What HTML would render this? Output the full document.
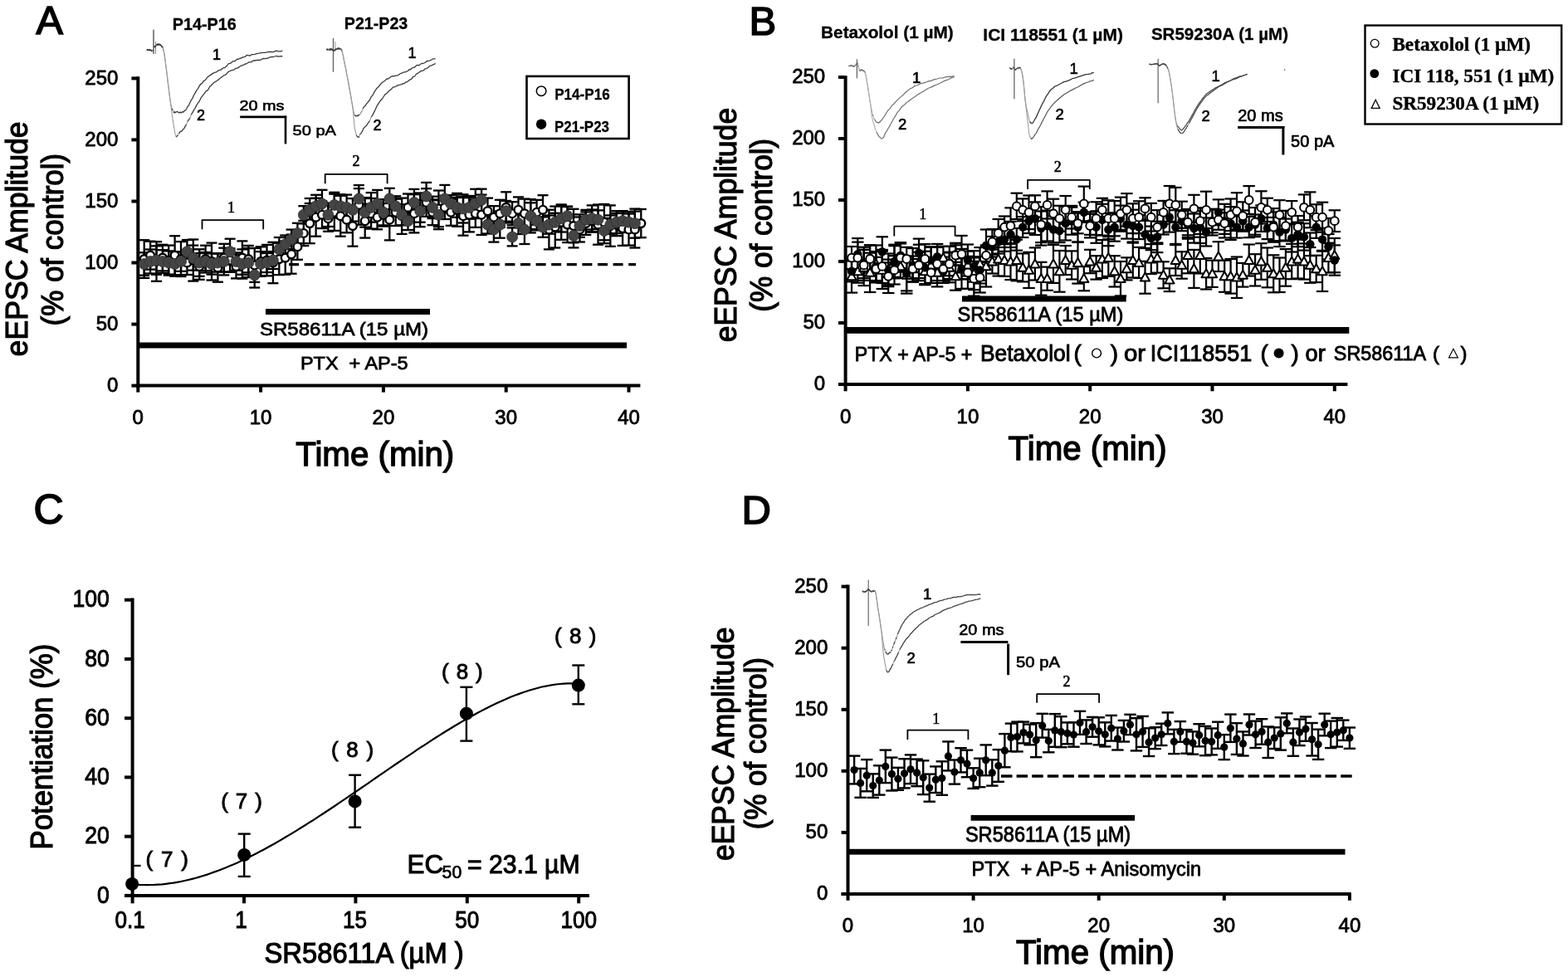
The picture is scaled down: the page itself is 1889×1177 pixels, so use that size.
<!DOCTYPE html>
<html><head><meta charset="utf-8"><title>Figure</title>
<style>html,body{margin:0;padding:0;background:#fff;}svg{display:block;}text{white-space:pre;}</style></head>
<body><svg width="1889" height="1177" viewBox="0 0 1889 1177">
<rect width="1889" height="1177" fill="#fff"/>
<text x="43.6" y="40.6" font-size="48.5" font-family="'Liberation Sans', Arial, sans-serif" stroke="#000" stroke-width="1.65" >A</text>
<text x="207.7" y="35.6" font-size="21" font-family="'Liberation Sans', Arial, sans-serif" font-weight="bold" textLength="77.0" lengthAdjust="spacingAndGlyphs" stroke="#000" stroke-width="0.32" >P14-P16</text>
<text x="414.8" y="35.4" font-size="21" font-family="'Liberation Sans', Arial, sans-serif" font-weight="bold" textLength="76.5" lengthAdjust="spacingAndGlyphs" stroke="#000" stroke-width="0.32" >P21-P23</text>
<line x1="185.0" y1="35.7" x2="185.0" y2="65.0" stroke="#555" stroke-width="1.4" />
<line x1="187.5" y1="50.0" x2="187.5" y2="65.0" stroke="#888" stroke-width="1.0" />
<path d="M177.0,59.6 L177.4,60.1 L178.1,59.9 L178.8,60.4 L179.6,60.5 L180.3,59.7 L181.0,59.7" fill="none" stroke="#3a3a3a" stroke-width="1.3" stroke-linejoin="round" />
<path d="M181.0,59.7 L181.6,61.2" fill="none" stroke="#9a9a9a" stroke-width="1.105" stroke-linejoin="round" />
<path d="M181.6,61.2 L182.1,60.4 L182.6,60.6" fill="none" stroke="#3a3a3a" stroke-width="1.3" stroke-linejoin="round" />
<path d="M182.6,60.6 L183.1,62.0" fill="none" stroke="#9a9a9a" stroke-width="1.105" stroke-linejoin="round" />
<path d="M183.1,62.0 L183.6,61.1 L184.0,61.5" fill="none" stroke="#3a3a3a" stroke-width="1.3" stroke-linejoin="round" />
<path d="M184.0,61.5 L184.4,60.5" fill="none" stroke="#9a9a9a" stroke-width="1.105" stroke-linejoin="round" />
<path d="M184.4,60.5 L184.7,60.2" fill="none" stroke="#3a3a3a" stroke-width="1.3" stroke-linejoin="round" />
<path d="M184.7,60.2 L185.0,58.7" fill="none" stroke="#9a9a9a" stroke-width="1.105" stroke-linejoin="round" />
<path d="M185.0,58.7 L185.3,58.6 L185.6,58.2" fill="none" stroke="#3a3a3a" stroke-width="1.3" stroke-linejoin="round" />
<path d="M185.6,58.2 L186.0,57.0" fill="none" stroke="#9a9a9a" stroke-width="1.105" stroke-linejoin="round" />
<path d="M186.0,57.0 L186.4,56.8 L186.9,56.1" fill="none" stroke="#3a3a3a" stroke-width="1.3" stroke-linejoin="round" />
<path d="M186.9,56.1 L187.4,54.6" fill="none" stroke="#9a9a9a" stroke-width="1.105" stroke-linejoin="round" />
<path d="M187.4,54.6 L188.0,55.2 L188.5,54.5 L189.0,53.7 L189.5,53.0 L190.0,54.1 L190.5,53.4 L191.0,53.7 L191.5,54.0 L192.0,53.8 L192.5,54.4 L193.0,53.8 L193.5,54.8 L194.0,54.7" fill="none" stroke="#3a3a3a" stroke-width="1.3" stroke-linejoin="round" />
<path d="M194.0,54.7 L194.5,56.0" fill="none" stroke="#9a9a9a" stroke-width="1.105" stroke-linejoin="round" />
<path d="M194.5,56.0 L195.0,56.6 L195.4,56.0 L195.8,56.7 L196.2,57.6" fill="none" stroke="#3a3a3a" stroke-width="1.3" stroke-linejoin="round" />
<path d="M196.2,57.6 L196.6,59.7" fill="none" stroke="#9a9a9a" stroke-width="1.105" stroke-linejoin="round" />
<path d="M196.6,59.7 L197.0,60.2" fill="none" stroke="#3a3a3a" stroke-width="1.3" stroke-linejoin="round" />
<path d="M197.0,60.2 L197.4,62.2 L197.8,63.9 L198.2,66.9 L198.7,69.6 L199.1,72.8 L199.5,76.6 L200.0,80.1 L200.5,84.5 L201.0,88.3 L201.5,93.0 L202.0,97.3 L202.5,101.8 L203.0,105.3 L203.5,108.3 L204.0,113.3 L204.5,117.3 L205.0,120.7 L205.5,123.4 L206.0,126.3 L206.5,127.8 L206.9,130.6" fill="none" stroke="#9a9a9a" stroke-width="1.105" stroke-linejoin="round" />
<path d="M206.9,130.6 L207.4,131.6 L207.9,132.4 L208.4,133.0" fill="none" stroke="#3a3a3a" stroke-width="1.3" stroke-linejoin="round" />
<path d="M208.4,133.0 L209.0,135.1" fill="none" stroke="#9a9a9a" stroke-width="1.105" stroke-linejoin="round" />
<path d="M209.0,135.1 L209.7,135.8 L210.4,134.6 L211.2,135.8 L212.1,135.0 L213.0,134.5 L214.0,134.7 L215.0,135.6 L216.2,136.0 L217.3,134.9 L218.5,135.9 L219.8,134.7 L221.0,135.1 L222.2,133.4 L223.5,132.8 L224.7,131.3 L226.0,128.5 L227.4,127.1 L228.8,123.7 L230.3,120.7 L231.9,118.6 L233.6,114.5 L235.3,111.6 L236.9,108.9 L238.6,106.6 L240.2,103.5 L241.9,101.1 L243.6,100.4 L245.2,97.6 L246.8,96.9 L248.4,95.2 L249.9,93.0 L251.3,91.9 L252.6,90.9 L254.0,90.1 L255.4,89.1 L257.0,88.1 L258.7,87.3 L260.5,86.9 L262.4,85.4 L264.3,84.5 L266.2,84.2 L267.9,82.5 L269.5,81.6 L271.0,81.6 L272.5,79.8 L273.9,78.7 L275.4,76.7 L277.0,76.4 L278.7,75.6 L280.4,73.8 L282.2,73.8 L284.0,72.9 L285.8,71.2 L287.5,71.3 L289.1,70.3 L290.7,70.0 L292.3,68.9 L293.8,68.9 L295.4,68.4 L297.0,66.7 L298.6,66.4 L300.1,67.0 L301.6,67.1 L303.3,65.6 L305.1,65.6 L307.1,65.4 L309.4,64.6 L311.9,64.2 L314.6,63.7 L317.4,63.4 L320.2,63.3 L323.0,62.5 L326.0,62.3 L329.3,62.6 L332.7,61.1 L335.8,61.8 L338.5,61.8 L340.4,61.0" fill="none" stroke="#3a3a3a" stroke-width="1.3" stroke-linejoin="round" />
<path d="M177.0,59.6 L177.4,60.5 L178.1,59.7 L178.8,59.7 L179.6,60.2 L180.3,60.7 L181.0,59.9 L181.6,60.4 L182.1,60.6 L182.6,61.6 L183.1,61.1 L183.6,61.7" fill="none" stroke="#3a3a3a" stroke-width="1.3" stroke-linejoin="round" />
<path d="M183.6,61.7 L184.0,60.5" fill="none" stroke="#9a9a9a" stroke-width="1.105" stroke-linejoin="round" />
<path d="M184.0,60.5 L184.4,60.3 L184.7,60.2 L185.0,59.8" fill="none" stroke="#3a3a3a" stroke-width="1.3" stroke-linejoin="round" />
<path d="M185.0,59.8 L185.3,58.3 L185.6,57.2" fill="none" stroke="#9a9a9a" stroke-width="1.105" stroke-linejoin="round" />
<path d="M185.6,57.2 L186.0,56.4 L186.4,56.5 L186.9,55.3 L187.4,55.8 L188.0,55.3" fill="none" stroke="#3a3a3a" stroke-width="1.3" stroke-linejoin="round" />
<path d="M188.0,55.3 L188.5,53.8" fill="none" stroke="#9a9a9a" stroke-width="1.105" stroke-linejoin="round" />
<path d="M188.5,53.8 L189.0,53.6 L189.5,54.2 L190.0,53.8 L190.5,53.9 L191.0,53.1 L191.5,52.8 L192.0,53.2 L192.5,54.2 L193.0,53.6 L193.5,54.1 L194.0,54.7 L194.5,55.2 L195.0,55.9" fill="none" stroke="#3a3a3a" stroke-width="1.3" stroke-linejoin="round" />
<path d="M195.0,55.9 L195.4,57.3" fill="none" stroke="#9a9a9a" stroke-width="1.105" stroke-linejoin="round" />
<path d="M195.4,57.3 L195.8,56.7 L196.2,57.2" fill="none" stroke="#3a3a3a" stroke-width="1.3" stroke-linejoin="round" />
<path d="M196.2,57.2 L196.6,59.7 L197.0,60.9 L197.4,62.8 L197.8,64.1 L198.2,67.6 L198.7,70.5 L199.1,72.6 L199.5,76.8 L200.0,80.5 L200.5,84.0 L201.0,87.9 L201.5,91.8 L202.0,96.3 L202.5,100.4 L203.0,104.3 L203.5,109.1 L204.0,112.5 L204.5,117.2 L205.0,119.8 L205.5,124.9 L206.0,128.3 L206.5,132.5 L207.0,136.3 L207.5,140.2 L208.0,143.4 L208.5,146.0 L209.0,150.4 L209.5,152.5 L210.0,155.7 L210.5,159.0 L211.0,161.2 L211.5,162.9 L212.1,164.9" fill="none" stroke="#9a9a9a" stroke-width="1.105" stroke-linejoin="round" />
<path d="M212.1,164.9 L212.7,164.7 L213.3,163.9 L213.9,162.9 L214.6,162.7" fill="none" stroke="#3a3a3a" stroke-width="1.3" stroke-linejoin="round" />
<path d="M214.6,162.7 L215.3,160.9" fill="none" stroke="#9a9a9a" stroke-width="1.105" stroke-linejoin="round" />
<path d="M215.3,160.9 L216.0,160.5 L216.7,159.1 L217.4,158.3 L218.2,158.3 L219.0,158.1 L219.9,156.2 L220.9,155.9 L222.0,154.4 L223.2,152.1 L224.5,149.9" fill="none" stroke="#3a3a3a" stroke-width="1.3" stroke-linejoin="round" />
<path d="M224.5,149.9 L225.9,146.1" fill="none" stroke="#9a9a9a" stroke-width="1.105" stroke-linejoin="round" />
<path d="M225.9,146.1 L227.3,144.5 L228.8,142.3" fill="none" stroke="#3a3a3a" stroke-width="1.3" stroke-linejoin="round" />
<path d="M228.8,142.3 L230.3,138.2" fill="none" stroke="#9a9a9a" stroke-width="1.105" stroke-linejoin="round" />
<path d="M230.3,138.2 L231.9,135.6 L233.6,132.5 L235.3,129.8 L236.9,126.6 L238.6,124.0 L240.2,121.9 L241.9,118.2 L243.6,115.9 L245.2,113.8 L246.8,111.7 L248.4,109.6 L249.9,109.2 L251.3,107.2 L252.6,104.4 L254.0,103.5 L255.4,101.7 L257.0,100.2 L258.7,98.8 L260.5,97.9 L262.4,96.5 L264.3,94.9 L266.2,93.4 L267.9,92.4 L269.5,90.9 L271.0,90.4 L272.5,89.5 L273.9,87.9 L275.4,86.3 L277.0,85.5 L278.7,84.8 L280.4,84.3 L282.2,83.8 L284.0,82.3 L285.8,82.2 L287.5,81.1 L289.1,80.0 L290.7,79.1 L292.3,78.6 L293.8,78.2 L295.4,77.0 L297.0,76.8 L298.6,75.8 L300.1,74.9 L301.6,74.8 L303.3,74.5 L305.1,73.0 L307.1,73.0 L309.4,72.4 L311.9,72.5 L314.6,71.9 L317.4,70.4 L320.2,70.7 L323.0,70.0 L326.0,68.6 L329.3,68.5 L332.7,67.5 L335.8,68.2 L338.5,67.7 L340.4,67.8" fill="none" stroke="#3a3a3a" stroke-width="1.3" stroke-linejoin="round" />
<text x="256.0" y="72.0" font-size="18" font-family="'Liberation Sans', Arial, sans-serif" stroke="#000" stroke-width="0.61" >1</text>
<text x="237.0" y="144.7" font-size="18" font-family="'Liberation Sans', Arial, sans-serif" stroke="#000" stroke-width="0.61" >2</text>
<text x="288.5" y="133.2" font-size="17" font-family="'Liberation Sans', Arial, sans-serif" textLength="54.0" lengthAdjust="spacingAndGlyphs" stroke="#000" stroke-width="0.58" >20 ms</text>
<line x1="289.2" y1="140.9" x2="345.2" y2="140.9" stroke="#000" stroke-width="2.6" />
<line x1="344.0" y1="139.6" x2="344.0" y2="173.4" stroke="#000" stroke-width="2.6" />
<text x="352.5" y="163.0" font-size="17" font-family="'Liberation Sans', Arial, sans-serif" textLength="52.5" lengthAdjust="spacingAndGlyphs" stroke="#000" stroke-width="0.58" >50 pA</text>
<line x1="401.5" y1="45.9" x2="401.5" y2="86.7" stroke="#666" stroke-width="1.4" />
<line x1="404.0" y1="50.0" x2="404.0" y2="62.0" stroke="#999" stroke-width="1.0" />
<path d="M393.3,59.9 L393.6,59.7 L394.0,60.0 L394.5,59.8 L395.0,59.2 L395.5,60.1 L396.0,59.2 L396.5,59.4 L397.0,60.3 L397.6,58.9 L398.1,58.9 L398.7,58.8 L399.2,60.0 L399.7,59.0 L400.2,59.0" fill="none" stroke="#3a3a3a" stroke-width="1.3" stroke-linejoin="round" />
<path d="M400.2,59.0 L400.6,60.5" fill="none" stroke="#9a9a9a" stroke-width="1.105" stroke-linejoin="round" />
<path d="M400.6,60.5 L401.1,59.6" fill="none" stroke="#3a3a3a" stroke-width="1.3" stroke-linejoin="round" />
<path d="M401.1,59.6 L401.5,61.0" fill="none" stroke="#9a9a9a" stroke-width="1.105" stroke-linejoin="round" />
<path d="M401.5,61.0 L402.0,60.8 L402.5,61.0 L403.0,61.0 L403.5,60.2 L404.0,60.3" fill="none" stroke="#3a3a3a" stroke-width="1.3" stroke-linejoin="round" />
<path d="M404.0,60.3 L404.5,58.9" fill="none" stroke="#9a9a9a" stroke-width="1.105" stroke-linejoin="round" />
<path d="M404.5,58.9 L405.0,59.8 L405.5,59.2 L406.0,59.3" fill="none" stroke="#3a3a3a" stroke-width="1.3" stroke-linejoin="round" />
<path d="M406.0,59.3 L406.4,58.1" fill="none" stroke="#9a9a9a" stroke-width="1.105" stroke-linejoin="round" />
<path d="M406.4,58.1 L406.9,58.9 L407.4,59.1 L408.0,57.8 L408.6,58.3 L409.2,58.7 L409.9,59.3 L410.6,58.8 L411.3,59.5 L411.9,60.9" fill="none" stroke="#3a3a3a" stroke-width="1.3" stroke-linejoin="round" />
<path d="M411.9,60.9 L412.5,63.5 L413.1,66.2 L413.7,68.6 L414.3,71.7 L414.9,74.9 L415.5,77.8 L416.0,80.4 L416.5,82.3 L417.0,85.3 L417.5,88.6 L418.1,90.7 L418.8,95.0 L419.7,98.9 L420.7,105.6 L421.8,112.1 L422.9,118.2 L423.9,123.5 L424.7,127.9 L425.3,131.3 L425.7,133.9" fill="none" stroke="#9a9a9a" stroke-width="1.105" stroke-linejoin="round" />
<path d="M425.7,133.9 L426.0,134.4" fill="none" stroke="#3a3a3a" stroke-width="1.3" stroke-linejoin="round" />
<path d="M426.0,134.4 L426.3,135.5 L426.6,137.5 L427.0,138.7" fill="none" stroke="#9a9a9a" stroke-width="1.105" stroke-linejoin="round" />
<path d="M427.0,138.7 L427.5,138.8 L428.1,139.3 L428.7,140.0 L429.3,139.3 L429.9,139.4 L430.5,139.2 L431.1,139.7 L431.6,139.0 L432.2,138.5 L432.8,138.7 L433.4,138.5" fill="none" stroke="#3a3a3a" stroke-width="1.3" stroke-linejoin="round" />
<path d="M433.4,138.5 L434.0,136.7" fill="none" stroke="#9a9a9a" stroke-width="1.105" stroke-linejoin="round" />
<path d="M434.0,136.7 L434.6,136.4" fill="none" stroke="#3a3a3a" stroke-width="1.3" stroke-linejoin="round" />
<path d="M434.6,136.4 L435.2,134.9" fill="none" stroke="#9a9a9a" stroke-width="1.105" stroke-linejoin="round" />
<path d="M435.2,134.9 L435.8,134.4" fill="none" stroke="#3a3a3a" stroke-width="1.3" stroke-linejoin="round" />
<path d="M435.8,134.4 L436.5,132.7 L437.2,130.9" fill="none" stroke="#9a9a9a" stroke-width="1.105" stroke-linejoin="round" />
<path d="M437.2,130.9 L438.0,129.5 L438.9,128.0 L439.8,127.7 L440.7,126.3 L441.8,124.7 L442.9,123.6 L444.2,121.7 L445.6,120.2 L447.2,116.6 L448.9,115.1 L450.6,111.4 L452.3,108.9 L454.0,106.3 L455.6,104.9 L457.3,103.0 L458.9,100.9 L460.6,99.2 L462.2,98.2 L463.8,97.2 L465.4,95.4 L466.9,95.0 L468.4,94.6 L469.9,93.2 L471.4,92.2 L473.0,91.6 L474.7,91.8 L476.4,91.2 L478.2,91.1 L479.9,90.5 L481.7,89.0 L483.4,88.3 L485.0,87.7 L486.6,86.8 L488.2,86.8 L489.8,86.2 L491.4,85.5 L493.0,83.6 L494.6,83.8 L496.3,82.0 L497.9,81.4 L499.6,81.0 L501.3,79.1 L503.0,78.3 L504.8,78.8 L506.6,77.1 L508.5,76.5 L510.3,76.1 L512.2,75.5 L514.0,73.7 L515.9,73.5 L518.0,72.8 L520.0,72.0 L521.9,70.8 L523.5,70.8 L524.6,70.9" fill="none" stroke="#3a3a3a" stroke-width="1.3" stroke-linejoin="round" />
<path d="M393.3,59.2 L393.6,59.6 L394.0,59.0 L394.5,59.4 L395.0,60.1 L395.5,59.3" fill="none" stroke="#3a3a3a" stroke-width="1.3" stroke-linejoin="round" />
<path d="M395.5,59.3 L396.0,60.6" fill="none" stroke="#9a9a9a" stroke-width="1.105" stroke-linejoin="round" />
<path d="M396.0,60.6 L396.5,60.6" fill="none" stroke="#3a3a3a" stroke-width="1.3" stroke-linejoin="round" />
<path d="M396.5,60.6 L397.0,59.2" fill="none" stroke="#9a9a9a" stroke-width="1.105" stroke-linejoin="round" />
<path d="M397.0,59.2 L397.6,60.4 L398.1,59.3 L398.7,59.9 L399.2,59.8 L399.7,59.2 L400.2,60.0 L400.6,60.2 L401.1,60.7 L401.5,60.0 L402.0,60.9 L402.5,61.2 L403.0,60.6 L403.5,60.1 L404.0,59.2 L404.5,59.6 L405.0,59.2 L405.5,59.5 L406.0,59.2 L406.4,58.8 L406.9,58.0 L407.4,58.7 L408.0,58.7 L408.6,58.1 L409.2,59.3 L409.9,59.0 L410.6,58.6" fill="none" stroke="#3a3a3a" stroke-width="1.3" stroke-linejoin="round" />
<path d="M410.6,58.6 L411.3,60.7" fill="none" stroke="#9a9a9a" stroke-width="1.105" stroke-linejoin="round" />
<path d="M411.3,60.7 L411.9,60.7" fill="none" stroke="#3a3a3a" stroke-width="1.3" stroke-linejoin="round" />
<path d="M411.9,60.7 L412.5,63.0 L413.1,66.2 L413.7,68.9 L414.3,72.0 L414.9,75.3 L415.5,77.9 L416.0,80.3 L416.5,82.4 L417.0,84.6 L417.5,88.2 L418.1,91.3 L418.8,94.7 L419.7,99.7 L420.7,104.6 L421.8,110.4 L422.9,116.7 L423.9,123.3 L424.7,127.2 L425.3,132.6 L425.7,136.6 L426.0,141.6 L426.3,144.9 L426.6,148.5 L427.0,151.8 L427.5,155.1 L428.1,158.2 L428.7,160.1 L429.3,163.0" fill="none" stroke="#9a9a9a" stroke-width="1.105" stroke-linejoin="round" />
<path d="M429.3,163.0 L429.9,163.5 L430.5,164.8 L431.1,165.0 L431.6,164.9 L432.2,165.3 L432.8,164.3" fill="none" stroke="#3a3a3a" stroke-width="1.3" stroke-linejoin="round" />
<path d="M432.8,164.3 L433.4,162.4" fill="none" stroke="#9a9a9a" stroke-width="1.105" stroke-linejoin="round" />
<path d="M433.4,162.4 L434.0,161.5 L434.6,160.9 L435.2,160.4 L435.8,159.3 L436.5,157.9 L437.2,156.4 L438.0,154.4 L438.9,153.8 L439.8,152.5 L440.7,152.1 L441.8,151.0 L442.9,149.0 L444.2,147.1 L445.6,145.3" fill="none" stroke="#3a3a3a" stroke-width="1.3" stroke-linejoin="round" />
<path d="M445.6,145.3 L447.2,140.9" fill="none" stroke="#9a9a9a" stroke-width="1.105" stroke-linejoin="round" />
<path d="M447.2,140.9 L448.9,138.6 L450.6,135.1 L452.3,131.7 L454.0,127.7 L455.6,125.3 L457.2,122.9 L458.8,120.7 L460.4,119.0 L462.1,116.5 L463.8,113.9 L465.7,112.8 L467.6,110.4 L469.6,108.8 L471.6,107.4 L473.6,104.9 L475.6,104.8 L477.6,103.7 L479.7,102.7 L481.7,102.2 L483.7,101.6 L485.6,100.7 L487.3,100.5 L488.8,98.9 L490.2,98.8 L491.4,98.1 L492.6,96.9 L493.7,96.1 L495.0,95.7 L496.3,94.6 L497.5,92.4 L498.8,92.4 L500.1,91.1 L501.5,89.2 L503.0,88.6 L504.7,87.3 L506.5,85.9 L508.3,85.4 L510.3,84.9 L512.2,82.8 L514.0,82.6 L515.9,81.2 L518.0,79.1 L520.0,79.1 L521.9,77.7 L523.5,77.3 L524.6,76.3" fill="none" stroke="#3a3a3a" stroke-width="1.3" stroke-linejoin="round" />
<text x="491.5" y="70.1" font-size="18" font-family="'Liberation Sans', Arial, sans-serif" stroke="#000" stroke-width="0.61" >1</text>
<text x="449.5" y="156.9" font-size="18" font-family="'Liberation Sans', Arial, sans-serif" stroke="#000" stroke-width="0.61" >2</text>
<rect x="634.5" y="91.9" width="123.1" height="75.1" fill="#fff" stroke="#000" stroke-width="2.6"/>
<circle cx="652.1" cy="109.7" r="5.8" fill="#fff" stroke="#000" stroke-width="1.5"/>
<text x="668.2" y="120.3" font-size="17.5" font-family="'Liberation Sans', Arial, sans-serif" font-weight="bold" textLength="66.5" lengthAdjust="spacingAndGlyphs" stroke="#000" stroke-width="0.26" >P14-P16</text>
<circle cx="652.1" cy="149.7" r="6.2" fill="#000" stroke="none" stroke-width="0"/>
<text x="668.0" y="158.6" font-size="17.5" font-family="'Liberation Sans', Arial, sans-serif" font-weight="bold" textLength="66.0" lengthAdjust="spacingAndGlyphs" stroke="#000" stroke-width="0.26" >P21-P23</text>
<line x1="166.3" y1="92.3" x2="166.3" y2="466.6" stroke="#000" stroke-width="4" />
<line x1="158.4" y1="94.4" x2="166.3" y2="94.4" stroke="#000" stroke-width="4" />
<text x="142.4" y="101.6" font-size="24" font-family="'Liberation Sans', Arial, sans-serif" text-anchor="end" stroke="#000" stroke-width="0.82" >250</text>
<line x1="158.4" y1="168.4" x2="166.3" y2="168.4" stroke="#000" stroke-width="4" />
<text x="142.4" y="175.6" font-size="24" font-family="'Liberation Sans', Arial, sans-serif" text-anchor="end" stroke="#000" stroke-width="0.82" >200</text>
<line x1="158.4" y1="242.5" x2="166.3" y2="242.5" stroke="#000" stroke-width="4" />
<text x="142.4" y="249.7" font-size="24" font-family="'Liberation Sans', Arial, sans-serif" text-anchor="end" stroke="#000" stroke-width="0.82" >150</text>
<line x1="158.4" y1="316.5" x2="166.3" y2="316.5" stroke="#000" stroke-width="4" />
<text x="142.4" y="323.7" font-size="24" font-family="'Liberation Sans', Arial, sans-serif" text-anchor="end" stroke="#000" stroke-width="0.82" >100</text>
<line x1="158.4" y1="390.6" x2="166.3" y2="390.6" stroke="#000" stroke-width="4" />
<text x="142.4" y="397.8" font-size="24" font-family="'Liberation Sans', Arial, sans-serif" text-anchor="end" stroke="#000" stroke-width="0.82" >50</text>
<line x1="158.4" y1="464.6" x2="166.3" y2="464.6" stroke="#000" stroke-width="4" />
<text x="142.4" y="471.8" font-size="24" font-family="'Liberation Sans', Arial, sans-serif" text-anchor="end" stroke="#000" stroke-width="0.82" >0</text>
<line x1="164.3" y1="464.6" x2="771.4" y2="464.6" stroke="#000" stroke-width="4" />
<line x1="166.3" y1="464.6" x2="166.3" y2="472.6" stroke="#000" stroke-width="4" />
<text x="166.3" y="511.3" font-size="24" font-family="'Liberation Sans', Arial, sans-serif" text-anchor="middle" stroke="#000" stroke-width="0.82" >0</text>
<line x1="314.1" y1="464.6" x2="314.1" y2="472.6" stroke="#000" stroke-width="4" />
<text x="314.1" y="511.3" font-size="24" font-family="'Liberation Sans', Arial, sans-serif" text-anchor="middle" stroke="#000" stroke-width="0.82" >10</text>
<line x1="461.9" y1="464.6" x2="461.9" y2="472.6" stroke="#000" stroke-width="4" />
<text x="461.9" y="511.3" font-size="24" font-family="'Liberation Sans', Arial, sans-serif" text-anchor="middle" stroke="#000" stroke-width="0.82" >20</text>
<line x1="609.7" y1="464.6" x2="609.7" y2="472.6" stroke="#000" stroke-width="4" />
<text x="609.7" y="511.3" font-size="24" font-family="'Liberation Sans', Arial, sans-serif" text-anchor="middle" stroke="#000" stroke-width="0.82" >30</text>
<line x1="757.5" y1="464.6" x2="757.5" y2="472.6" stroke="#000" stroke-width="4" />
<text x="757.5" y="511.3" font-size="24" font-family="'Liberation Sans', Arial, sans-serif" text-anchor="middle" stroke="#000" stroke-width="0.82" >40</text>
<text x="451.8" y="560.7" font-size="41.5" font-family="'Liberation Sans', Arial, sans-serif" text-anchor="middle" textLength="191.0" lengthAdjust="spacingAndGlyphs" stroke="#000" stroke-width="1.41" >Time (min)</text>
<text x="33.5" y="287.9" font-size="36" font-family="'Liberation Sans', Arial, sans-serif" text-anchor="middle" textLength="283.0" lengthAdjust="spacingAndGlyphs" transform="rotate(-90 33.5 287.9)" stroke="#000" stroke-width="1.22" >eEPSC Amplitude</text>
<text x="76.0" y="288.7" font-size="36" font-family="'Liberation Sans', Arial, sans-serif" text-anchor="middle" textLength="207.5" lengthAdjust="spacingAndGlyphs" transform="rotate(-90 76.0 288.7)" stroke="#000" stroke-width="1.22" >(% of control)</text>
<rect x="320.0" y="372.0" width="198.0" height="7.0" fill="#000"/>
<text x="313.0" y="403.6" font-size="22.5" font-family="'Liberation Sans', Arial, sans-serif" textLength="203.0" lengthAdjust="spacingAndGlyphs" stroke="#000" stroke-width="0.77" >SR58611A (15 µM)</text>
<rect x="168.0" y="412.5" width="587.0" height="7.0" fill="#000"/>
<text x="362.0" y="444.5" font-size="22.5" font-family="'Liberation Sans', Arial, sans-serif" textLength="129.5" lengthAdjust="spacingAndGlyphs" stroke="#000" stroke-width="0.77" >PTX  + AP-5</text>
<path d="M243.5,276.2 L243.5,265.2 L317.2,265.2 L317.2,276.2" fill="none" stroke="#000" stroke-width="1.8" stroke-linejoin="round" />
<text x="278.6" y="255.9" font-size="18" font-family="'Liberation Serif', 'Times New Roman', serif" text-anchor="middle" stroke="#000" stroke-width="0.61" >1</text>
<path d="M391.7,221.2 L391.7,209.8 L466.6,209.8 L466.6,221.2" fill="none" stroke="#000" stroke-width="1.8" stroke-linejoin="round" />
<text x="429.0" y="200.0" font-size="18" font-family="'Liberation Serif', 'Times New Roman', serif" text-anchor="middle" stroke="#000" stroke-width="0.61" >2</text>
<line x1="348.0" y1="318.6" x2="766.0" y2="318.6" stroke="#000" stroke-width="3.4" stroke-dasharray="12 6.6"/>
<line x1="173.7" y1="334.9" x2="173.7" y2="289.2" stroke="#000" stroke-width="2.3" />
<line x1="167.2" y1="334.9" x2="180.2" y2="334.9" stroke="#000" stroke-width="2.3" />
<line x1="167.2" y1="289.2" x2="180.2" y2="289.2" stroke="#000" stroke-width="2.3" />
<line x1="181.1" y1="324.6" x2="181.1" y2="290.7" stroke="#000" stroke-width="2.3" />
<line x1="174.6" y1="324.6" x2="187.6" y2="324.6" stroke="#000" stroke-width="2.3" />
<line x1="174.6" y1="290.7" x2="187.6" y2="290.7" stroke="#000" stroke-width="2.3" />
<line x1="188.5" y1="338.8" x2="188.5" y2="291.2" stroke="#000" stroke-width="2.3" />
<line x1="182.0" y1="338.8" x2="195.0" y2="338.8" stroke="#000" stroke-width="2.3" />
<line x1="182.0" y1="291.2" x2="195.0" y2="291.2" stroke="#000" stroke-width="2.3" />
<line x1="195.9" y1="326.4" x2="195.9" y2="294.8" stroke="#000" stroke-width="2.3" />
<line x1="189.4" y1="326.4" x2="202.4" y2="326.4" stroke="#000" stroke-width="2.3" />
<line x1="189.4" y1="294.8" x2="202.4" y2="294.8" stroke="#000" stroke-width="2.3" />
<line x1="203.2" y1="331.6" x2="203.2" y2="295.6" stroke="#000" stroke-width="2.3" />
<line x1="196.8" y1="331.6" x2="209.8" y2="331.6" stroke="#000" stroke-width="2.3" />
<line x1="196.8" y1="295.6" x2="209.8" y2="295.6" stroke="#000" stroke-width="2.3" />
<line x1="210.6" y1="331.1" x2="210.6" y2="284.2" stroke="#000" stroke-width="2.3" />
<line x1="204.1" y1="331.1" x2="217.1" y2="331.1" stroke="#000" stroke-width="2.3" />
<line x1="204.1" y1="284.2" x2="217.1" y2="284.2" stroke="#000" stroke-width="2.3" />
<line x1="218.0" y1="333.0" x2="218.0" y2="291.1" stroke="#000" stroke-width="2.3" />
<line x1="211.5" y1="333.0" x2="224.5" y2="333.0" stroke="#000" stroke-width="2.3" />
<line x1="211.5" y1="291.1" x2="224.5" y2="291.1" stroke="#000" stroke-width="2.3" />
<line x1="225.4" y1="331.0" x2="225.4" y2="302.0" stroke="#000" stroke-width="2.3" />
<line x1="218.9" y1="331.0" x2="231.9" y2="331.0" stroke="#000" stroke-width="2.3" />
<line x1="218.9" y1="302.0" x2="231.9" y2="302.0" stroke="#000" stroke-width="2.3" />
<line x1="232.8" y1="338.6" x2="232.8" y2="288.5" stroke="#000" stroke-width="2.3" />
<line x1="226.3" y1="338.6" x2="239.3" y2="338.6" stroke="#000" stroke-width="2.3" />
<line x1="226.3" y1="288.5" x2="239.3" y2="288.5" stroke="#000" stroke-width="2.3" />
<line x1="240.2" y1="336.8" x2="240.2" y2="305.1" stroke="#000" stroke-width="2.3" />
<line x1="233.7" y1="336.8" x2="246.7" y2="336.8" stroke="#000" stroke-width="2.3" />
<line x1="233.7" y1="305.1" x2="246.7" y2="305.1" stroke="#000" stroke-width="2.3" />
<line x1="247.6" y1="328.5" x2="247.6" y2="295.7" stroke="#000" stroke-width="2.3" />
<line x1="241.1" y1="328.5" x2="254.1" y2="328.5" stroke="#000" stroke-width="2.3" />
<line x1="241.1" y1="295.7" x2="254.1" y2="295.7" stroke="#000" stroke-width="2.3" />
<line x1="255.0" y1="337.5" x2="255.0" y2="292.6" stroke="#000" stroke-width="2.3" />
<line x1="248.5" y1="337.5" x2="261.5" y2="337.5" stroke="#000" stroke-width="2.3" />
<line x1="248.5" y1="292.6" x2="261.5" y2="292.6" stroke="#000" stroke-width="2.3" />
<line x1="262.4" y1="339.7" x2="262.4" y2="305.2" stroke="#000" stroke-width="2.3" />
<line x1="255.9" y1="339.7" x2="268.9" y2="339.7" stroke="#000" stroke-width="2.3" />
<line x1="255.9" y1="305.2" x2="268.9" y2="305.2" stroke="#000" stroke-width="2.3" />
<line x1="269.8" y1="327.4" x2="269.8" y2="293.8" stroke="#000" stroke-width="2.3" />
<line x1="263.3" y1="327.4" x2="276.3" y2="327.4" stroke="#000" stroke-width="2.3" />
<line x1="263.3" y1="293.8" x2="276.3" y2="293.8" stroke="#000" stroke-width="2.3" />
<line x1="277.1" y1="327.8" x2="277.1" y2="299.4" stroke="#000" stroke-width="2.3" />
<line x1="270.6" y1="327.8" x2="283.6" y2="327.8" stroke="#000" stroke-width="2.3" />
<line x1="270.6" y1="299.4" x2="283.6" y2="299.4" stroke="#000" stroke-width="2.3" />
<line x1="284.5" y1="335.4" x2="284.5" y2="306.6" stroke="#000" stroke-width="2.3" />
<line x1="278.0" y1="335.4" x2="291.0" y2="335.4" stroke="#000" stroke-width="2.3" />
<line x1="278.0" y1="306.6" x2="291.0" y2="306.6" stroke="#000" stroke-width="2.3" />
<line x1="291.9" y1="330.8" x2="291.9" y2="290.4" stroke="#000" stroke-width="2.3" />
<line x1="285.4" y1="330.8" x2="298.4" y2="330.8" stroke="#000" stroke-width="2.3" />
<line x1="285.4" y1="290.4" x2="298.4" y2="290.4" stroke="#000" stroke-width="2.3" />
<line x1="299.3" y1="328.3" x2="299.3" y2="295.9" stroke="#000" stroke-width="2.3" />
<line x1="292.8" y1="328.3" x2="305.8" y2="328.3" stroke="#000" stroke-width="2.3" />
<line x1="292.8" y1="295.9" x2="305.8" y2="295.9" stroke="#000" stroke-width="2.3" />
<line x1="306.7" y1="339.9" x2="306.7" y2="299.0" stroke="#000" stroke-width="2.3" />
<line x1="300.2" y1="339.9" x2="313.2" y2="339.9" stroke="#000" stroke-width="2.3" />
<line x1="300.2" y1="299.0" x2="313.2" y2="299.0" stroke="#000" stroke-width="2.3" />
<line x1="314.1" y1="332.8" x2="314.1" y2="297.3" stroke="#000" stroke-width="2.3" />
<line x1="307.6" y1="332.8" x2="320.6" y2="332.8" stroke="#000" stroke-width="2.3" />
<line x1="307.6" y1="297.3" x2="320.6" y2="297.3" stroke="#000" stroke-width="2.3" />
<line x1="321.5" y1="332.3" x2="321.5" y2="294.9" stroke="#000" stroke-width="2.3" />
<line x1="315.0" y1="332.3" x2="328.0" y2="332.3" stroke="#000" stroke-width="2.3" />
<line x1="315.0" y1="294.9" x2="328.0" y2="294.9" stroke="#000" stroke-width="2.3" />
<line x1="328.9" y1="341.2" x2="328.9" y2="291.8" stroke="#000" stroke-width="2.3" />
<line x1="322.4" y1="341.2" x2="335.4" y2="341.2" stroke="#000" stroke-width="2.3" />
<line x1="322.4" y1="291.8" x2="335.4" y2="291.8" stroke="#000" stroke-width="2.3" />
<line x1="336.3" y1="331.1" x2="336.3" y2="293.0" stroke="#000" stroke-width="2.3" />
<line x1="329.8" y1="331.1" x2="342.8" y2="331.1" stroke="#000" stroke-width="2.3" />
<line x1="329.8" y1="293.0" x2="342.8" y2="293.0" stroke="#000" stroke-width="2.3" />
<line x1="343.7" y1="330.7" x2="343.7" y2="290.5" stroke="#000" stroke-width="2.3" />
<line x1="337.2" y1="330.7" x2="350.2" y2="330.7" stroke="#000" stroke-width="2.3" />
<line x1="337.2" y1="290.5" x2="350.2" y2="290.5" stroke="#000" stroke-width="2.3" />
<line x1="351.1" y1="329.7" x2="351.1" y2="282.6" stroke="#000" stroke-width="2.3" />
<line x1="344.6" y1="329.7" x2="357.6" y2="329.7" stroke="#000" stroke-width="2.3" />
<line x1="344.6" y1="282.6" x2="357.6" y2="282.6" stroke="#000" stroke-width="2.3" />
<line x1="358.4" y1="312.8" x2="358.4" y2="281.8" stroke="#000" stroke-width="2.3" />
<line x1="351.9" y1="312.8" x2="364.9" y2="312.8" stroke="#000" stroke-width="2.3" />
<line x1="351.9" y1="281.8" x2="364.9" y2="281.8" stroke="#000" stroke-width="2.3" />
<line x1="365.8" y1="296.1" x2="365.8" y2="265.8" stroke="#000" stroke-width="2.3" />
<line x1="359.3" y1="296.1" x2="372.3" y2="296.1" stroke="#000" stroke-width="2.3" />
<line x1="359.3" y1="265.8" x2="372.3" y2="265.8" stroke="#000" stroke-width="2.3" />
<line x1="373.2" y1="293.2" x2="373.2" y2="245.0" stroke="#000" stroke-width="2.3" />
<line x1="366.7" y1="293.2" x2="379.7" y2="293.2" stroke="#000" stroke-width="2.3" />
<line x1="366.7" y1="245.0" x2="379.7" y2="245.0" stroke="#000" stroke-width="2.3" />
<line x1="380.6" y1="284.7" x2="380.6" y2="238.7" stroke="#000" stroke-width="2.3" />
<line x1="374.1" y1="284.7" x2="387.1" y2="284.7" stroke="#000" stroke-width="2.3" />
<line x1="374.1" y1="238.7" x2="387.1" y2="238.7" stroke="#000" stroke-width="2.3" />
<line x1="388.0" y1="275.1" x2="388.0" y2="242.5" stroke="#000" stroke-width="2.3" />
<line x1="381.5" y1="275.1" x2="394.5" y2="275.1" stroke="#000" stroke-width="2.3" />
<line x1="381.5" y1="242.5" x2="394.5" y2="242.5" stroke="#000" stroke-width="2.3" />
<line x1="395.4" y1="278.8" x2="395.4" y2="247.6" stroke="#000" stroke-width="2.3" />
<line x1="388.9" y1="278.8" x2="401.9" y2="278.8" stroke="#000" stroke-width="2.3" />
<line x1="388.9" y1="247.6" x2="401.9" y2="247.6" stroke="#000" stroke-width="2.3" />
<line x1="402.8" y1="277.9" x2="402.8" y2="233.7" stroke="#000" stroke-width="2.3" />
<line x1="396.3" y1="277.9" x2="409.3" y2="277.9" stroke="#000" stroke-width="2.3" />
<line x1="396.3" y1="233.7" x2="409.3" y2="233.7" stroke="#000" stroke-width="2.3" />
<line x1="410.2" y1="284.7" x2="410.2" y2="235.8" stroke="#000" stroke-width="2.3" />
<line x1="403.7" y1="284.7" x2="416.7" y2="284.7" stroke="#000" stroke-width="2.3" />
<line x1="403.7" y1="235.8" x2="416.7" y2="235.8" stroke="#000" stroke-width="2.3" />
<line x1="417.6" y1="280.3" x2="417.6" y2="249.0" stroke="#000" stroke-width="2.3" />
<line x1="411.1" y1="280.3" x2="424.1" y2="280.3" stroke="#000" stroke-width="2.3" />
<line x1="411.1" y1="249.0" x2="424.1" y2="249.0" stroke="#000" stroke-width="2.3" />
<line x1="424.9" y1="296.7" x2="424.9" y2="247.5" stroke="#000" stroke-width="2.3" />
<line x1="418.4" y1="296.7" x2="431.4" y2="296.7" stroke="#000" stroke-width="2.3" />
<line x1="418.4" y1="247.5" x2="431.4" y2="247.5" stroke="#000" stroke-width="2.3" />
<line x1="432.3" y1="270.7" x2="432.3" y2="223.1" stroke="#000" stroke-width="2.3" />
<line x1="425.8" y1="270.7" x2="438.8" y2="270.7" stroke="#000" stroke-width="2.3" />
<line x1="425.8" y1="223.1" x2="438.8" y2="223.1" stroke="#000" stroke-width="2.3" />
<line x1="439.7" y1="286.6" x2="439.7" y2="245.7" stroke="#000" stroke-width="2.3" />
<line x1="433.2" y1="286.6" x2="446.2" y2="286.6" stroke="#000" stroke-width="2.3" />
<line x1="433.2" y1="245.7" x2="446.2" y2="245.7" stroke="#000" stroke-width="2.3" />
<line x1="447.1" y1="275.6" x2="447.1" y2="239.0" stroke="#000" stroke-width="2.3" />
<line x1="440.6" y1="275.6" x2="453.6" y2="275.6" stroke="#000" stroke-width="2.3" />
<line x1="440.6" y1="239.0" x2="453.6" y2="239.0" stroke="#000" stroke-width="2.3" />
<line x1="454.5" y1="276.3" x2="454.5" y2="247.2" stroke="#000" stroke-width="2.3" />
<line x1="448.0" y1="276.3" x2="461.0" y2="276.3" stroke="#000" stroke-width="2.3" />
<line x1="448.0" y1="247.2" x2="461.0" y2="247.2" stroke="#000" stroke-width="2.3" />
<line x1="461.9" y1="272.6" x2="461.9" y2="245.0" stroke="#000" stroke-width="2.3" />
<line x1="455.4" y1="272.6" x2="468.4" y2="272.6" stroke="#000" stroke-width="2.3" />
<line x1="455.4" y1="245.0" x2="468.4" y2="245.0" stroke="#000" stroke-width="2.3" />
<line x1="469.3" y1="289.4" x2="469.3" y2="240.0" stroke="#000" stroke-width="2.3" />
<line x1="462.8" y1="289.4" x2="475.8" y2="289.4" stroke="#000" stroke-width="2.3" />
<line x1="462.8" y1="240.0" x2="475.8" y2="240.0" stroke="#000" stroke-width="2.3" />
<line x1="476.7" y1="272.0" x2="476.7" y2="239.7" stroke="#000" stroke-width="2.3" />
<line x1="470.2" y1="272.0" x2="483.2" y2="272.0" stroke="#000" stroke-width="2.3" />
<line x1="470.2" y1="239.7" x2="483.2" y2="239.7" stroke="#000" stroke-width="2.3" />
<line x1="484.1" y1="281.9" x2="484.1" y2="238.6" stroke="#000" stroke-width="2.3" />
<line x1="477.6" y1="281.9" x2="490.6" y2="281.9" stroke="#000" stroke-width="2.3" />
<line x1="477.6" y1="238.6" x2="490.6" y2="238.6" stroke="#000" stroke-width="2.3" />
<line x1="491.5" y1="266.3" x2="491.5" y2="233.5" stroke="#000" stroke-width="2.3" />
<line x1="485.0" y1="266.3" x2="498.0" y2="266.3" stroke="#000" stroke-width="2.3" />
<line x1="485.0" y1="233.5" x2="498.0" y2="233.5" stroke="#000" stroke-width="2.3" />
<line x1="498.9" y1="280.4" x2="498.9" y2="234.2" stroke="#000" stroke-width="2.3" />
<line x1="492.4" y1="280.4" x2="505.4" y2="280.4" stroke="#000" stroke-width="2.3" />
<line x1="492.4" y1="234.2" x2="505.4" y2="234.2" stroke="#000" stroke-width="2.3" />
<line x1="506.2" y1="273.2" x2="506.2" y2="232.5" stroke="#000" stroke-width="2.3" />
<line x1="499.7" y1="273.2" x2="512.7" y2="273.2" stroke="#000" stroke-width="2.3" />
<line x1="499.7" y1="232.5" x2="512.7" y2="232.5" stroke="#000" stroke-width="2.3" />
<line x1="513.6" y1="260.8" x2="513.6" y2="227.2" stroke="#000" stroke-width="2.3" />
<line x1="507.1" y1="260.8" x2="520.1" y2="260.8" stroke="#000" stroke-width="2.3" />
<line x1="507.1" y1="227.2" x2="520.1" y2="227.2" stroke="#000" stroke-width="2.3" />
<line x1="521.0" y1="271.2" x2="521.0" y2="240.4" stroke="#000" stroke-width="2.3" />
<line x1="514.5" y1="271.2" x2="527.5" y2="271.2" stroke="#000" stroke-width="2.3" />
<line x1="514.5" y1="240.4" x2="527.5" y2="240.4" stroke="#000" stroke-width="2.3" />
<line x1="528.4" y1="273.2" x2="528.4" y2="229.5" stroke="#000" stroke-width="2.3" />
<line x1="521.9" y1="273.2" x2="534.9" y2="273.2" stroke="#000" stroke-width="2.3" />
<line x1="521.9" y1="229.5" x2="534.9" y2="229.5" stroke="#000" stroke-width="2.3" />
<line x1="535.8" y1="264.0" x2="535.8" y2="235.7" stroke="#000" stroke-width="2.3" />
<line x1="529.3" y1="264.0" x2="542.3" y2="264.0" stroke="#000" stroke-width="2.3" />
<line x1="529.3" y1="235.7" x2="542.3" y2="235.7" stroke="#000" stroke-width="2.3" />
<line x1="543.2" y1="271.8" x2="543.2" y2="239.8" stroke="#000" stroke-width="2.3" />
<line x1="536.7" y1="271.8" x2="549.7" y2="271.8" stroke="#000" stroke-width="2.3" />
<line x1="536.7" y1="239.8" x2="549.7" y2="239.8" stroke="#000" stroke-width="2.3" />
<line x1="550.6" y1="272.8" x2="550.6" y2="232.9" stroke="#000" stroke-width="2.3" />
<line x1="544.1" y1="272.8" x2="557.1" y2="272.8" stroke="#000" stroke-width="2.3" />
<line x1="544.1" y1="232.9" x2="557.1" y2="232.9" stroke="#000" stroke-width="2.3" />
<line x1="558.0" y1="283.7" x2="558.0" y2="236.8" stroke="#000" stroke-width="2.3" />
<line x1="551.5" y1="283.7" x2="564.5" y2="283.7" stroke="#000" stroke-width="2.3" />
<line x1="551.5" y1="236.8" x2="564.5" y2="236.8" stroke="#000" stroke-width="2.3" />
<line x1="565.4" y1="279.4" x2="565.4" y2="238.2" stroke="#000" stroke-width="2.3" />
<line x1="558.9" y1="279.4" x2="571.9" y2="279.4" stroke="#000" stroke-width="2.3" />
<line x1="558.9" y1="238.2" x2="571.9" y2="238.2" stroke="#000" stroke-width="2.3" />
<line x1="572.8" y1="273.9" x2="572.8" y2="240.6" stroke="#000" stroke-width="2.3" />
<line x1="566.2" y1="273.9" x2="579.2" y2="273.9" stroke="#000" stroke-width="2.3" />
<line x1="566.2" y1="240.6" x2="579.2" y2="240.6" stroke="#000" stroke-width="2.3" />
<line x1="580.1" y1="283.0" x2="580.1" y2="234.6" stroke="#000" stroke-width="2.3" />
<line x1="573.6" y1="283.0" x2="586.6" y2="283.0" stroke="#000" stroke-width="2.3" />
<line x1="573.6" y1="234.6" x2="586.6" y2="234.6" stroke="#000" stroke-width="2.3" />
<line x1="587.5" y1="270.1" x2="587.5" y2="238.6" stroke="#000" stroke-width="2.3" />
<line x1="581.0" y1="270.1" x2="594.0" y2="270.1" stroke="#000" stroke-width="2.3" />
<line x1="581.0" y1="238.6" x2="594.0" y2="238.6" stroke="#000" stroke-width="2.3" />
<line x1="594.9" y1="275.3" x2="594.9" y2="248.2" stroke="#000" stroke-width="2.3" />
<line x1="588.4" y1="275.3" x2="601.4" y2="275.3" stroke="#000" stroke-width="2.3" />
<line x1="588.4" y1="248.2" x2="601.4" y2="248.2" stroke="#000" stroke-width="2.3" />
<line x1="602.3" y1="273.8" x2="602.3" y2="240.8" stroke="#000" stroke-width="2.3" />
<line x1="595.8" y1="273.8" x2="608.8" y2="273.8" stroke="#000" stroke-width="2.3" />
<line x1="595.8" y1="240.8" x2="608.8" y2="240.8" stroke="#000" stroke-width="2.3" />
<line x1="609.7" y1="268.5" x2="609.7" y2="231.3" stroke="#000" stroke-width="2.3" />
<line x1="603.2" y1="268.5" x2="616.2" y2="268.5" stroke="#000" stroke-width="2.3" />
<line x1="603.2" y1="231.3" x2="616.2" y2="231.3" stroke="#000" stroke-width="2.3" />
<line x1="617.1" y1="271.3" x2="617.1" y2="243.2" stroke="#000" stroke-width="2.3" />
<line x1="610.6" y1="271.3" x2="623.6" y2="271.3" stroke="#000" stroke-width="2.3" />
<line x1="610.6" y1="243.2" x2="623.6" y2="243.2" stroke="#000" stroke-width="2.3" />
<line x1="624.5" y1="268.3" x2="624.5" y2="237.4" stroke="#000" stroke-width="2.3" />
<line x1="618.0" y1="268.3" x2="631.0" y2="268.3" stroke="#000" stroke-width="2.3" />
<line x1="618.0" y1="237.4" x2="631.0" y2="237.4" stroke="#000" stroke-width="2.3" />
<line x1="631.9" y1="275.0" x2="631.9" y2="239.6" stroke="#000" stroke-width="2.3" />
<line x1="625.4" y1="275.0" x2="638.4" y2="275.0" stroke="#000" stroke-width="2.3" />
<line x1="625.4" y1="239.6" x2="638.4" y2="239.6" stroke="#000" stroke-width="2.3" />
<line x1="639.3" y1="280.4" x2="639.3" y2="240.1" stroke="#000" stroke-width="2.3" />
<line x1="632.8" y1="280.4" x2="645.8" y2="280.4" stroke="#000" stroke-width="2.3" />
<line x1="632.8" y1="240.1" x2="645.8" y2="240.1" stroke="#000" stroke-width="2.3" />
<line x1="646.6" y1="270.7" x2="646.6" y2="240.9" stroke="#000" stroke-width="2.3" />
<line x1="640.1" y1="270.7" x2="653.1" y2="270.7" stroke="#000" stroke-width="2.3" />
<line x1="640.1" y1="240.9" x2="653.1" y2="240.9" stroke="#000" stroke-width="2.3" />
<line x1="654.0" y1="270.5" x2="654.0" y2="235.2" stroke="#000" stroke-width="2.3" />
<line x1="647.5" y1="270.5" x2="660.5" y2="270.5" stroke="#000" stroke-width="2.3" />
<line x1="647.5" y1="235.2" x2="660.5" y2="235.2" stroke="#000" stroke-width="2.3" />
<line x1="661.4" y1="300.4" x2="661.4" y2="252.7" stroke="#000" stroke-width="2.3" />
<line x1="654.9" y1="300.4" x2="667.9" y2="300.4" stroke="#000" stroke-width="2.3" />
<line x1="654.9" y1="252.7" x2="667.9" y2="252.7" stroke="#000" stroke-width="2.3" />
<line x1="668.8" y1="298.5" x2="668.8" y2="248.6" stroke="#000" stroke-width="2.3" />
<line x1="662.3" y1="298.5" x2="675.3" y2="298.5" stroke="#000" stroke-width="2.3" />
<line x1="662.3" y1="248.6" x2="675.3" y2="248.6" stroke="#000" stroke-width="2.3" />
<line x1="676.2" y1="288.8" x2="676.2" y2="246.5" stroke="#000" stroke-width="2.3" />
<line x1="669.7" y1="288.8" x2="682.7" y2="288.8" stroke="#000" stroke-width="2.3" />
<line x1="669.7" y1="246.5" x2="682.7" y2="246.5" stroke="#000" stroke-width="2.3" />
<line x1="683.6" y1="292.1" x2="683.6" y2="249.1" stroke="#000" stroke-width="2.3" />
<line x1="677.1" y1="292.1" x2="690.1" y2="292.1" stroke="#000" stroke-width="2.3" />
<line x1="677.1" y1="249.1" x2="690.1" y2="249.1" stroke="#000" stroke-width="2.3" />
<line x1="691.0" y1="292.3" x2="691.0" y2="251.8" stroke="#000" stroke-width="2.3" />
<line x1="684.5" y1="292.3" x2="697.5" y2="292.3" stroke="#000" stroke-width="2.3" />
<line x1="684.5" y1="251.8" x2="697.5" y2="251.8" stroke="#000" stroke-width="2.3" />
<line x1="698.4" y1="291.5" x2="698.4" y2="261.5" stroke="#000" stroke-width="2.3" />
<line x1="691.9" y1="291.5" x2="704.9" y2="291.5" stroke="#000" stroke-width="2.3" />
<line x1="691.9" y1="261.5" x2="704.9" y2="261.5" stroke="#000" stroke-width="2.3" />
<line x1="705.8" y1="282.9" x2="705.8" y2="255.4" stroke="#000" stroke-width="2.3" />
<line x1="699.3" y1="282.9" x2="712.3" y2="282.9" stroke="#000" stroke-width="2.3" />
<line x1="699.3" y1="255.4" x2="712.3" y2="255.4" stroke="#000" stroke-width="2.3" />
<line x1="713.2" y1="279.7" x2="713.2" y2="252.6" stroke="#000" stroke-width="2.3" />
<line x1="706.7" y1="279.7" x2="719.7" y2="279.7" stroke="#000" stroke-width="2.3" />
<line x1="706.7" y1="252.6" x2="719.7" y2="252.6" stroke="#000" stroke-width="2.3" />
<line x1="720.5" y1="294.7" x2="720.5" y2="246.5" stroke="#000" stroke-width="2.3" />
<line x1="714.0" y1="294.7" x2="727.0" y2="294.7" stroke="#000" stroke-width="2.3" />
<line x1="714.0" y1="246.5" x2="727.0" y2="246.5" stroke="#000" stroke-width="2.3" />
<line x1="727.9" y1="289.3" x2="727.9" y2="246.0" stroke="#000" stroke-width="2.3" />
<line x1="721.4" y1="289.3" x2="734.4" y2="289.3" stroke="#000" stroke-width="2.3" />
<line x1="721.4" y1="246.0" x2="734.4" y2="246.0" stroke="#000" stroke-width="2.3" />
<line x1="735.3" y1="296.8" x2="735.3" y2="247.4" stroke="#000" stroke-width="2.3" />
<line x1="728.8" y1="296.8" x2="741.8" y2="296.8" stroke="#000" stroke-width="2.3" />
<line x1="728.8" y1="247.4" x2="741.8" y2="247.4" stroke="#000" stroke-width="2.3" />
<line x1="742.7" y1="284.2" x2="742.7" y2="257.0" stroke="#000" stroke-width="2.3" />
<line x1="736.2" y1="284.2" x2="749.2" y2="284.2" stroke="#000" stroke-width="2.3" />
<line x1="736.2" y1="257.0" x2="749.2" y2="257.0" stroke="#000" stroke-width="2.3" />
<line x1="750.1" y1="295.9" x2="750.1" y2="254.2" stroke="#000" stroke-width="2.3" />
<line x1="743.6" y1="295.9" x2="756.6" y2="295.9" stroke="#000" stroke-width="2.3" />
<line x1="743.6" y1="254.2" x2="756.6" y2="254.2" stroke="#000" stroke-width="2.3" />
<line x1="757.5" y1="295.6" x2="757.5" y2="257.5" stroke="#000" stroke-width="2.3" />
<line x1="751.0" y1="295.6" x2="764.0" y2="295.6" stroke="#000" stroke-width="2.3" />
<line x1="751.0" y1="257.5" x2="764.0" y2="257.5" stroke="#000" stroke-width="2.3" />
<line x1="764.9" y1="298.5" x2="764.9" y2="254.6" stroke="#000" stroke-width="2.3" />
<line x1="758.4" y1="298.5" x2="771.4" y2="298.5" stroke="#000" stroke-width="2.3" />
<line x1="758.4" y1="254.6" x2="771.4" y2="254.6" stroke="#000" stroke-width="2.3" />
<line x1="772.3" y1="286.2" x2="772.3" y2="252.0" stroke="#000" stroke-width="2.3" />
<line x1="765.8" y1="286.2" x2="778.8" y2="286.2" stroke="#000" stroke-width="2.3" />
<line x1="765.8" y1="252.0" x2="778.8" y2="252.0" stroke="#000" stroke-width="2.3" />
<line x1="173.7" y1="331.7" x2="173.7" y2="304.3" stroke="#000" stroke-width="2.3" />
<line x1="167.2" y1="331.7" x2="180.2" y2="331.7" stroke="#000" stroke-width="2.3" />
<line x1="167.2" y1="304.3" x2="180.2" y2="304.3" stroke="#000" stroke-width="2.3" />
<line x1="181.1" y1="329.5" x2="181.1" y2="300.5" stroke="#000" stroke-width="2.3" />
<line x1="174.6" y1="329.5" x2="187.6" y2="329.5" stroke="#000" stroke-width="2.3" />
<line x1="174.6" y1="300.5" x2="187.6" y2="300.5" stroke="#000" stroke-width="2.3" />
<line x1="188.5" y1="330.8" x2="188.5" y2="296.3" stroke="#000" stroke-width="2.3" />
<line x1="182.0" y1="330.8" x2="195.0" y2="330.8" stroke="#000" stroke-width="2.3" />
<line x1="182.0" y1="296.3" x2="195.0" y2="296.3" stroke="#000" stroke-width="2.3" />
<line x1="195.9" y1="328.9" x2="195.9" y2="301.2" stroke="#000" stroke-width="2.3" />
<line x1="189.4" y1="328.9" x2="202.4" y2="328.9" stroke="#000" stroke-width="2.3" />
<line x1="189.4" y1="301.2" x2="202.4" y2="301.2" stroke="#000" stroke-width="2.3" />
<line x1="203.2" y1="330.6" x2="203.2" y2="302.4" stroke="#000" stroke-width="2.3" />
<line x1="196.8" y1="330.6" x2="209.8" y2="330.6" stroke="#000" stroke-width="2.3" />
<line x1="196.8" y1="302.4" x2="209.8" y2="302.4" stroke="#000" stroke-width="2.3" />
<line x1="210.6" y1="332.7" x2="210.6" y2="303.3" stroke="#000" stroke-width="2.3" />
<line x1="204.1" y1="332.7" x2="217.1" y2="332.7" stroke="#000" stroke-width="2.3" />
<line x1="204.1" y1="303.3" x2="217.1" y2="303.3" stroke="#000" stroke-width="2.3" />
<line x1="218.0" y1="326.8" x2="218.0" y2="303.3" stroke="#000" stroke-width="2.3" />
<line x1="211.5" y1="326.8" x2="224.5" y2="326.8" stroke="#000" stroke-width="2.3" />
<line x1="211.5" y1="303.3" x2="224.5" y2="303.3" stroke="#000" stroke-width="2.3" />
<line x1="225.4" y1="317.3" x2="225.4" y2="289.0" stroke="#000" stroke-width="2.3" />
<line x1="218.9" y1="317.3" x2="231.9" y2="317.3" stroke="#000" stroke-width="2.3" />
<line x1="218.9" y1="289.0" x2="231.9" y2="289.0" stroke="#000" stroke-width="2.3" />
<line x1="232.8" y1="325.6" x2="232.8" y2="295.6" stroke="#000" stroke-width="2.3" />
<line x1="226.3" y1="325.6" x2="239.3" y2="325.6" stroke="#000" stroke-width="2.3" />
<line x1="226.3" y1="295.6" x2="239.3" y2="295.6" stroke="#000" stroke-width="2.3" />
<line x1="240.2" y1="332.8" x2="240.2" y2="300.3" stroke="#000" stroke-width="2.3" />
<line x1="233.7" y1="332.8" x2="246.7" y2="332.8" stroke="#000" stroke-width="2.3" />
<line x1="233.7" y1="300.3" x2="246.7" y2="300.3" stroke="#000" stroke-width="2.3" />
<line x1="247.6" y1="326.1" x2="247.6" y2="304.0" stroke="#000" stroke-width="2.3" />
<line x1="241.1" y1="326.1" x2="254.1" y2="326.1" stroke="#000" stroke-width="2.3" />
<line x1="241.1" y1="304.0" x2="254.1" y2="304.0" stroke="#000" stroke-width="2.3" />
<line x1="255.0" y1="330.6" x2="255.0" y2="305.4" stroke="#000" stroke-width="2.3" />
<line x1="248.5" y1="330.6" x2="261.5" y2="330.6" stroke="#000" stroke-width="2.3" />
<line x1="248.5" y1="305.4" x2="261.5" y2="305.4" stroke="#000" stroke-width="2.3" />
<line x1="262.4" y1="327.6" x2="262.4" y2="305.5" stroke="#000" stroke-width="2.3" />
<line x1="255.9" y1="327.6" x2="268.9" y2="327.6" stroke="#000" stroke-width="2.3" />
<line x1="255.9" y1="305.5" x2="268.9" y2="305.5" stroke="#000" stroke-width="2.3" />
<line x1="269.8" y1="331.4" x2="269.8" y2="298.7" stroke="#000" stroke-width="2.3" />
<line x1="263.3" y1="331.4" x2="276.3" y2="331.4" stroke="#000" stroke-width="2.3" />
<line x1="263.3" y1="298.7" x2="276.3" y2="298.7" stroke="#000" stroke-width="2.3" />
<line x1="277.1" y1="318.7" x2="277.1" y2="287.7" stroke="#000" stroke-width="2.3" />
<line x1="270.6" y1="318.7" x2="283.6" y2="318.7" stroke="#000" stroke-width="2.3" />
<line x1="270.6" y1="287.7" x2="283.6" y2="287.7" stroke="#000" stroke-width="2.3" />
<line x1="284.5" y1="325.7" x2="284.5" y2="304.4" stroke="#000" stroke-width="2.3" />
<line x1="278.0" y1="325.7" x2="291.0" y2="325.7" stroke="#000" stroke-width="2.3" />
<line x1="278.0" y1="304.4" x2="291.0" y2="304.4" stroke="#000" stroke-width="2.3" />
<line x1="291.9" y1="335.6" x2="291.9" y2="300.4" stroke="#000" stroke-width="2.3" />
<line x1="285.4" y1="335.6" x2="298.4" y2="335.6" stroke="#000" stroke-width="2.3" />
<line x1="285.4" y1="300.4" x2="298.4" y2="300.4" stroke="#000" stroke-width="2.3" />
<line x1="299.3" y1="334.0" x2="299.3" y2="299.0" stroke="#000" stroke-width="2.3" />
<line x1="292.8" y1="334.0" x2="305.8" y2="334.0" stroke="#000" stroke-width="2.3" />
<line x1="292.8" y1="299.0" x2="305.8" y2="299.0" stroke="#000" stroke-width="2.3" />
<line x1="306.7" y1="346.5" x2="306.7" y2="316.1" stroke="#000" stroke-width="2.3" />
<line x1="300.2" y1="346.5" x2="313.2" y2="346.5" stroke="#000" stroke-width="2.3" />
<line x1="300.2" y1="316.1" x2="313.2" y2="316.1" stroke="#000" stroke-width="2.3" />
<line x1="314.1" y1="332.9" x2="314.1" y2="303.1" stroke="#000" stroke-width="2.3" />
<line x1="307.6" y1="332.9" x2="320.6" y2="332.9" stroke="#000" stroke-width="2.3" />
<line x1="307.6" y1="303.1" x2="320.6" y2="303.1" stroke="#000" stroke-width="2.3" />
<line x1="321.5" y1="328.1" x2="321.5" y2="305.0" stroke="#000" stroke-width="2.3" />
<line x1="315.0" y1="328.1" x2="328.0" y2="328.1" stroke="#000" stroke-width="2.3" />
<line x1="315.0" y1="305.0" x2="328.0" y2="305.0" stroke="#000" stroke-width="2.3" />
<line x1="328.9" y1="324.0" x2="328.9" y2="303.1" stroke="#000" stroke-width="2.3" />
<line x1="322.4" y1="324.0" x2="335.4" y2="324.0" stroke="#000" stroke-width="2.3" />
<line x1="322.4" y1="303.1" x2="335.4" y2="303.1" stroke="#000" stroke-width="2.3" />
<line x1="336.3" y1="314.5" x2="336.3" y2="286.0" stroke="#000" stroke-width="2.3" />
<line x1="329.8" y1="314.5" x2="342.8" y2="314.5" stroke="#000" stroke-width="2.3" />
<line x1="329.8" y1="286.0" x2="342.8" y2="286.0" stroke="#000" stroke-width="2.3" />
<line x1="343.7" y1="305.1" x2="343.7" y2="283.5" stroke="#000" stroke-width="2.3" />
<line x1="337.2" y1="305.1" x2="350.2" y2="305.1" stroke="#000" stroke-width="2.3" />
<line x1="337.2" y1="283.5" x2="350.2" y2="283.5" stroke="#000" stroke-width="2.3" />
<line x1="351.1" y1="300.2" x2="351.1" y2="276.6" stroke="#000" stroke-width="2.3" />
<line x1="344.6" y1="300.2" x2="357.6" y2="300.2" stroke="#000" stroke-width="2.3" />
<line x1="344.6" y1="276.6" x2="357.6" y2="276.6" stroke="#000" stroke-width="2.3" />
<line x1="358.4" y1="293.1" x2="358.4" y2="268.8" stroke="#000" stroke-width="2.3" />
<line x1="351.9" y1="293.1" x2="364.9" y2="293.1" stroke="#000" stroke-width="2.3" />
<line x1="351.9" y1="268.8" x2="364.9" y2="268.8" stroke="#000" stroke-width="2.3" />
<line x1="365.8" y1="269.4" x2="365.8" y2="248.2" stroke="#000" stroke-width="2.3" />
<line x1="359.3" y1="269.4" x2="372.3" y2="269.4" stroke="#000" stroke-width="2.3" />
<line x1="359.3" y1="248.2" x2="372.3" y2="248.2" stroke="#000" stroke-width="2.3" />
<line x1="373.2" y1="266.6" x2="373.2" y2="239.0" stroke="#000" stroke-width="2.3" />
<line x1="366.7" y1="266.6" x2="379.7" y2="266.6" stroke="#000" stroke-width="2.3" />
<line x1="366.7" y1="239.0" x2="379.7" y2="239.0" stroke="#000" stroke-width="2.3" />
<line x1="380.6" y1="262.0" x2="380.6" y2="234.8" stroke="#000" stroke-width="2.3" />
<line x1="374.1" y1="262.0" x2="387.1" y2="262.0" stroke="#000" stroke-width="2.3" />
<line x1="374.1" y1="234.8" x2="387.1" y2="234.8" stroke="#000" stroke-width="2.3" />
<line x1="388.0" y1="262.0" x2="388.0" y2="228.8" stroke="#000" stroke-width="2.3" />
<line x1="381.5" y1="262.0" x2="394.5" y2="262.0" stroke="#000" stroke-width="2.3" />
<line x1="381.5" y1="228.8" x2="394.5" y2="228.8" stroke="#000" stroke-width="2.3" />
<line x1="395.4" y1="273.0" x2="395.4" y2="244.6" stroke="#000" stroke-width="2.3" />
<line x1="388.9" y1="273.0" x2="401.9" y2="273.0" stroke="#000" stroke-width="2.3" />
<line x1="388.9" y1="244.6" x2="401.9" y2="244.6" stroke="#000" stroke-width="2.3" />
<line x1="402.8" y1="262.0" x2="402.8" y2="231.8" stroke="#000" stroke-width="2.3" />
<line x1="396.3" y1="262.0" x2="409.3" y2="262.0" stroke="#000" stroke-width="2.3" />
<line x1="396.3" y1="231.8" x2="409.3" y2="231.8" stroke="#000" stroke-width="2.3" />
<line x1="410.2" y1="262.5" x2="410.2" y2="234.3" stroke="#000" stroke-width="2.3" />
<line x1="403.7" y1="262.5" x2="416.7" y2="262.5" stroke="#000" stroke-width="2.3" />
<line x1="403.7" y1="234.3" x2="416.7" y2="234.3" stroke="#000" stroke-width="2.3" />
<line x1="417.6" y1="265.2" x2="417.6" y2="234.6" stroke="#000" stroke-width="2.3" />
<line x1="411.1" y1="265.2" x2="424.1" y2="265.2" stroke="#000" stroke-width="2.3" />
<line x1="411.1" y1="234.6" x2="424.1" y2="234.6" stroke="#000" stroke-width="2.3" />
<line x1="424.9" y1="266.6" x2="424.9" y2="239.1" stroke="#000" stroke-width="2.3" />
<line x1="418.4" y1="266.6" x2="431.4" y2="266.6" stroke="#000" stroke-width="2.3" />
<line x1="418.4" y1="239.1" x2="431.4" y2="239.1" stroke="#000" stroke-width="2.3" />
<line x1="432.3" y1="251.9" x2="432.3" y2="227.1" stroke="#000" stroke-width="2.3" />
<line x1="425.8" y1="251.9" x2="438.8" y2="251.9" stroke="#000" stroke-width="2.3" />
<line x1="425.8" y1="227.1" x2="438.8" y2="227.1" stroke="#000" stroke-width="2.3" />
<line x1="439.7" y1="273.6" x2="439.7" y2="238.1" stroke="#000" stroke-width="2.3" />
<line x1="433.2" y1="273.6" x2="446.2" y2="273.6" stroke="#000" stroke-width="2.3" />
<line x1="433.2" y1="238.1" x2="446.2" y2="238.1" stroke="#000" stroke-width="2.3" />
<line x1="447.1" y1="267.6" x2="447.1" y2="232.1" stroke="#000" stroke-width="2.3" />
<line x1="440.6" y1="267.6" x2="453.6" y2="267.6" stroke="#000" stroke-width="2.3" />
<line x1="440.6" y1="232.1" x2="453.6" y2="232.1" stroke="#000" stroke-width="2.3" />
<line x1="454.5" y1="262.0" x2="454.5" y2="228.9" stroke="#000" stroke-width="2.3" />
<line x1="448.0" y1="262.0" x2="461.0" y2="262.0" stroke="#000" stroke-width="2.3" />
<line x1="448.0" y1="228.9" x2="461.0" y2="228.9" stroke="#000" stroke-width="2.3" />
<line x1="461.9" y1="271.4" x2="461.9" y2="240.2" stroke="#000" stroke-width="2.3" />
<line x1="455.4" y1="271.4" x2="468.4" y2="271.4" stroke="#000" stroke-width="2.3" />
<line x1="455.4" y1="240.2" x2="468.4" y2="240.2" stroke="#000" stroke-width="2.3" />
<line x1="469.3" y1="252.2" x2="469.3" y2="226.8" stroke="#000" stroke-width="2.3" />
<line x1="462.8" y1="252.2" x2="475.8" y2="252.2" stroke="#000" stroke-width="2.3" />
<line x1="462.8" y1="226.8" x2="475.8" y2="226.8" stroke="#000" stroke-width="2.3" />
<line x1="476.7" y1="260.5" x2="476.7" y2="236.3" stroke="#000" stroke-width="2.3" />
<line x1="470.2" y1="260.5" x2="483.2" y2="260.5" stroke="#000" stroke-width="2.3" />
<line x1="470.2" y1="236.3" x2="483.2" y2="236.3" stroke="#000" stroke-width="2.3" />
<line x1="484.1" y1="271.3" x2="484.1" y2="246.3" stroke="#000" stroke-width="2.3" />
<line x1="477.6" y1="271.3" x2="490.6" y2="271.3" stroke="#000" stroke-width="2.3" />
<line x1="477.6" y1="246.3" x2="490.6" y2="246.3" stroke="#000" stroke-width="2.3" />
<line x1="491.5" y1="277.1" x2="491.5" y2="255.3" stroke="#000" stroke-width="2.3" />
<line x1="485.0" y1="277.1" x2="498.0" y2="277.1" stroke="#000" stroke-width="2.3" />
<line x1="485.0" y1="255.3" x2="498.0" y2="255.3" stroke="#000" stroke-width="2.3" />
<line x1="498.9" y1="260.0" x2="498.9" y2="227.9" stroke="#000" stroke-width="2.3" />
<line x1="492.4" y1="260.0" x2="505.4" y2="260.0" stroke="#000" stroke-width="2.3" />
<line x1="492.4" y1="227.9" x2="505.4" y2="227.9" stroke="#000" stroke-width="2.3" />
<line x1="506.2" y1="267.7" x2="506.2" y2="241.0" stroke="#000" stroke-width="2.3" />
<line x1="499.7" y1="267.7" x2="512.7" y2="267.7" stroke="#000" stroke-width="2.3" />
<line x1="499.7" y1="241.0" x2="512.7" y2="241.0" stroke="#000" stroke-width="2.3" />
<line x1="513.6" y1="253.2" x2="513.6" y2="219.9" stroke="#000" stroke-width="2.3" />
<line x1="507.1" y1="253.2" x2="520.1" y2="253.2" stroke="#000" stroke-width="2.3" />
<line x1="507.1" y1="219.9" x2="520.1" y2="219.9" stroke="#000" stroke-width="2.3" />
<line x1="521.0" y1="263.1" x2="521.0" y2="236.7" stroke="#000" stroke-width="2.3" />
<line x1="514.5" y1="263.1" x2="527.5" y2="263.1" stroke="#000" stroke-width="2.3" />
<line x1="514.5" y1="236.7" x2="527.5" y2="236.7" stroke="#000" stroke-width="2.3" />
<line x1="528.4" y1="276.2" x2="528.4" y2="241.3" stroke="#000" stroke-width="2.3" />
<line x1="521.9" y1="276.2" x2="534.9" y2="276.2" stroke="#000" stroke-width="2.3" />
<line x1="521.9" y1="241.3" x2="534.9" y2="241.3" stroke="#000" stroke-width="2.3" />
<line x1="535.8" y1="256.2" x2="535.8" y2="222.9" stroke="#000" stroke-width="2.3" />
<line x1="529.3" y1="256.2" x2="542.3" y2="256.2" stroke="#000" stroke-width="2.3" />
<line x1="529.3" y1="222.9" x2="542.3" y2="222.9" stroke="#000" stroke-width="2.3" />
<line x1="543.2" y1="255.8" x2="543.2" y2="235.1" stroke="#000" stroke-width="2.3" />
<line x1="536.7" y1="255.8" x2="549.7" y2="255.8" stroke="#000" stroke-width="2.3" />
<line x1="536.7" y1="235.1" x2="549.7" y2="235.1" stroke="#000" stroke-width="2.3" />
<line x1="550.6" y1="261.8" x2="550.6" y2="238.0" stroke="#000" stroke-width="2.3" />
<line x1="544.1" y1="261.8" x2="557.1" y2="261.8" stroke="#000" stroke-width="2.3" />
<line x1="544.1" y1="238.0" x2="557.1" y2="238.0" stroke="#000" stroke-width="2.3" />
<line x1="558.0" y1="268.5" x2="558.0" y2="234.3" stroke="#000" stroke-width="2.3" />
<line x1="551.5" y1="268.5" x2="564.5" y2="268.5" stroke="#000" stroke-width="2.3" />
<line x1="551.5" y1="234.3" x2="564.5" y2="234.3" stroke="#000" stroke-width="2.3" />
<line x1="565.4" y1="263.7" x2="565.4" y2="236.0" stroke="#000" stroke-width="2.3" />
<line x1="558.9" y1="263.7" x2="571.9" y2="263.7" stroke="#000" stroke-width="2.3" />
<line x1="558.9" y1="236.0" x2="571.9" y2="236.0" stroke="#000" stroke-width="2.3" />
<line x1="572.8" y1="263.1" x2="572.8" y2="227.8" stroke="#000" stroke-width="2.3" />
<line x1="566.2" y1="263.1" x2="579.2" y2="263.1" stroke="#000" stroke-width="2.3" />
<line x1="566.2" y1="227.8" x2="579.2" y2="227.8" stroke="#000" stroke-width="2.3" />
<line x1="580.1" y1="254.3" x2="580.1" y2="227.7" stroke="#000" stroke-width="2.3" />
<line x1="573.6" y1="254.3" x2="586.6" y2="254.3" stroke="#000" stroke-width="2.3" />
<line x1="573.6" y1="227.7" x2="586.6" y2="227.7" stroke="#000" stroke-width="2.3" />
<line x1="587.5" y1="281.5" x2="587.5" y2="259.7" stroke="#000" stroke-width="2.3" />
<line x1="581.0" y1="281.5" x2="594.0" y2="281.5" stroke="#000" stroke-width="2.3" />
<line x1="581.0" y1="259.7" x2="594.0" y2="259.7" stroke="#000" stroke-width="2.3" />
<line x1="594.9" y1="291.6" x2="594.9" y2="261.5" stroke="#000" stroke-width="2.3" />
<line x1="588.4" y1="291.6" x2="601.4" y2="291.6" stroke="#000" stroke-width="2.3" />
<line x1="588.4" y1="261.5" x2="601.4" y2="261.5" stroke="#000" stroke-width="2.3" />
<line x1="602.3" y1="286.7" x2="602.3" y2="254.5" stroke="#000" stroke-width="2.3" />
<line x1="595.8" y1="286.7" x2="608.8" y2="286.7" stroke="#000" stroke-width="2.3" />
<line x1="595.8" y1="254.5" x2="608.8" y2="254.5" stroke="#000" stroke-width="2.3" />
<line x1="609.7" y1="266.7" x2="609.7" y2="242.0" stroke="#000" stroke-width="2.3" />
<line x1="603.2" y1="266.7" x2="616.2" y2="266.7" stroke="#000" stroke-width="2.3" />
<line x1="603.2" y1="242.0" x2="616.2" y2="242.0" stroke="#000" stroke-width="2.3" />
<line x1="617.1" y1="296.4" x2="617.1" y2="274.4" stroke="#000" stroke-width="2.3" />
<line x1="610.6" y1="296.4" x2="623.6" y2="296.4" stroke="#000" stroke-width="2.3" />
<line x1="610.6" y1="274.4" x2="623.6" y2="274.4" stroke="#000" stroke-width="2.3" />
<line x1="624.5" y1="282.0" x2="624.5" y2="256.3" stroke="#000" stroke-width="2.3" />
<line x1="618.0" y1="282.0" x2="631.0" y2="282.0" stroke="#000" stroke-width="2.3" />
<line x1="618.0" y1="256.3" x2="631.0" y2="256.3" stroke="#000" stroke-width="2.3" />
<line x1="631.9" y1="294.0" x2="631.9" y2="259.0" stroke="#000" stroke-width="2.3" />
<line x1="625.4" y1="294.0" x2="638.4" y2="294.0" stroke="#000" stroke-width="2.3" />
<line x1="625.4" y1="259.0" x2="638.4" y2="259.0" stroke="#000" stroke-width="2.3" />
<line x1="639.3" y1="276.2" x2="639.3" y2="244.3" stroke="#000" stroke-width="2.3" />
<line x1="632.8" y1="276.2" x2="645.8" y2="276.2" stroke="#000" stroke-width="2.3" />
<line x1="632.8" y1="244.3" x2="645.8" y2="244.3" stroke="#000" stroke-width="2.3" />
<line x1="646.6" y1="277.4" x2="646.6" y2="254.9" stroke="#000" stroke-width="2.3" />
<line x1="640.1" y1="277.4" x2="653.1" y2="277.4" stroke="#000" stroke-width="2.3" />
<line x1="640.1" y1="254.9" x2="653.1" y2="254.9" stroke="#000" stroke-width="2.3" />
<line x1="654.0" y1="285.8" x2="654.0" y2="261.4" stroke="#000" stroke-width="2.3" />
<line x1="647.5" y1="285.8" x2="660.5" y2="285.8" stroke="#000" stroke-width="2.3" />
<line x1="647.5" y1="261.4" x2="660.5" y2="261.4" stroke="#000" stroke-width="2.3" />
<line x1="661.4" y1="281.7" x2="661.4" y2="259.5" stroke="#000" stroke-width="2.3" />
<line x1="654.9" y1="281.7" x2="667.9" y2="281.7" stroke="#000" stroke-width="2.3" />
<line x1="654.9" y1="259.5" x2="667.9" y2="259.5" stroke="#000" stroke-width="2.3" />
<line x1="668.8" y1="278.5" x2="668.8" y2="256.8" stroke="#000" stroke-width="2.3" />
<line x1="662.3" y1="278.5" x2="675.3" y2="278.5" stroke="#000" stroke-width="2.3" />
<line x1="662.3" y1="256.8" x2="675.3" y2="256.8" stroke="#000" stroke-width="2.3" />
<line x1="676.2" y1="279.5" x2="676.2" y2="246.9" stroke="#000" stroke-width="2.3" />
<line x1="669.7" y1="279.5" x2="682.7" y2="279.5" stroke="#000" stroke-width="2.3" />
<line x1="669.7" y1="246.9" x2="682.7" y2="246.9" stroke="#000" stroke-width="2.3" />
<line x1="683.6" y1="271.9" x2="683.6" y2="248.6" stroke="#000" stroke-width="2.3" />
<line x1="677.1" y1="271.9" x2="690.1" y2="271.9" stroke="#000" stroke-width="2.3" />
<line x1="677.1" y1="248.6" x2="690.1" y2="248.6" stroke="#000" stroke-width="2.3" />
<line x1="691.0" y1="298.4" x2="691.0" y2="269.4" stroke="#000" stroke-width="2.3" />
<line x1="684.5" y1="298.4" x2="697.5" y2="298.4" stroke="#000" stroke-width="2.3" />
<line x1="684.5" y1="269.4" x2="697.5" y2="269.4" stroke="#000" stroke-width="2.3" />
<line x1="698.4" y1="285.8" x2="698.4" y2="258.4" stroke="#000" stroke-width="2.3" />
<line x1="691.9" y1="285.8" x2="704.9" y2="285.8" stroke="#000" stroke-width="2.3" />
<line x1="691.9" y1="258.4" x2="704.9" y2="258.4" stroke="#000" stroke-width="2.3" />
<line x1="705.8" y1="276.5" x2="705.8" y2="252.9" stroke="#000" stroke-width="2.3" />
<line x1="699.3" y1="276.5" x2="712.3" y2="276.5" stroke="#000" stroke-width="2.3" />
<line x1="699.3" y1="252.9" x2="712.3" y2="252.9" stroke="#000" stroke-width="2.3" />
<line x1="713.2" y1="279.0" x2="713.2" y2="247.4" stroke="#000" stroke-width="2.3" />
<line x1="706.7" y1="279.0" x2="719.7" y2="279.0" stroke="#000" stroke-width="2.3" />
<line x1="706.7" y1="247.4" x2="719.7" y2="247.4" stroke="#000" stroke-width="2.3" />
<line x1="720.5" y1="276.0" x2="720.5" y2="253.4" stroke="#000" stroke-width="2.3" />
<line x1="714.0" y1="276.0" x2="727.0" y2="276.0" stroke="#000" stroke-width="2.3" />
<line x1="714.0" y1="253.4" x2="727.0" y2="253.4" stroke="#000" stroke-width="2.3" />
<line x1="727.9" y1="293.2" x2="727.9" y2="262.9" stroke="#000" stroke-width="2.3" />
<line x1="721.4" y1="293.2" x2="734.4" y2="293.2" stroke="#000" stroke-width="2.3" />
<line x1="721.4" y1="262.9" x2="734.4" y2="262.9" stroke="#000" stroke-width="2.3" />
<line x1="735.3" y1="281.8" x2="735.3" y2="259.4" stroke="#000" stroke-width="2.3" />
<line x1="728.8" y1="281.8" x2="741.8" y2="281.8" stroke="#000" stroke-width="2.3" />
<line x1="728.8" y1="259.4" x2="741.8" y2="259.4" stroke="#000" stroke-width="2.3" />
<line x1="742.7" y1="281.1" x2="742.7" y2="254.2" stroke="#000" stroke-width="2.3" />
<line x1="736.2" y1="281.1" x2="749.2" y2="281.1" stroke="#000" stroke-width="2.3" />
<line x1="736.2" y1="254.2" x2="749.2" y2="254.2" stroke="#000" stroke-width="2.3" />
<line x1="750.1" y1="278.1" x2="750.1" y2="254.2" stroke="#000" stroke-width="2.3" />
<line x1="743.6" y1="278.1" x2="756.6" y2="278.1" stroke="#000" stroke-width="2.3" />
<line x1="743.6" y1="254.2" x2="756.6" y2="254.2" stroke="#000" stroke-width="2.3" />
<line x1="757.5" y1="280.0" x2="757.5" y2="255.3" stroke="#000" stroke-width="2.3" />
<line x1="751.0" y1="280.0" x2="764.0" y2="280.0" stroke="#000" stroke-width="2.3" />
<line x1="751.0" y1="255.3" x2="764.0" y2="255.3" stroke="#000" stroke-width="2.3" />
<line x1="764.9" y1="286.7" x2="764.9" y2="251.6" stroke="#000" stroke-width="2.3" />
<line x1="758.4" y1="286.7" x2="771.4" y2="286.7" stroke="#000" stroke-width="2.3" />
<line x1="758.4" y1="251.6" x2="771.4" y2="251.6" stroke="#000" stroke-width="2.3" />
<circle cx="173.7" cy="312.1" r="4.9" fill="#fff" stroke="#000" stroke-width="2.4"/>
<circle cx="181.1" cy="307.6" r="4.9" fill="#fff" stroke="#000" stroke-width="2.4"/>
<circle cx="188.5" cy="315.0" r="4.9" fill="#fff" stroke="#000" stroke-width="2.4"/>
<circle cx="195.9" cy="310.6" r="4.9" fill="#fff" stroke="#000" stroke-width="2.4"/>
<circle cx="203.2" cy="313.6" r="4.9" fill="#fff" stroke="#000" stroke-width="2.4"/>
<circle cx="210.6" cy="307.6" r="4.9" fill="#fff" stroke="#000" stroke-width="2.4"/>
<circle cx="218.0" cy="312.1" r="4.9" fill="#fff" stroke="#000" stroke-width="2.4"/>
<circle cx="225.4" cy="316.5" r="4.9" fill="#fff" stroke="#000" stroke-width="2.4"/>
<circle cx="232.8" cy="313.6" r="4.9" fill="#fff" stroke="#000" stroke-width="2.4"/>
<circle cx="240.2" cy="321.0" r="4.9" fill="#fff" stroke="#000" stroke-width="2.4"/>
<circle cx="247.6" cy="312.1" r="4.9" fill="#fff" stroke="#000" stroke-width="2.4"/>
<circle cx="255.0" cy="315.0" r="4.9" fill="#fff" stroke="#000" stroke-width="2.4"/>
<circle cx="262.4" cy="322.4" r="4.9" fill="#fff" stroke="#000" stroke-width="2.4"/>
<circle cx="269.8" cy="310.6" r="4.9" fill="#fff" stroke="#000" stroke-width="2.4"/>
<circle cx="277.1" cy="313.6" r="4.9" fill="#fff" stroke="#000" stroke-width="2.4"/>
<circle cx="284.5" cy="321.0" r="4.9" fill="#fff" stroke="#000" stroke-width="2.4"/>
<circle cx="291.9" cy="310.6" r="4.9" fill="#fff" stroke="#000" stroke-width="2.4"/>
<circle cx="299.3" cy="312.1" r="4.9" fill="#fff" stroke="#000" stroke-width="2.4"/>
<circle cx="306.7" cy="319.5" r="4.9" fill="#fff" stroke="#000" stroke-width="2.4"/>
<circle cx="314.1" cy="315.0" r="4.9" fill="#fff" stroke="#000" stroke-width="2.4"/>
<circle cx="321.5" cy="313.6" r="4.9" fill="#fff" stroke="#000" stroke-width="2.4"/>
<circle cx="328.9" cy="316.5" r="4.9" fill="#fff" stroke="#000" stroke-width="2.4"/>
<circle cx="336.3" cy="312.1" r="4.9" fill="#fff" stroke="#000" stroke-width="2.4"/>
<circle cx="343.7" cy="310.6" r="4.9" fill="#fff" stroke="#000" stroke-width="2.4"/>
<circle cx="351.1" cy="306.2" r="4.9" fill="#fff" stroke="#000" stroke-width="2.4"/>
<circle cx="358.4" cy="297.3" r="4.9" fill="#fff" stroke="#000" stroke-width="2.4"/>
<circle cx="365.8" cy="281.0" r="4.9" fill="#fff" stroke="#000" stroke-width="2.4"/>
<circle cx="373.2" cy="269.1" r="4.9" fill="#fff" stroke="#000" stroke-width="2.4"/>
<circle cx="380.6" cy="261.7" r="4.9" fill="#fff" stroke="#000" stroke-width="2.4"/>
<circle cx="388.0" cy="258.8" r="4.9" fill="#fff" stroke="#000" stroke-width="2.4"/>
<circle cx="395.4" cy="263.2" r="4.9" fill="#fff" stroke="#000" stroke-width="2.4"/>
<circle cx="402.8" cy="255.8" r="4.9" fill="#fff" stroke="#000" stroke-width="2.4"/>
<circle cx="410.2" cy="260.2" r="4.9" fill="#fff" stroke="#000" stroke-width="2.4"/>
<circle cx="417.6" cy="264.7" r="4.9" fill="#fff" stroke="#000" stroke-width="2.4"/>
<circle cx="424.9" cy="272.1" r="4.9" fill="#fff" stroke="#000" stroke-width="2.4"/>
<circle cx="432.3" cy="246.9" r="4.9" fill="#fff" stroke="#000" stroke-width="2.4"/>
<circle cx="439.7" cy="266.2" r="4.9" fill="#fff" stroke="#000" stroke-width="2.4"/>
<circle cx="447.1" cy="257.3" r="4.9" fill="#fff" stroke="#000" stroke-width="2.4"/>
<circle cx="454.5" cy="261.7" r="4.9" fill="#fff" stroke="#000" stroke-width="2.4"/>
<circle cx="461.9" cy="258.8" r="4.9" fill="#fff" stroke="#000" stroke-width="2.4"/>
<circle cx="469.3" cy="264.7" r="4.9" fill="#fff" stroke="#000" stroke-width="2.4"/>
<circle cx="476.7" cy="255.8" r="4.9" fill="#fff" stroke="#000" stroke-width="2.4"/>
<circle cx="484.1" cy="260.2" r="4.9" fill="#fff" stroke="#000" stroke-width="2.4"/>
<circle cx="491.5" cy="249.9" r="4.9" fill="#fff" stroke="#000" stroke-width="2.4"/>
<circle cx="498.9" cy="257.3" r="4.9" fill="#fff" stroke="#000" stroke-width="2.4"/>
<circle cx="506.2" cy="252.8" r="4.9" fill="#fff" stroke="#000" stroke-width="2.4"/>
<circle cx="513.6" cy="244.0" r="4.9" fill="#fff" stroke="#000" stroke-width="2.4"/>
<circle cx="521.0" cy="255.8" r="4.9" fill="#fff" stroke="#000" stroke-width="2.4"/>
<circle cx="528.4" cy="251.4" r="4.9" fill="#fff" stroke="#000" stroke-width="2.4"/>
<circle cx="535.8" cy="249.9" r="4.9" fill="#fff" stroke="#000" stroke-width="2.4"/>
<circle cx="543.2" cy="255.8" r="4.9" fill="#fff" stroke="#000" stroke-width="2.4"/>
<circle cx="550.6" cy="252.8" r="4.9" fill="#fff" stroke="#000" stroke-width="2.4"/>
<circle cx="558.0" cy="260.2" r="4.9" fill="#fff" stroke="#000" stroke-width="2.4"/>
<circle cx="565.4" cy="258.8" r="4.9" fill="#fff" stroke="#000" stroke-width="2.4"/>
<circle cx="572.8" cy="257.3" r="4.9" fill="#fff" stroke="#000" stroke-width="2.4"/>
<circle cx="580.1" cy="258.8" r="4.9" fill="#fff" stroke="#000" stroke-width="2.4"/>
<circle cx="587.5" cy="254.3" r="4.9" fill="#fff" stroke="#000" stroke-width="2.4"/>
<circle cx="594.9" cy="261.7" r="4.9" fill="#fff" stroke="#000" stroke-width="2.4"/>
<circle cx="602.3" cy="257.3" r="4.9" fill="#fff" stroke="#000" stroke-width="2.4"/>
<circle cx="609.7" cy="249.9" r="4.9" fill="#fff" stroke="#000" stroke-width="2.4"/>
<circle cx="617.1" cy="257.3" r="4.9" fill="#fff" stroke="#000" stroke-width="2.4"/>
<circle cx="624.5" cy="252.8" r="4.9" fill="#fff" stroke="#000" stroke-width="2.4"/>
<circle cx="631.9" cy="257.3" r="4.9" fill="#fff" stroke="#000" stroke-width="2.4"/>
<circle cx="639.3" cy="260.2" r="4.9" fill="#fff" stroke="#000" stroke-width="2.4"/>
<circle cx="646.6" cy="255.8" r="4.9" fill="#fff" stroke="#000" stroke-width="2.4"/>
<circle cx="654.0" cy="252.8" r="4.9" fill="#fff" stroke="#000" stroke-width="2.4"/>
<circle cx="661.4" cy="276.5" r="4.9" fill="#fff" stroke="#000" stroke-width="2.4"/>
<circle cx="668.8" cy="273.6" r="4.9" fill="#fff" stroke="#000" stroke-width="2.4"/>
<circle cx="676.2" cy="267.7" r="4.9" fill="#fff" stroke="#000" stroke-width="2.4"/>
<circle cx="683.6" cy="270.6" r="4.9" fill="#fff" stroke="#000" stroke-width="2.4"/>
<circle cx="691.0" cy="272.1" r="4.9" fill="#fff" stroke="#000" stroke-width="2.4"/>
<circle cx="698.4" cy="276.5" r="4.9" fill="#fff" stroke="#000" stroke-width="2.4"/>
<circle cx="705.8" cy="269.1" r="4.9" fill="#fff" stroke="#000" stroke-width="2.4"/>
<circle cx="713.2" cy="266.2" r="4.9" fill="#fff" stroke="#000" stroke-width="2.4"/>
<circle cx="720.5" cy="270.6" r="4.9" fill="#fff" stroke="#000" stroke-width="2.4"/>
<circle cx="727.9" cy="267.7" r="4.9" fill="#fff" stroke="#000" stroke-width="2.4"/>
<circle cx="735.3" cy="272.1" r="4.9" fill="#fff" stroke="#000" stroke-width="2.4"/>
<circle cx="742.7" cy="270.6" r="4.9" fill="#fff" stroke="#000" stroke-width="2.4"/>
<circle cx="750.1" cy="275.1" r="4.9" fill="#fff" stroke="#000" stroke-width="2.4"/>
<circle cx="757.5" cy="276.5" r="4.9" fill="#fff" stroke="#000" stroke-width="2.4"/>
<circle cx="764.9" cy="276.5" r="4.9" fill="#fff" stroke="#000" stroke-width="2.4"/>
<circle cx="772.3" cy="269.1" r="4.9" fill="#fff" stroke="#000" stroke-width="2.4"/>
<circle cx="173.7" cy="318.0" r="6.5" fill="#444" stroke="#333" stroke-width="0.8"/>
<circle cx="181.1" cy="315.0" r="6.5" fill="#444" stroke="#333" stroke-width="0.8"/>
<circle cx="188.5" cy="313.6" r="6.5" fill="#444" stroke="#333" stroke-width="0.8"/>
<circle cx="195.9" cy="315.0" r="6.5" fill="#444" stroke="#333" stroke-width="0.8"/>
<circle cx="203.2" cy="316.5" r="6.5" fill="#444" stroke="#333" stroke-width="0.8"/>
<circle cx="210.6" cy="318.0" r="6.5" fill="#444" stroke="#333" stroke-width="0.8"/>
<circle cx="218.0" cy="315.0" r="6.5" fill="#444" stroke="#333" stroke-width="0.8"/>
<circle cx="225.4" cy="303.2" r="6.5" fill="#444" stroke="#333" stroke-width="0.8"/>
<circle cx="232.8" cy="310.6" r="6.5" fill="#444" stroke="#333" stroke-width="0.8"/>
<circle cx="240.2" cy="316.5" r="6.5" fill="#444" stroke="#333" stroke-width="0.8"/>
<circle cx="247.6" cy="315.0" r="6.5" fill="#444" stroke="#333" stroke-width="0.8"/>
<circle cx="255.0" cy="318.0" r="6.5" fill="#444" stroke="#333" stroke-width="0.8"/>
<circle cx="262.4" cy="316.5" r="6.5" fill="#444" stroke="#333" stroke-width="0.8"/>
<circle cx="269.8" cy="315.0" r="6.5" fill="#444" stroke="#333" stroke-width="0.8"/>
<circle cx="277.1" cy="303.2" r="6.5" fill="#444" stroke="#333" stroke-width="0.8"/>
<circle cx="284.5" cy="315.0" r="6.5" fill="#444" stroke="#333" stroke-width="0.8"/>
<circle cx="291.9" cy="318.0" r="6.5" fill="#444" stroke="#333" stroke-width="0.8"/>
<circle cx="299.3" cy="316.5" r="6.5" fill="#444" stroke="#333" stroke-width="0.8"/>
<circle cx="306.7" cy="331.3" r="6.5" fill="#444" stroke="#333" stroke-width="0.8"/>
<circle cx="314.1" cy="318.0" r="6.5" fill="#444" stroke="#333" stroke-width="0.8"/>
<circle cx="321.5" cy="316.5" r="6.5" fill="#444" stroke="#333" stroke-width="0.8"/>
<circle cx="328.9" cy="313.6" r="6.5" fill="#444" stroke="#333" stroke-width="0.8"/>
<circle cx="336.3" cy="300.2" r="6.5" fill="#444" stroke="#333" stroke-width="0.8"/>
<circle cx="343.7" cy="294.3" r="6.5" fill="#444" stroke="#333" stroke-width="0.8"/>
<circle cx="351.1" cy="288.4" r="6.5" fill="#444" stroke="#333" stroke-width="0.8"/>
<circle cx="358.4" cy="281.0" r="6.5" fill="#444" stroke="#333" stroke-width="0.8"/>
<circle cx="365.8" cy="258.8" r="6.5" fill="#444" stroke="#333" stroke-width="0.8"/>
<circle cx="373.2" cy="252.8" r="6.5" fill="#444" stroke="#333" stroke-width="0.8"/>
<circle cx="380.6" cy="248.4" r="6.5" fill="#444" stroke="#333" stroke-width="0.8"/>
<circle cx="388.0" cy="245.4" r="6.5" fill="#444" stroke="#333" stroke-width="0.8"/>
<circle cx="395.4" cy="258.8" r="6.5" fill="#444" stroke="#333" stroke-width="0.8"/>
<circle cx="402.8" cy="246.9" r="6.5" fill="#444" stroke="#333" stroke-width="0.8"/>
<circle cx="410.2" cy="248.4" r="6.5" fill="#444" stroke="#333" stroke-width="0.8"/>
<circle cx="417.6" cy="249.9" r="6.5" fill="#444" stroke="#333" stroke-width="0.8"/>
<circle cx="424.9" cy="252.8" r="6.5" fill="#444" stroke="#333" stroke-width="0.8"/>
<circle cx="432.3" cy="239.5" r="6.5" fill="#444" stroke="#333" stroke-width="0.8"/>
<circle cx="439.7" cy="255.8" r="6.5" fill="#444" stroke="#333" stroke-width="0.8"/>
<circle cx="447.1" cy="249.9" r="6.5" fill="#444" stroke="#333" stroke-width="0.8"/>
<circle cx="454.5" cy="245.4" r="6.5" fill="#444" stroke="#333" stroke-width="0.8"/>
<circle cx="461.9" cy="255.8" r="6.5" fill="#444" stroke="#333" stroke-width="0.8"/>
<circle cx="469.3" cy="239.5" r="6.5" fill="#444" stroke="#333" stroke-width="0.8"/>
<circle cx="476.7" cy="248.4" r="6.5" fill="#444" stroke="#333" stroke-width="0.8"/>
<circle cx="484.1" cy="258.8" r="6.5" fill="#444" stroke="#333" stroke-width="0.8"/>
<circle cx="491.5" cy="266.2" r="6.5" fill="#444" stroke="#333" stroke-width="0.8"/>
<circle cx="498.9" cy="244.0" r="6.5" fill="#444" stroke="#333" stroke-width="0.8"/>
<circle cx="506.2" cy="254.3" r="6.5" fill="#444" stroke="#333" stroke-width="0.8"/>
<circle cx="513.6" cy="236.6" r="6.5" fill="#444" stroke="#333" stroke-width="0.8"/>
<circle cx="521.0" cy="249.9" r="6.5" fill="#444" stroke="#333" stroke-width="0.8"/>
<circle cx="528.4" cy="258.8" r="6.5" fill="#444" stroke="#333" stroke-width="0.8"/>
<circle cx="535.8" cy="239.5" r="6.5" fill="#444" stroke="#333" stroke-width="0.8"/>
<circle cx="543.2" cy="245.4" r="6.5" fill="#444" stroke="#333" stroke-width="0.8"/>
<circle cx="550.6" cy="249.9" r="6.5" fill="#444" stroke="#333" stroke-width="0.8"/>
<circle cx="558.0" cy="251.4" r="6.5" fill="#444" stroke="#333" stroke-width="0.8"/>
<circle cx="565.4" cy="249.9" r="6.5" fill="#444" stroke="#333" stroke-width="0.8"/>
<circle cx="572.8" cy="245.4" r="6.5" fill="#444" stroke="#333" stroke-width="0.8"/>
<circle cx="580.1" cy="241.0" r="6.5" fill="#444" stroke="#333" stroke-width="0.8"/>
<circle cx="587.5" cy="270.6" r="6.5" fill="#444" stroke="#333" stroke-width="0.8"/>
<circle cx="594.9" cy="276.5" r="6.5" fill="#444" stroke="#333" stroke-width="0.8"/>
<circle cx="602.3" cy="270.6" r="6.5" fill="#444" stroke="#333" stroke-width="0.8"/>
<circle cx="609.7" cy="254.3" r="6.5" fill="#444" stroke="#333" stroke-width="0.8"/>
<circle cx="617.1" cy="285.4" r="6.5" fill="#444" stroke="#333" stroke-width="0.8"/>
<circle cx="624.5" cy="269.1" r="6.5" fill="#444" stroke="#333" stroke-width="0.8"/>
<circle cx="631.9" cy="276.5" r="6.5" fill="#444" stroke="#333" stroke-width="0.8"/>
<circle cx="639.3" cy="260.2" r="6.5" fill="#444" stroke="#333" stroke-width="0.8"/>
<circle cx="646.6" cy="266.2" r="6.5" fill="#444" stroke="#333" stroke-width="0.8"/>
<circle cx="654.0" cy="273.6" r="6.5" fill="#444" stroke="#333" stroke-width="0.8"/>
<circle cx="661.4" cy="270.6" r="6.5" fill="#444" stroke="#333" stroke-width="0.8"/>
<circle cx="668.8" cy="267.7" r="6.5" fill="#444" stroke="#333" stroke-width="0.8"/>
<circle cx="676.2" cy="263.2" r="6.5" fill="#444" stroke="#333" stroke-width="0.8"/>
<circle cx="683.6" cy="260.2" r="6.5" fill="#444" stroke="#333" stroke-width="0.8"/>
<circle cx="691.0" cy="283.9" r="6.5" fill="#444" stroke="#333" stroke-width="0.8"/>
<circle cx="698.4" cy="272.1" r="6.5" fill="#444" stroke="#333" stroke-width="0.8"/>
<circle cx="705.8" cy="264.7" r="6.5" fill="#444" stroke="#333" stroke-width="0.8"/>
<circle cx="713.2" cy="263.2" r="6.5" fill="#444" stroke="#333" stroke-width="0.8"/>
<circle cx="720.5" cy="264.7" r="6.5" fill="#444" stroke="#333" stroke-width="0.8"/>
<circle cx="727.9" cy="278.0" r="6.5" fill="#444" stroke="#333" stroke-width="0.8"/>
<circle cx="735.3" cy="270.6" r="6.5" fill="#444" stroke="#333" stroke-width="0.8"/>
<circle cx="742.7" cy="267.7" r="6.5" fill="#444" stroke="#333" stroke-width="0.8"/>
<circle cx="750.1" cy="266.2" r="6.5" fill="#444" stroke="#333" stroke-width="0.8"/>
<circle cx="757.5" cy="267.7" r="6.5" fill="#444" stroke="#333" stroke-width="0.8"/>
<circle cx="764.9" cy="269.1" r="6.5" fill="#444" stroke="#333" stroke-width="0.8"/>
<text x="902.6" y="42.4" font-size="49" font-family="'Liberation Sans', Arial, sans-serif" stroke="#000" stroke-width="1.67" >B</text>
<text x="989.1" y="45.7" font-size="20" font-family="'Liberation Sans', Arial, sans-serif" font-weight="bold" textLength="159.6" lengthAdjust="spacingAndGlyphs" stroke="#000" stroke-width="0.30" >Betaxolol (1 µM)</text>
<text x="1184.3" y="48.8" font-size="20" font-family="'Liberation Sans', Arial, sans-serif" font-weight="bold" textLength="168.6" lengthAdjust="spacingAndGlyphs" stroke="#000" stroke-width="0.30" >ICI 118551 (1 µM)</text>
<text x="1386.9" y="47.5" font-size="20.5" font-family="'Liberation Sans', Arial, sans-serif" font-weight="bold" textLength="165.1" lengthAdjust="spacingAndGlyphs" stroke="#000" stroke-width="0.31" >SR59230A (1 µM)</text>
<line x1="1032.4" y1="71.3" x2="1032.4" y2="94.3" stroke="#666" stroke-width="1.3" />
<path d="M1022.2,79.6 L1022.6,79.6 L1023.2,79.6 L1023.9,79.5 L1024.7,79.3 L1025.4,79.3 L1026.0,78.6 L1026.6,79.1 L1027.1,79.7 L1027.6,79.7 L1028.1,80.2 L1028.6,79.7 L1029.0,80.0 L1029.4,79.6 L1029.7,79.6 L1030.1,79.2" fill="none" stroke="#707070" stroke-width="1.2" stroke-linejoin="round" />
<path d="M1030.1,79.2 L1030.4,78.4" fill="none" stroke="#a8a8a8" stroke-width="1.02" stroke-linejoin="round" />
<path d="M1030.4,78.4 L1030.7,78.1 L1031.0,77.8 L1031.3,77.9 L1031.6,77.2" fill="none" stroke="#707070" stroke-width="1.2" stroke-linejoin="round" />
<path d="M1031.6,77.2 L1032.0,76.1" fill="none" stroke="#a8a8a8" stroke-width="1.02" stroke-linejoin="round" />
<path d="M1032.0,76.1 L1032.3,76.1 L1032.6,75.4 L1033.0,76.1 L1033.4,76.6" fill="none" stroke="#707070" stroke-width="1.2" stroke-linejoin="round" />
<path d="M1033.4,76.6 L1033.8,78.0 L1034.2,80.5 L1034.6,81.8 L1035.1,83.3 L1035.5,85.0" fill="none" stroke="#a8a8a8" stroke-width="1.02" stroke-linejoin="round" />
<path d="M1035.5,85.0 L1035.9,85.3 L1036.3,84.8 L1036.7,85.1 L1037.2,84.4 L1037.6,84.2 L1038.0,83.8 L1038.4,84.5 L1038.9,84.5 L1039.3,84.9 L1039.8,85.2 L1040.2,85.1 L1040.6,85.5 L1041.0,85.6 L1041.3,85.7 L1041.6,85.8 L1041.9,86.4" fill="none" stroke="#707070" stroke-width="1.2" stroke-linejoin="round" />
<path d="M1041.9,86.4 L1042.2,87.4" fill="none" stroke="#a8a8a8" stroke-width="1.02" stroke-linejoin="round" />
<path d="M1042.2,87.4 L1042.6,88.3" fill="none" stroke="#707070" stroke-width="1.2" stroke-linejoin="round" />
<path d="M1042.6,88.3 L1043.1,90.9 L1043.6,93.2 L1044.1,96.1 L1044.6,99.7 L1045.2,102.8 L1045.7,105.9 L1046.2,109.3 L1046.7,113.0 L1047.2,116.1 L1047.8,120.4 L1048.3,123.0 L1048.8,126.6 L1049.3,129.4 L1049.9,131.3 L1050.4,134.3 L1050.9,136.2 L1051.5,138.3" fill="none" stroke="#a8a8a8" stroke-width="1.02" stroke-linejoin="round" />
<path d="M1051.5,138.3 L1052.0,139.6" fill="none" stroke="#707070" stroke-width="1.2" stroke-linejoin="round" />
<path d="M1052.0,139.6 L1052.5,141.1 L1053.0,142.5 L1053.5,144.1" fill="none" stroke="#a8a8a8" stroke-width="1.02" stroke-linejoin="round" />
<path d="M1053.5,144.1 L1054.0,144.3 L1054.5,145.5 L1055.0,146.3 L1055.5,146.9 L1056.0,146.9 L1056.4,147.3 L1056.9,147.6 L1057.4,148.0 L1057.9,147.5 L1058.4,148.0 L1058.8,147.9 L1059.3,147.7 L1059.8,146.7 L1060.4,147.0 L1061.0,145.7 L1061.7,145.0 L1062.5,144.2 L1063.4,143.2 L1064.2,141.4 L1065.1,140.6 L1066.0,139.0 L1066.8,137.7 L1067.5,136.5 L1068.3,135.3 L1069.1,134.0 L1070.0,132.7 L1071.2,131.7 L1072.6,130.3 L1074.0,127.8 L1075.7,125.9 L1077.4,124.7 L1079.3,122.4 L1081.4,120.2 L1083.7,117.9 L1086.1,115.9 L1088.7,113.7 L1091.4,111.0 L1094.1,108.8 L1096.7,106.6 L1099.2,105.8 L1101.6,103.7 L1104.0,103.0 L1106.5,102.2 L1109.2,100.6 L1112.0,100.1 L1115.1,99.2 L1118.5,97.9 L1122.1,97.1 L1125.6,95.6 L1129.1,95.0 L1132.4,94.0 L1135.7,93.9 L1139.0,92.8 L1142.3,92.4 L1145.3,92.3 L1147.9,91.8 L1149.7,91.6" fill="none" stroke="#707070" stroke-width="1.2" stroke-linejoin="round" />
<path d="M1022.2,79.5 L1022.6,79.4 L1023.2,79.5 L1023.9,79.2 L1024.7,78.9 L1025.4,78.9 L1026.0,78.7 L1026.6,79.0 L1027.1,79.7 L1027.6,80.0 L1028.1,79.9 L1028.6,80.0 L1029.0,79.9 L1029.4,79.5 L1029.7,79.4 L1030.1,79.4 L1030.4,79.1" fill="none" stroke="#707070" stroke-width="1.2" stroke-linejoin="round" />
<path d="M1030.4,79.1 L1030.7,78.3" fill="none" stroke="#a8a8a8" stroke-width="1.02" stroke-linejoin="round" />
<path d="M1030.7,78.3 L1031.0,78.2 L1031.3,77.8 L1031.6,77.1 L1032.0,76.5 L1032.3,76.1 L1032.6,75.6 L1033.0,76.2 L1033.4,76.8" fill="none" stroke="#707070" stroke-width="1.2" stroke-linejoin="round" />
<path d="M1033.4,76.8 L1033.8,78.4 L1034.2,80.4 L1034.6,82.2 L1035.1,83.4 L1035.5,85.0" fill="none" stroke="#a8a8a8" stroke-width="1.02" stroke-linejoin="round" />
<path d="M1035.5,85.0 L1035.9,85.1 L1036.3,85.1 L1036.7,84.3 L1037.2,84.4 L1037.6,83.9 L1038.0,84.1 L1038.4,84.1 L1038.9,84.6 L1039.3,84.7 L1039.8,85.1 L1040.2,85.1 L1040.6,85.7 L1041.0,86.1 L1041.3,86.3 L1041.6,86.0" fill="none" stroke="#707070" stroke-width="1.2" stroke-linejoin="round" />
<path d="M1041.6,86.0 L1041.9,86.8" fill="none" stroke="#a8a8a8" stroke-width="1.02" stroke-linejoin="round" />
<path d="M1041.9,86.8 L1042.2,87.6" fill="none" stroke="#707070" stroke-width="1.2" stroke-linejoin="round" />
<path d="M1042.2,87.6 L1042.6,88.9 L1043.1,91.1 L1043.6,93.7 L1044.1,96.3 L1044.6,99.5 L1045.2,102.5 L1045.7,106.3 L1046.2,109.6 L1046.8,112.7 L1047.3,116.5 L1047.8,120.0 L1048.3,123.4 L1048.8,126.1 L1049.2,129.4 L1049.4,131.9 L1049.7,134.4 L1049.9,136.6 L1050.3,139.2 L1050.8,141.9 L1051.5,144.7 L1052.2,147.8 L1053.1,150.4 L1054.0,153.6 L1054.9,156.6 L1055.9,159.1" fill="none" stroke="#a8a8a8" stroke-width="1.02" stroke-linejoin="round" />
<path d="M1055.9,159.1 L1056.9,160.8 L1058.1,163.1 L1059.2,164.7 L1060.4,165.6 L1061.5,166.8 L1062.5,167.0 L1063.4,166.5 L1064.2,165.6 L1064.9,164.4 L1065.6,162.7 L1066.3,161.1 L1067.0,159.6 L1067.6,158.9 L1068.1,158.0 L1068.6,157.4 L1069.2,156.3 L1070.0,154.6 L1071.2,153.2 L1072.8,149.8 L1074.6,146.7 L1076.7,142.8 L1079.0,139.1 L1081.2,135.3 L1083.4,132.8 L1085.5,129.9 L1087.7,127.4 L1089.9,125.9 L1092.1,123.6 L1094.4,122.2 L1096.7,120.2 L1099.1,118.5 L1101.5,117.1 L1103.9,115.3 L1106.4,113.4 L1109.1,112.0 L1112.0,110.2 L1115.1,108.3 L1118.5,106.3 L1122.1,104.9 L1125.6,103.1 L1129.1,101.8 L1132.4,100.3 L1135.7,98.5 L1139.0,96.9 L1142.3,96.0 L1145.3,94.1 L1147.9,93.1 L1149.7,92.8" fill="none" stroke="#707070" stroke-width="1.2" stroke-linejoin="round" />
<text x="1099.0" y="99.9" font-size="18.5" font-family="'Liberation Sans', Arial, sans-serif" stroke="#000" stroke-width="0.63" >1</text>
<text x="1082.0" y="156.0" font-size="18.5" font-family="'Liberation Sans', Arial, sans-serif" stroke="#000" stroke-width="0.63" >2</text>
<line x1="1221.9" y1="70.8" x2="1221.9" y2="119.2" stroke="#666" stroke-width="1.3" />
<path d="M1216.3,82.1 L1216.6,81.9 L1217.0,82.5 L1217.5,82.9 L1218.1,82.8 L1218.6,82.9 L1219.0,82.8 L1219.4,82.6 L1219.7,82.7" fill="none" stroke="#333" stroke-width="1.3" stroke-linejoin="round" />
<path d="M1219.7,82.7 L1220.0,81.8" fill="none" stroke="#9a9a9a" stroke-width="1.105" stroke-linejoin="round" />
<path d="M1220.0,81.8 L1220.4,81.8 L1220.7,81.4 L1221.0,81.1 L1221.3,81.1" fill="none" stroke="#333" stroke-width="1.3" stroke-linejoin="round" />
<path d="M1221.3,81.1 L1221.6,82.2" fill="none" stroke="#9a9a9a" stroke-width="1.105" stroke-linejoin="round" />
<path d="M1221.6,82.2 L1222.0,82.5 L1222.3,83.1 L1222.6,83.6 L1223.0,84.4 L1223.4,84.0 L1223.7,83.6 L1224.1,83.4 L1224.5,82.8 L1225.0,82.8 L1225.5,82.5 L1226.1,82.1 L1226.8,82.1 L1227.5,81.8 L1228.3,81.1 L1229.0,81.7 L1229.6,82.3" fill="none" stroke="#333" stroke-width="1.3" stroke-linejoin="round" />
<path d="M1229.6,82.3 L1230.2,84.2 L1230.7,85.7 L1231.2,87.4 L1231.7,89.8 L1232.1,92.4 L1232.6,96.2 L1233.0,99.3 L1233.5,103.8 L1233.9,108.3 L1234.3,113.1 L1234.7,117.5 L1235.2,121.5 L1235.7,124.4 L1236.2,128.0 L1236.8,130.4 L1237.4,133.3 L1237.9,135.6 L1238.5,137.8 L1239.0,140.3 L1239.5,142.4 L1240.0,144.4 L1240.6,146.4" fill="none" stroke="#9a9a9a" stroke-width="1.105" stroke-linejoin="round" />
<path d="M1240.6,146.4 L1241.1,147.6 L1241.8,147.9 L1242.5,148.4 L1243.2,148.4 L1244.0,148.2 L1244.8,147.2 L1245.8,145.5 L1246.9,143.3 L1248.2,141.5 L1249.6,138.2 L1251.2,134.8 L1252.8,131.3 L1254.5,127.6 L1256.1,124.3 L1257.7,121.6 L1259.2,118.3 L1260.8,115.4 L1262.5,113.1 L1264.3,110.0 L1266.3,107.8 L1268.5,106.3 L1270.8,104.0 L1273.3,103.2 L1275.9,101.7 L1278.7,100.2 L1281.6,98.7 L1284.8,97.8 L1288.2,96.6 L1291.8,94.7 L1295.4,93.8 L1298.8,92.7 L1302.0,91.7 L1305.1,90.7 L1308.2,89.7 L1311.2,89.3 L1313.9,88.8 L1316.1,87.7 L1317.8,87.4" fill="none" stroke="#333" stroke-width="1.3" stroke-linejoin="round" />
<path d="M1216.3,82.3 L1216.6,82.4 L1217.0,82.5 L1217.5,82.2 L1218.1,83.0 L1218.6,83.4 L1219.0,83.4 L1219.4,82.9" fill="none" stroke="#555" stroke-width="1.2" stroke-linejoin="round" />
<path d="M1219.4,82.9 L1219.7,82.0" fill="none" stroke="#9a9a9a" stroke-width="1.02" stroke-linejoin="round" />
<path d="M1219.7,82.0 L1220.0,82.1" fill="none" stroke="#555" stroke-width="1.2" stroke-linejoin="round" />
<path d="M1220.0,82.1 L1220.4,81.2" fill="none" stroke="#9a9a9a" stroke-width="1.02" stroke-linejoin="round" />
<path d="M1220.4,81.2 L1220.7,81.2 L1221.0,81.4 L1221.3,81.4 L1221.6,81.5 L1222.0,82.3" fill="none" stroke="#555" stroke-width="1.2" stroke-linejoin="round" />
<path d="M1222.0,82.3 L1222.3,83.5" fill="none" stroke="#9a9a9a" stroke-width="1.02" stroke-linejoin="round" />
<path d="M1222.3,83.5 L1222.6,83.4 L1223.0,84.1 L1223.4,83.9 L1223.7,83.5 L1224.1,83.5 L1224.5,82.7 L1225.0,82.4 L1225.5,82.4 L1226.1,81.9 L1226.8,81.5 L1227.5,81.6 L1228.3,81.7 L1229.0,82.0 L1229.6,82.2" fill="none" stroke="#555" stroke-width="1.2" stroke-linejoin="round" />
<path d="M1229.6,82.2 L1230.2,83.8 L1230.7,85.3 L1231.2,87.6 L1231.7,90.0 L1232.1,93.1 L1232.6,95.7 L1233.0,99.0 L1233.5,103.4 L1233.9,107.3 L1234.3,112.2 L1234.7,116.7 L1235.2,121.6 L1235.7,126.1 L1236.3,131.3 L1236.9,136.3 L1237.5,141.6 L1238.0,145.9 L1238.5,150.2 L1238.8,153.1 L1239.1,155.2 L1239.3,157.3 L1239.5,159.0 L1239.7,160.8 L1240.0,161.7 L1240.3,163.5 L1240.7,164.6" fill="none" stroke="#9a9a9a" stroke-width="1.02" stroke-linejoin="round" />
<path d="M1240.7,164.6 L1241.1,165.2" fill="none" stroke="#555" stroke-width="1.2" stroke-linejoin="round" />
<path d="M1241.1,165.2 L1241.5,166.4" fill="none" stroke="#9a9a9a" stroke-width="1.02" stroke-linejoin="round" />
<path d="M1241.5,166.4 L1241.9,166.5 L1242.3,166.9 L1242.7,167.4 L1243.1,166.9 L1243.5,167.1 L1244.0,166.3 L1244.5,165.5 L1245.0,165.2 L1245.5,164.0 L1246.1,163.8 L1246.7,162.5 L1247.3,161.6 L1248.1,160.9 L1249.0,159.1 L1250.1,156.8 L1251.4,154.3 L1252.7,152.3 L1254.2,149.3 L1255.6,146.6 L1257.1,143.4 L1258.5,141.2 L1259.9,138.4 L1261.2,135.8 L1262.7,133.3 L1264.4,131.0 L1266.3,128.3 L1268.4,125.8 L1270.8,123.2 L1273.2,121.3 L1275.9,118.7 L1278.7,116.5 L1281.6,114.0 L1284.8,112.3 L1288.2,110.0 L1291.8,108.1 L1295.4,106.2 L1298.8,104.7 L1302.0,102.8 L1305.1,101.1 L1308.2,99.7 L1311.2,98.7 L1313.9,97.5 L1316.1,97.3 L1317.8,96.3" fill="none" stroke="#555" stroke-width="1.2" stroke-linejoin="round" />
<text x="1288.5" y="89.2" font-size="18.5" font-family="'Liberation Sans', Arial, sans-serif" stroke="#000" stroke-width="0.63" >1</text>
<text x="1271.5" y="144.2" font-size="18.5" font-family="'Liberation Sans', Arial, sans-serif" stroke="#000" stroke-width="0.63" >2</text>
<line x1="1395.2" y1="70.9" x2="1395.2" y2="124.2" stroke="#888" stroke-width="1.6" />
<path d="M1384.4,77.8 L1385.0,77.2 L1385.9,77.6 L1387.0,77.9 L1388.0,77.7 L1389.1,77.5 L1390.0,77.5 L1390.8,77.1 L1391.5,77.0 L1392.2,76.8 L1392.8,76.9 L1393.4,76.9 L1394.0,77.3 L1394.6,77.0 L1395.1,77.4 L1395.6,77.9 L1396.1,78.2 L1396.6,78.7 L1397.0,78.8 L1397.4,78.9 L1397.7,78.3 L1398.0,78.7" fill="none" stroke="#444" stroke-width="1.2" stroke-linejoin="round" />
<path d="M1398.0,78.7 L1398.3,77.9" fill="none" stroke="#9a9a9a" stroke-width="1.02" stroke-linejoin="round" />
<path d="M1398.3,77.9 L1398.6,78.1 L1399.0,77.7 L1399.5,77.5 L1400.0,77.2 L1400.5,77.4 L1401.1,76.7 L1401.6,77.2 L1402.2,77.0 L1402.7,77.6 L1403.3,77.9 L1403.9,77.8 L1404.4,78.3 L1405.0,78.8 L1405.5,79.8 L1406.0,80.5 L1406.5,81.6" fill="none" stroke="#444" stroke-width="1.2" stroke-linejoin="round" />
<path d="M1406.5,81.6 L1407.0,83.0" fill="none" stroke="#9a9a9a" stroke-width="1.02" stroke-linejoin="round" />
<path d="M1407.0,83.0 L1407.5,83.8" fill="none" stroke="#444" stroke-width="1.2" stroke-linejoin="round" />
<path d="M1407.5,83.8 L1408.0,85.5 L1408.6,88.0 L1409.2,90.8 L1409.8,94.8 L1410.5,98.8 L1411.1,102.7 L1411.8,107.3 L1412.4,112.3 L1413.0,117.7 L1413.7,123.2 L1414.3,128.9 L1415.0,135.1 L1415.6,139.4 L1416.2,143.5 L1416.8,147.0 L1417.3,148.7" fill="none" stroke="#9a9a9a" stroke-width="1.02" stroke-linejoin="round" />
<path d="M1417.3,148.7 L1417.8,149.8" fill="none" stroke="#444" stroke-width="1.2" stroke-linejoin="round" />
<path d="M1417.8,149.8 L1418.3,151.2" fill="none" stroke="#9a9a9a" stroke-width="1.02" stroke-linejoin="round" />
<path d="M1418.3,151.2 L1418.9,152.5 L1419.5,153.0 L1420.2,153.9 L1420.9,154.6 L1421.6,155.3 L1422.3,156.5 L1423.1,156.5 L1423.8,156.9 L1424.5,156.0 L1425.2,155.6 L1425.8,154.7 L1426.5,154.0 L1427.2,152.7 L1428.0,151.8 L1428.8,150.9 L1429.5,149.8 L1430.3,148.4 L1431.2,147.1 L1432.2,146.2 L1433.4,143.6 L1434.8,141.4 L1436.4,138.4 L1438.2,135.3 L1440.0,131.7 L1441.8,128.7 L1443.5,125.8 L1445.1,123.7 L1446.7,121.7 L1448.3,119.3 L1449.9,117.5 L1451.7,115.1 L1453.7,113.0 L1455.9,111.6 L1458.3,109.8 L1460.7,108.2 L1463.4,106.4 L1466.1,105.0 L1468.9,103.5 L1471.9,102.0 L1475.1,99.9 L1478.5,98.5 L1481.8,97.3 L1485.0,95.4 L1488.0,94.1 L1490.9,93.1 L1493.7,91.9 L1496.5,91.5 L1499.0,90.7 L1501.1,89.7 L1502.6,89.0" fill="none" stroke="#444" stroke-width="1.2" stroke-linejoin="round" />
<path d="M1384.4,77.3 L1385.0,77.4 L1385.9,77.3 L1387.0,77.5 L1388.0,77.6 L1389.1,77.3 L1390.0,77.1 L1390.8,77.6 L1391.5,76.9 L1392.2,76.9 L1392.8,76.8 L1393.4,76.8 L1394.0,76.7 L1394.6,77.2 L1395.1,77.5 L1395.6,78.3 L1396.1,78.5 L1396.6,79.2 L1397.0,79.1 L1397.4,79.1 L1397.7,78.8 L1398.0,78.3 L1398.3,78.3 L1398.6,77.8 L1399.0,77.9 L1399.5,77.5 L1400.0,77.4 L1400.5,76.9 L1401.1,77.3 L1401.6,77.0 L1402.2,76.9 L1402.7,77.1 L1403.3,77.4 L1403.9,77.9 L1404.4,78.7 L1405.0,79.0 L1405.5,79.7" fill="none" stroke="#444" stroke-width="1.2" stroke-linejoin="round" />
<path d="M1405.5,79.7 L1406.0,81.1" fill="none" stroke="#9a9a9a" stroke-width="1.02" stroke-linejoin="round" />
<path d="M1406.0,81.1 L1406.5,81.7 L1407.0,82.3" fill="none" stroke="#444" stroke-width="1.2" stroke-linejoin="round" />
<path d="M1407.0,82.3 L1407.5,83.6 L1408.0,85.4 L1408.6,87.9 L1409.2,91.3 L1409.8,94.9 L1410.5,98.7 L1411.1,102.8 L1411.8,107.5 L1412.4,112.1 L1413.0,117.1 L1413.7,122.5 L1414.3,128.8 L1415.0,134.7 L1415.6,139.8 L1416.2,143.6 L1416.8,147.2 L1417.3,149.6 L1417.8,152.1 L1418.3,153.6 L1418.9,155.5" fill="none" stroke="#9a9a9a" stroke-width="1.02" stroke-linejoin="round" />
<path d="M1418.9,155.5 L1419.5,156.7 L1420.2,157.5 L1420.9,158.6 L1421.6,159.9 L1422.3,160.1 L1423.1,160.4 L1423.8,160.5 L1424.5,160.5 L1425.2,160.1 L1425.8,159.1 L1426.5,158.5 L1427.2,157.2 L1428.0,155.7 L1428.8,155.1 L1429.5,153.6 L1430.3,152.0 L1431.2,151.2" fill="none" stroke="#444" stroke-width="1.2" stroke-linejoin="round" />
<path d="M1431.2,151.2 L1432.2,148.6" fill="none" stroke="#9a9a9a" stroke-width="1.02" stroke-linejoin="round" />
<path d="M1432.2,148.6 L1433.4,147.0 L1434.8,144.3 L1436.4,141.6 L1438.2,137.9 L1440.0,134.4 L1441.8,131.3 L1443.5,128.4 L1445.1,126.1 L1446.7,123.6 L1448.3,121.8 L1449.9,119.2 L1451.7,117.3 L1453.7,115.2 L1455.9,113.8 L1458.3,111.7 L1460.7,109.9 L1463.4,107.9 L1466.1,105.9 L1468.9,104.0 L1471.9,102.9 L1475.1,100.9 L1478.5,98.9 L1481.8,97.5 L1485.0,96.0 L1488.0,95.2 L1490.9,94.1 L1493.7,92.4 L1496.5,91.8 L1499.0,90.5 L1501.1,90.0 L1502.6,89.6" fill="none" stroke="#444" stroke-width="1.2" stroke-linejoin="round" />
<text x="1459.5" y="98.2" font-size="18.5" font-family="'Liberation Sans', Arial, sans-serif" stroke="#000" stroke-width="0.63" >1</text>
<text x="1447.5" y="145.8" font-size="18.5" font-family="'Liberation Sans', Arial, sans-serif" stroke="#000" stroke-width="0.63" >2</text>
<text x="1491.2" y="145.8" font-size="20" font-family="'Liberation Sans', Arial, sans-serif" textLength="54.6" lengthAdjust="spacingAndGlyphs" stroke="#000" stroke-width="0.68" >20 ms</text>
<line x1="1491.2" y1="153.5" x2="1547.4" y2="153.5" stroke="#000" stroke-width="3.0" />
<line x1="1545.9" y1="152.0" x2="1545.9" y2="186.5" stroke="#000" stroke-width="3.0" />
<text x="1555.1" y="177.0" font-size="20" font-family="'Liberation Sans', Arial, sans-serif" textLength="52.3" lengthAdjust="spacingAndGlyphs" stroke="#000" stroke-width="0.68" >50 pA</text>
<circle cx="1547.7" cy="84.0" r="0.9" fill="#888" stroke="none" stroke-width="0"/>
<rect x="1644.5" y="30.6" width="236.7" height="118.9" fill="#fff" stroke="#000" stroke-width="2.4"/>
<circle cx="1656.2" cy="52.3" r="4.9" fill="#fff" stroke="#000" stroke-width="1.3"/>
<text x="1677.4" y="61.0" font-size="22.4" font-family="'Liberation Serif', 'Times New Roman', serif" font-weight="bold" textLength="166.7" lengthAdjust="spacingAndGlyphs" stroke="#000" stroke-width="0.34" >Betaxolol (1 µM)</text>
<circle cx="1655.8" cy="88.6" r="5.4" fill="#000" stroke="none" stroke-width="0"/>
<text x="1677.4" y="99.3" font-size="22.4" font-family="'Liberation Serif', 'Times New Roman', serif" font-weight="bold" textLength="194.9" lengthAdjust="spacingAndGlyphs" stroke="#000" stroke-width="0.34" >ICI 118, 551 (1 µM)</text>
<path d="M1657.2,120.2 L1662.2,130.4 L1652.2,130.4 Z" fill="#fff" stroke="#000" stroke-width="1.3"/>
<text x="1677.4" y="132.3" font-size="22.4" font-family="'Liberation Serif', 'Times New Roman', serif" font-weight="bold" textLength="176.8" lengthAdjust="spacingAndGlyphs" stroke="#000" stroke-width="0.34" >SR59230A (1 µM)</text>
<line x1="1018.6" y1="91.3" x2="1018.6" y2="465.0" stroke="#000" stroke-width="4" />
<line x1="1010.0" y1="93.0" x2="1018.6" y2="93.0" stroke="#000" stroke-width="4" />
<text x="994.2" y="100.2" font-size="24" font-family="'Liberation Sans', Arial, sans-serif" text-anchor="end" stroke="#000" stroke-width="0.82" >250</text>
<line x1="1010.0" y1="167.0" x2="1018.6" y2="167.0" stroke="#000" stroke-width="4" />
<text x="994.2" y="174.2" font-size="24" font-family="'Liberation Sans', Arial, sans-serif" text-anchor="end" stroke="#000" stroke-width="0.82" >200</text>
<line x1="1010.0" y1="241.0" x2="1018.6" y2="241.0" stroke="#000" stroke-width="4" />
<text x="994.2" y="248.2" font-size="24" font-family="'Liberation Sans', Arial, sans-serif" text-anchor="end" stroke="#000" stroke-width="0.82" >150</text>
<line x1="1010.0" y1="315.0" x2="1018.6" y2="315.0" stroke="#000" stroke-width="4" />
<text x="994.2" y="322.2" font-size="24" font-family="'Liberation Sans', Arial, sans-serif" text-anchor="end" stroke="#000" stroke-width="0.82" >100</text>
<line x1="1010.0" y1="389.0" x2="1018.6" y2="389.0" stroke="#000" stroke-width="4" />
<text x="994.2" y="396.2" font-size="24" font-family="'Liberation Sans', Arial, sans-serif" text-anchor="end" stroke="#000" stroke-width="0.82" >50</text>
<line x1="1010.0" y1="463.0" x2="1018.6" y2="463.0" stroke="#000" stroke-width="4" />
<text x="994.2" y="470.2" font-size="24" font-family="'Liberation Sans', Arial, sans-serif" text-anchor="end" stroke="#000" stroke-width="0.82" >0</text>
<line x1="1010.0" y1="463.0" x2="1623.4" y2="463.0" stroke="#000" stroke-width="4" />
<line x1="1018.6" y1="463.0" x2="1018.6" y2="471.3" stroke="#000" stroke-width="4" />
<text x="1018.6" y="510.1" font-size="24" font-family="'Liberation Sans', Arial, sans-serif" text-anchor="middle" stroke="#000" stroke-width="0.82" >0</text>
<line x1="1165.9" y1="463.0" x2="1165.9" y2="471.3" stroke="#000" stroke-width="4" />
<text x="1165.9" y="510.1" font-size="24" font-family="'Liberation Sans', Arial, sans-serif" text-anchor="middle" stroke="#000" stroke-width="0.82" >10</text>
<line x1="1313.2" y1="463.0" x2="1313.2" y2="471.3" stroke="#000" stroke-width="4" />
<text x="1313.2" y="510.1" font-size="24" font-family="'Liberation Sans', Arial, sans-serif" text-anchor="middle" stroke="#000" stroke-width="0.82" >20</text>
<line x1="1460.5" y1="463.0" x2="1460.5" y2="471.3" stroke="#000" stroke-width="4" />
<text x="1460.5" y="510.1" font-size="24" font-family="'Liberation Sans', Arial, sans-serif" text-anchor="middle" stroke="#000" stroke-width="0.82" >30</text>
<line x1="1607.8" y1="463.0" x2="1607.8" y2="471.3" stroke="#000" stroke-width="4" />
<text x="1607.8" y="510.1" font-size="24" font-family="'Liberation Sans', Arial, sans-serif" text-anchor="middle" stroke="#000" stroke-width="0.82" >40</text>
<text x="1310.1" y="554.3" font-size="41.5" font-family="'Liberation Sans', Arial, sans-serif" text-anchor="middle" textLength="191.0" lengthAdjust="spacingAndGlyphs" stroke="#000" stroke-width="1.41" >Time (min)</text>
<text x="887.5" y="271.1" font-size="36" font-family="'Liberation Sans', Arial, sans-serif" text-anchor="middle" textLength="282.5" lengthAdjust="spacingAndGlyphs" transform="rotate(-90 887.5 271.1)" stroke="#000" stroke-width="1.22" >eEPSC Amplitude</text>
<text x="930.0" y="271.2" font-size="36" font-family="'Liberation Sans', Arial, sans-serif" text-anchor="middle" textLength="209.0" lengthAdjust="spacingAndGlyphs" transform="rotate(-90 930.0 271.2)" stroke="#000" stroke-width="1.22" >(% of control)</text>
<rect x="1159.0" y="356.5" width="197.7" height="7.0" fill="#000"/>
<text x="1153.4" y="387.2" font-size="24" font-family="'Liberation Sans', Arial, sans-serif" textLength="200.0" lengthAdjust="spacingAndGlyphs" stroke="#000" stroke-width="0.82" >SR58611A (15 µM)</text>
<rect x="1018.6" y="394.0" width="606.7" height="7.8" fill="#000"/>
<text x="1029.7" y="435.2" font-size="24" font-family="'Liberation Sans', Arial, sans-serif" textLength="141.6" lengthAdjust="spacingAndGlyphs" stroke="#000" stroke-width="0.82" >PTX + AP-5 +</text>
<text x="1180.9" y="435.2" font-size="28" font-family="'Liberation Sans', Arial, sans-serif" textLength="108.7" lengthAdjust="spacingAndGlyphs" stroke="#000" stroke-width="0.95" >Betaxolol</text>
<text x="1293.6" y="435.2" font-size="28" font-family="'Liberation Sans', Arial, sans-serif" stroke="#000" stroke-width="0.95" >(</text>
<circle cx="1321.1" cy="425.5" r="5.4" fill="#fff" stroke="#000" stroke-width="1.4"/>
<text x="1337.8" y="435.2" font-size="28" font-family="'Liberation Sans', Arial, sans-serif" stroke="#000" stroke-width="0.95" >)</text>
<text x="1353.9" y="435.2" font-size="28" font-family="'Liberation Sans', Arial, sans-serif" textLength="26.2" lengthAdjust="spacingAndGlyphs" stroke="#000" stroke-width="0.95" >or</text>
<text x="1385.7" y="435.2" font-size="28" font-family="'Liberation Sans', Arial, sans-serif" textLength="122.7" lengthAdjust="spacingAndGlyphs" stroke="#000" stroke-width="0.95" >ICI118551</text>
<text x="1518.4" y="435.2" font-size="28" font-family="'Liberation Sans', Arial, sans-serif" stroke="#000" stroke-width="0.95" >(</text>
<circle cx="1540.6" cy="425.5" r="6.0" fill="#000" stroke="none" stroke-width="0"/>
<text x="1555.4" y="435.2" font-size="28" font-family="'Liberation Sans', Arial, sans-serif" stroke="#000" stroke-width="0.95" >)</text>
<text x="1572.6" y="435.2" font-size="28" font-family="'Liberation Sans', Arial, sans-serif" textLength="24.2" lengthAdjust="spacingAndGlyphs" stroke="#000" stroke-width="0.95" >or</text>
<text x="1606.8" y="434.0" font-size="24" font-family="'Liberation Sans', Arial, sans-serif" textLength="111.3" lengthAdjust="spacingAndGlyphs" stroke="#000" stroke-width="0.82" >SR58611A</text>
<text x="1726.1" y="434.0" font-size="24" font-family="'Liberation Sans', Arial, sans-serif" stroke="#000" stroke-width="0.82" >(</text>
<path d="M1750.9,420.2 L1756.3,430.8 L1745.5,430.8 Z" fill="#fff" stroke="#000" stroke-width="1.2"/>
<text x="1759.5" y="434.0" font-size="24" font-family="'Liberation Sans', Arial, sans-serif" stroke="#000" stroke-width="0.82" >)</text>
<path d="M1077.3,284.5 L1077.3,272.7 L1150.6,272.7 L1150.6,284.5" fill="none" stroke="#000" stroke-width="1.8" stroke-linejoin="round" />
<text x="1111.7" y="264.0" font-size="18" font-family="'Liberation Serif', 'Times New Roman', serif" text-anchor="middle" stroke="#000" stroke-width="0.61" >1</text>
<path d="M1238.1,227.9 L1238.1,216.9 L1312.8,216.9 L1312.8,227.9" fill="none" stroke="#000" stroke-width="1.8" stroke-linejoin="round" />
<text x="1274.2" y="207.4" font-size="18" font-family="'Liberation Serif', 'Times New Roman', serif" text-anchor="middle" stroke="#000" stroke-width="0.61" >2</text>
<line x1="1026.0" y1="352.6" x2="1026.0" y2="312.9" stroke="#000" stroke-width="2.2" />
<line x1="1018.8" y1="352.6" x2="1033.2" y2="352.6" stroke="#000" stroke-width="2.2" />
<line x1="1018.8" y1="312.9" x2="1033.2" y2="312.9" stroke="#000" stroke-width="2.2" />
<line x1="1033.3" y1="340.7" x2="1033.3" y2="313.0" stroke="#000" stroke-width="2.2" />
<line x1="1026.1" y1="340.7" x2="1040.5" y2="340.7" stroke="#000" stroke-width="2.2" />
<line x1="1026.1" y1="313.0" x2="1040.5" y2="313.0" stroke="#000" stroke-width="2.2" />
<line x1="1040.7" y1="344.1" x2="1040.7" y2="300.7" stroke="#000" stroke-width="2.2" />
<line x1="1033.5" y1="344.1" x2="1047.9" y2="344.1" stroke="#000" stroke-width="2.2" />
<line x1="1033.5" y1="300.7" x2="1047.9" y2="300.7" stroke="#000" stroke-width="2.2" />
<line x1="1048.1" y1="352.0" x2="1048.1" y2="304.7" stroke="#000" stroke-width="2.2" />
<line x1="1040.9" y1="352.0" x2="1055.3" y2="352.0" stroke="#000" stroke-width="2.2" />
<line x1="1040.9" y1="304.7" x2="1055.3" y2="304.7" stroke="#000" stroke-width="2.2" />
<line x1="1055.4" y1="340.4" x2="1055.4" y2="295.5" stroke="#000" stroke-width="2.2" />
<line x1="1048.2" y1="340.4" x2="1062.6" y2="340.4" stroke="#000" stroke-width="2.2" />
<line x1="1048.2" y1="295.5" x2="1062.6" y2="295.5" stroke="#000" stroke-width="2.2" />
<line x1="1062.8" y1="348.0" x2="1062.8" y2="302.7" stroke="#000" stroke-width="2.2" />
<line x1="1055.6" y1="348.0" x2="1070.0" y2="348.0" stroke="#000" stroke-width="2.2" />
<line x1="1055.6" y1="302.7" x2="1070.0" y2="302.7" stroke="#000" stroke-width="2.2" />
<line x1="1070.2" y1="343.2" x2="1070.2" y2="316.4" stroke="#000" stroke-width="2.2" />
<line x1="1063.0" y1="343.2" x2="1077.4" y2="343.2" stroke="#000" stroke-width="2.2" />
<line x1="1063.0" y1="316.4" x2="1077.4" y2="316.4" stroke="#000" stroke-width="2.2" />
<line x1="1077.5" y1="333.8" x2="1077.5" y2="296.2" stroke="#000" stroke-width="2.2" />
<line x1="1070.3" y1="333.8" x2="1084.7" y2="333.8" stroke="#000" stroke-width="2.2" />
<line x1="1070.3" y1="296.2" x2="1084.7" y2="296.2" stroke="#000" stroke-width="2.2" />
<line x1="1084.9" y1="335.0" x2="1084.9" y2="306.8" stroke="#000" stroke-width="2.2" />
<line x1="1077.7" y1="335.0" x2="1092.1" y2="335.0" stroke="#000" stroke-width="2.2" />
<line x1="1077.7" y1="306.8" x2="1092.1" y2="306.8" stroke="#000" stroke-width="2.2" />
<line x1="1092.2" y1="353.6" x2="1092.2" y2="308.9" stroke="#000" stroke-width="2.2" />
<line x1="1085.0" y1="353.6" x2="1099.5" y2="353.6" stroke="#000" stroke-width="2.2" />
<line x1="1085.0" y1="308.9" x2="1099.5" y2="308.9" stroke="#000" stroke-width="2.2" />
<line x1="1099.6" y1="339.3" x2="1099.6" y2="308.5" stroke="#000" stroke-width="2.2" />
<line x1="1092.4" y1="339.3" x2="1106.8" y2="339.3" stroke="#000" stroke-width="2.2" />
<line x1="1092.4" y1="308.5" x2="1106.8" y2="308.5" stroke="#000" stroke-width="2.2" />
<line x1="1107.0" y1="338.2" x2="1107.0" y2="294.7" stroke="#000" stroke-width="2.2" />
<line x1="1099.8" y1="338.2" x2="1114.2" y2="338.2" stroke="#000" stroke-width="2.2" />
<line x1="1099.8" y1="294.7" x2="1114.2" y2="294.7" stroke="#000" stroke-width="2.2" />
<line x1="1114.3" y1="343.2" x2="1114.3" y2="310.5" stroke="#000" stroke-width="2.2" />
<line x1="1107.1" y1="343.2" x2="1121.5" y2="343.2" stroke="#000" stroke-width="2.2" />
<line x1="1107.1" y1="310.5" x2="1121.5" y2="310.5" stroke="#000" stroke-width="2.2" />
<line x1="1121.7" y1="341.0" x2="1121.7" y2="297.9" stroke="#000" stroke-width="2.2" />
<line x1="1114.5" y1="341.0" x2="1128.9" y2="341.0" stroke="#000" stroke-width="2.2" />
<line x1="1114.5" y1="297.9" x2="1128.9" y2="297.9" stroke="#000" stroke-width="2.2" />
<line x1="1129.1" y1="345.4" x2="1129.1" y2="311.3" stroke="#000" stroke-width="2.2" />
<line x1="1121.9" y1="345.4" x2="1136.3" y2="345.4" stroke="#000" stroke-width="2.2" />
<line x1="1121.9" y1="311.3" x2="1136.3" y2="311.3" stroke="#000" stroke-width="2.2" />
<line x1="1136.4" y1="324.4" x2="1136.4" y2="296.7" stroke="#000" stroke-width="2.2" />
<line x1="1129.2" y1="324.4" x2="1143.6" y2="324.4" stroke="#000" stroke-width="2.2" />
<line x1="1129.2" y1="296.7" x2="1143.6" y2="296.7" stroke="#000" stroke-width="2.2" />
<line x1="1143.8" y1="340.3" x2="1143.8" y2="304.5" stroke="#000" stroke-width="2.2" />
<line x1="1136.6" y1="340.3" x2="1151.0" y2="340.3" stroke="#000" stroke-width="2.2" />
<line x1="1136.6" y1="304.5" x2="1151.0" y2="304.5" stroke="#000" stroke-width="2.2" />
<line x1="1151.2" y1="349.7" x2="1151.2" y2="315.8" stroke="#000" stroke-width="2.2" />
<line x1="1144.0" y1="349.7" x2="1158.4" y2="349.7" stroke="#000" stroke-width="2.2" />
<line x1="1144.0" y1="315.8" x2="1158.4" y2="315.8" stroke="#000" stroke-width="2.2" />
<line x1="1158.5" y1="347.9" x2="1158.5" y2="299.9" stroke="#000" stroke-width="2.2" />
<line x1="1151.3" y1="347.9" x2="1165.7" y2="347.9" stroke="#000" stroke-width="2.2" />
<line x1="1151.3" y1="299.9" x2="1165.7" y2="299.9" stroke="#000" stroke-width="2.2" />
<line x1="1165.9" y1="336.3" x2="1165.9" y2="302.6" stroke="#000" stroke-width="2.2" />
<line x1="1158.7" y1="336.3" x2="1173.1" y2="336.3" stroke="#000" stroke-width="2.2" />
<line x1="1158.7" y1="302.6" x2="1173.1" y2="302.6" stroke="#000" stroke-width="2.2" />
<line x1="1173.3" y1="349.1" x2="1173.3" y2="310.5" stroke="#000" stroke-width="2.2" />
<line x1="1166.1" y1="349.1" x2="1180.5" y2="349.1" stroke="#000" stroke-width="2.2" />
<line x1="1166.1" y1="310.5" x2="1180.5" y2="310.5" stroke="#000" stroke-width="2.2" />
<line x1="1180.6" y1="337.8" x2="1180.6" y2="298.1" stroke="#000" stroke-width="2.2" />
<line x1="1173.4" y1="337.8" x2="1187.8" y2="337.8" stroke="#000" stroke-width="2.2" />
<line x1="1173.4" y1="298.1" x2="1187.8" y2="298.1" stroke="#000" stroke-width="2.2" />
<line x1="1188.0" y1="345.5" x2="1188.0" y2="296.4" stroke="#000" stroke-width="2.2" />
<line x1="1180.8" y1="345.5" x2="1195.2" y2="345.5" stroke="#000" stroke-width="2.2" />
<line x1="1180.8" y1="296.4" x2="1195.2" y2="296.4" stroke="#000" stroke-width="2.2" />
<line x1="1195.4" y1="329.5" x2="1195.4" y2="300.5" stroke="#000" stroke-width="2.2" />
<line x1="1188.2" y1="329.5" x2="1202.6" y2="329.5" stroke="#000" stroke-width="2.2" />
<line x1="1188.2" y1="300.5" x2="1202.6" y2="300.5" stroke="#000" stroke-width="2.2" />
<line x1="1202.7" y1="332.5" x2="1202.7" y2="291.6" stroke="#000" stroke-width="2.2" />
<line x1="1195.5" y1="332.5" x2="1209.9" y2="332.5" stroke="#000" stroke-width="2.2" />
<line x1="1195.5" y1="291.6" x2="1209.9" y2="291.6" stroke="#000" stroke-width="2.2" />
<line x1="1210.1" y1="332.9" x2="1210.1" y2="294.2" stroke="#000" stroke-width="2.2" />
<line x1="1202.9" y1="332.9" x2="1217.3" y2="332.9" stroke="#000" stroke-width="2.2" />
<line x1="1202.9" y1="294.2" x2="1217.3" y2="294.2" stroke="#000" stroke-width="2.2" />
<line x1="1217.5" y1="337.0" x2="1217.5" y2="293.0" stroke="#000" stroke-width="2.2" />
<line x1="1210.3" y1="337.0" x2="1224.7" y2="337.0" stroke="#000" stroke-width="2.2" />
<line x1="1210.3" y1="293.0" x2="1224.7" y2="293.0" stroke="#000" stroke-width="2.2" />
<line x1="1224.8" y1="338.3" x2="1224.8" y2="288.7" stroke="#000" stroke-width="2.2" />
<line x1="1217.6" y1="338.3" x2="1232.0" y2="338.3" stroke="#000" stroke-width="2.2" />
<line x1="1217.6" y1="288.7" x2="1232.0" y2="288.7" stroke="#000" stroke-width="2.2" />
<line x1="1232.2" y1="339.4" x2="1232.2" y2="305.4" stroke="#000" stroke-width="2.2" />
<line x1="1225.0" y1="339.4" x2="1239.4" y2="339.4" stroke="#000" stroke-width="2.2" />
<line x1="1225.0" y1="305.4" x2="1239.4" y2="305.4" stroke="#000" stroke-width="2.2" />
<line x1="1239.5" y1="347.0" x2="1239.5" y2="303.8" stroke="#000" stroke-width="2.2" />
<line x1="1232.3" y1="347.0" x2="1246.8" y2="347.0" stroke="#000" stroke-width="2.2" />
<line x1="1232.3" y1="303.8" x2="1246.8" y2="303.8" stroke="#000" stroke-width="2.2" />
<line x1="1246.9" y1="337.5" x2="1246.9" y2="298.4" stroke="#000" stroke-width="2.2" />
<line x1="1239.7" y1="337.5" x2="1254.1" y2="337.5" stroke="#000" stroke-width="2.2" />
<line x1="1239.7" y1="298.4" x2="1254.1" y2="298.4" stroke="#000" stroke-width="2.2" />
<line x1="1254.3" y1="355.7" x2="1254.3" y2="315.8" stroke="#000" stroke-width="2.2" />
<line x1="1247.1" y1="355.7" x2="1261.5" y2="355.7" stroke="#000" stroke-width="2.2" />
<line x1="1247.1" y1="315.8" x2="1261.5" y2="315.8" stroke="#000" stroke-width="2.2" />
<line x1="1261.6" y1="349.8" x2="1261.6" y2="321.6" stroke="#000" stroke-width="2.2" />
<line x1="1254.4" y1="349.8" x2="1268.8" y2="349.8" stroke="#000" stroke-width="2.2" />
<line x1="1254.4" y1="321.6" x2="1268.8" y2="321.6" stroke="#000" stroke-width="2.2" />
<line x1="1269.0" y1="340.9" x2="1269.0" y2="295.0" stroke="#000" stroke-width="2.2" />
<line x1="1261.8" y1="340.9" x2="1276.2" y2="340.9" stroke="#000" stroke-width="2.2" />
<line x1="1261.8" y1="295.0" x2="1276.2" y2="295.0" stroke="#000" stroke-width="2.2" />
<line x1="1276.4" y1="351.7" x2="1276.4" y2="302.0" stroke="#000" stroke-width="2.2" />
<line x1="1269.2" y1="351.7" x2="1283.6" y2="351.7" stroke="#000" stroke-width="2.2" />
<line x1="1269.2" y1="302.0" x2="1283.6" y2="302.0" stroke="#000" stroke-width="2.2" />
<line x1="1283.7" y1="331.0" x2="1283.7" y2="296.0" stroke="#000" stroke-width="2.2" />
<line x1="1276.5" y1="331.0" x2="1290.9" y2="331.0" stroke="#000" stroke-width="2.2" />
<line x1="1276.5" y1="296.0" x2="1290.9" y2="296.0" stroke="#000" stroke-width="2.2" />
<line x1="1291.1" y1="336.5" x2="1291.1" y2="302.4" stroke="#000" stroke-width="2.2" />
<line x1="1283.9" y1="336.5" x2="1298.3" y2="336.5" stroke="#000" stroke-width="2.2" />
<line x1="1283.9" y1="302.4" x2="1298.3" y2="302.4" stroke="#000" stroke-width="2.2" />
<line x1="1298.5" y1="341.6" x2="1298.5" y2="291.4" stroke="#000" stroke-width="2.2" />
<line x1="1291.3" y1="341.6" x2="1305.7" y2="341.6" stroke="#000" stroke-width="2.2" />
<line x1="1291.3" y1="291.4" x2="1305.7" y2="291.4" stroke="#000" stroke-width="2.2" />
<line x1="1305.8" y1="350.3" x2="1305.8" y2="321.1" stroke="#000" stroke-width="2.2" />
<line x1="1298.6" y1="350.3" x2="1313.0" y2="350.3" stroke="#000" stroke-width="2.2" />
<line x1="1298.6" y1="321.1" x2="1313.0" y2="321.1" stroke="#000" stroke-width="2.2" />
<line x1="1313.2" y1="329.2" x2="1313.2" y2="300.8" stroke="#000" stroke-width="2.2" />
<line x1="1306.0" y1="329.2" x2="1320.4" y2="329.2" stroke="#000" stroke-width="2.2" />
<line x1="1306.0" y1="300.8" x2="1320.4" y2="300.8" stroke="#000" stroke-width="2.2" />
<line x1="1320.6" y1="336.6" x2="1320.6" y2="308.2" stroke="#000" stroke-width="2.2" />
<line x1="1313.4" y1="336.6" x2="1327.8" y2="336.6" stroke="#000" stroke-width="2.2" />
<line x1="1313.4" y1="308.2" x2="1327.8" y2="308.2" stroke="#000" stroke-width="2.2" />
<line x1="1327.9" y1="335.0" x2="1327.9" y2="289.1" stroke="#000" stroke-width="2.2" />
<line x1="1320.7" y1="335.0" x2="1335.1" y2="335.0" stroke="#000" stroke-width="2.2" />
<line x1="1320.7" y1="289.1" x2="1335.1" y2="289.1" stroke="#000" stroke-width="2.2" />
<line x1="1335.3" y1="332.9" x2="1335.3" y2="288.2" stroke="#000" stroke-width="2.2" />
<line x1="1328.1" y1="332.9" x2="1342.5" y2="332.9" stroke="#000" stroke-width="2.2" />
<line x1="1328.1" y1="288.2" x2="1342.5" y2="288.2" stroke="#000" stroke-width="2.2" />
<line x1="1342.7" y1="345.5" x2="1342.7" y2="308.2" stroke="#000" stroke-width="2.2" />
<line x1="1335.5" y1="345.5" x2="1349.9" y2="345.5" stroke="#000" stroke-width="2.2" />
<line x1="1335.5" y1="308.2" x2="1349.9" y2="308.2" stroke="#000" stroke-width="2.2" />
<line x1="1350.0" y1="356.4" x2="1350.0" y2="315.0" stroke="#000" stroke-width="2.2" />
<line x1="1342.8" y1="356.4" x2="1357.2" y2="356.4" stroke="#000" stroke-width="2.2" />
<line x1="1342.8" y1="315.0" x2="1357.2" y2="315.0" stroke="#000" stroke-width="2.2" />
<line x1="1357.4" y1="337.4" x2="1357.4" y2="310.3" stroke="#000" stroke-width="2.2" />
<line x1="1350.2" y1="337.4" x2="1364.6" y2="337.4" stroke="#000" stroke-width="2.2" />
<line x1="1350.2" y1="310.3" x2="1364.6" y2="310.3" stroke="#000" stroke-width="2.2" />
<line x1="1364.8" y1="334.5" x2="1364.8" y2="292.6" stroke="#000" stroke-width="2.2" />
<line x1="1357.6" y1="334.5" x2="1372.0" y2="334.5" stroke="#000" stroke-width="2.2" />
<line x1="1357.6" y1="292.6" x2="1372.0" y2="292.6" stroke="#000" stroke-width="2.2" />
<line x1="1372.1" y1="335.0" x2="1372.1" y2="297.9" stroke="#000" stroke-width="2.2" />
<line x1="1364.9" y1="335.0" x2="1379.3" y2="335.0" stroke="#000" stroke-width="2.2" />
<line x1="1364.9" y1="297.9" x2="1379.3" y2="297.9" stroke="#000" stroke-width="2.2" />
<line x1="1379.5" y1="353.7" x2="1379.5" y2="314.8" stroke="#000" stroke-width="2.2" />
<line x1="1372.3" y1="353.7" x2="1386.7" y2="353.7" stroke="#000" stroke-width="2.2" />
<line x1="1372.3" y1="314.8" x2="1386.7" y2="314.8" stroke="#000" stroke-width="2.2" />
<line x1="1386.8" y1="330.0" x2="1386.8" y2="294.1" stroke="#000" stroke-width="2.2" />
<line x1="1379.6" y1="330.0" x2="1394.0" y2="330.0" stroke="#000" stroke-width="2.2" />
<line x1="1379.6" y1="294.1" x2="1394.0" y2="294.1" stroke="#000" stroke-width="2.2" />
<line x1="1394.2" y1="328.6" x2="1394.2" y2="292.5" stroke="#000" stroke-width="2.2" />
<line x1="1387.0" y1="328.6" x2="1401.4" y2="328.6" stroke="#000" stroke-width="2.2" />
<line x1="1387.0" y1="292.5" x2="1401.4" y2="292.5" stroke="#000" stroke-width="2.2" />
<line x1="1401.6" y1="347.3" x2="1401.6" y2="315.3" stroke="#000" stroke-width="2.2" />
<line x1="1394.4" y1="347.3" x2="1408.8" y2="347.3" stroke="#000" stroke-width="2.2" />
<line x1="1394.4" y1="315.3" x2="1408.8" y2="315.3" stroke="#000" stroke-width="2.2" />
<line x1="1408.9" y1="351.1" x2="1408.9" y2="323.3" stroke="#000" stroke-width="2.2" />
<line x1="1401.7" y1="351.1" x2="1416.1" y2="351.1" stroke="#000" stroke-width="2.2" />
<line x1="1401.7" y1="323.3" x2="1416.1" y2="323.3" stroke="#000" stroke-width="2.2" />
<line x1="1416.3" y1="332.0" x2="1416.3" y2="295.1" stroke="#000" stroke-width="2.2" />
<line x1="1409.1" y1="332.0" x2="1423.5" y2="332.0" stroke="#000" stroke-width="2.2" />
<line x1="1409.1" y1="295.1" x2="1423.5" y2="295.1" stroke="#000" stroke-width="2.2" />
<line x1="1423.7" y1="335.7" x2="1423.7" y2="303.2" stroke="#000" stroke-width="2.2" />
<line x1="1416.5" y1="335.7" x2="1430.9" y2="335.7" stroke="#000" stroke-width="2.2" />
<line x1="1416.5" y1="303.2" x2="1430.9" y2="303.2" stroke="#000" stroke-width="2.2" />
<line x1="1431.0" y1="329.3" x2="1431.0" y2="285.9" stroke="#000" stroke-width="2.2" />
<line x1="1423.8" y1="329.3" x2="1438.2" y2="329.3" stroke="#000" stroke-width="2.2" />
<line x1="1423.8" y1="285.9" x2="1438.2" y2="285.9" stroke="#000" stroke-width="2.2" />
<line x1="1438.4" y1="346.9" x2="1438.4" y2="300.9" stroke="#000" stroke-width="2.2" />
<line x1="1431.2" y1="346.9" x2="1445.6" y2="346.9" stroke="#000" stroke-width="2.2" />
<line x1="1431.2" y1="300.9" x2="1445.6" y2="300.9" stroke="#000" stroke-width="2.2" />
<line x1="1445.8" y1="329.5" x2="1445.8" y2="285.7" stroke="#000" stroke-width="2.2" />
<line x1="1438.6" y1="329.5" x2="1453.0" y2="329.5" stroke="#000" stroke-width="2.2" />
<line x1="1438.6" y1="285.7" x2="1453.0" y2="285.7" stroke="#000" stroke-width="2.2" />
<line x1="1453.1" y1="348.5" x2="1453.1" y2="311.1" stroke="#000" stroke-width="2.2" />
<line x1="1445.9" y1="348.5" x2="1460.3" y2="348.5" stroke="#000" stroke-width="2.2" />
<line x1="1445.9" y1="311.1" x2="1460.3" y2="311.1" stroke="#000" stroke-width="2.2" />
<line x1="1460.5" y1="345.9" x2="1460.5" y2="313.7" stroke="#000" stroke-width="2.2" />
<line x1="1453.3" y1="345.9" x2="1467.7" y2="345.9" stroke="#000" stroke-width="2.2" />
<line x1="1453.3" y1="313.7" x2="1467.7" y2="313.7" stroke="#000" stroke-width="2.2" />
<line x1="1467.9" y1="327.0" x2="1467.9" y2="291.2" stroke="#000" stroke-width="2.2" />
<line x1="1460.7" y1="327.0" x2="1475.1" y2="327.0" stroke="#000" stroke-width="2.2" />
<line x1="1460.7" y1="291.2" x2="1475.1" y2="291.2" stroke="#000" stroke-width="2.2" />
<line x1="1475.2" y1="351.8" x2="1475.2" y2="313.7" stroke="#000" stroke-width="2.2" />
<line x1="1468.0" y1="351.8" x2="1482.4" y2="351.8" stroke="#000" stroke-width="2.2" />
<line x1="1468.0" y1="313.7" x2="1482.4" y2="313.7" stroke="#000" stroke-width="2.2" />
<line x1="1482.6" y1="353.6" x2="1482.6" y2="312.0" stroke="#000" stroke-width="2.2" />
<line x1="1475.4" y1="353.6" x2="1489.8" y2="353.6" stroke="#000" stroke-width="2.2" />
<line x1="1475.4" y1="312.0" x2="1489.8" y2="312.0" stroke="#000" stroke-width="2.2" />
<line x1="1490.0" y1="359.0" x2="1490.0" y2="309.5" stroke="#000" stroke-width="2.2" />
<line x1="1482.8" y1="359.0" x2="1497.2" y2="359.0" stroke="#000" stroke-width="2.2" />
<line x1="1482.8" y1="309.5" x2="1497.2" y2="309.5" stroke="#000" stroke-width="2.2" />
<line x1="1497.3" y1="345.6" x2="1497.3" y2="316.9" stroke="#000" stroke-width="2.2" />
<line x1="1490.1" y1="345.6" x2="1504.5" y2="345.6" stroke="#000" stroke-width="2.2" />
<line x1="1490.1" y1="316.9" x2="1504.5" y2="316.9" stroke="#000" stroke-width="2.2" />
<line x1="1504.7" y1="332.5" x2="1504.7" y2="294.5" stroke="#000" stroke-width="2.2" />
<line x1="1497.5" y1="332.5" x2="1511.9" y2="332.5" stroke="#000" stroke-width="2.2" />
<line x1="1497.5" y1="294.5" x2="1511.9" y2="294.5" stroke="#000" stroke-width="2.2" />
<line x1="1512.1" y1="344.5" x2="1512.1" y2="306.2" stroke="#000" stroke-width="2.2" />
<line x1="1504.9" y1="344.5" x2="1519.3" y2="344.5" stroke="#000" stroke-width="2.2" />
<line x1="1504.9" y1="306.2" x2="1519.3" y2="306.2" stroke="#000" stroke-width="2.2" />
<line x1="1519.4" y1="336.8" x2="1519.4" y2="293.2" stroke="#000" stroke-width="2.2" />
<line x1="1512.2" y1="336.8" x2="1526.6" y2="336.8" stroke="#000" stroke-width="2.2" />
<line x1="1512.2" y1="293.2" x2="1526.6" y2="293.2" stroke="#000" stroke-width="2.2" />
<line x1="1526.8" y1="346.3" x2="1526.8" y2="298.5" stroke="#000" stroke-width="2.2" />
<line x1="1519.6" y1="346.3" x2="1534.0" y2="346.3" stroke="#000" stroke-width="2.2" />
<line x1="1519.6" y1="298.5" x2="1534.0" y2="298.5" stroke="#000" stroke-width="2.2" />
<line x1="1534.2" y1="352.3" x2="1534.2" y2="307.3" stroke="#000" stroke-width="2.2" />
<line x1="1527.0" y1="352.3" x2="1541.4" y2="352.3" stroke="#000" stroke-width="2.2" />
<line x1="1527.0" y1="307.3" x2="1541.4" y2="307.3" stroke="#000" stroke-width="2.2" />
<line x1="1541.5" y1="352.0" x2="1541.5" y2="310.5" stroke="#000" stroke-width="2.2" />
<line x1="1534.3" y1="352.0" x2="1548.7" y2="352.0" stroke="#000" stroke-width="2.2" />
<line x1="1534.3" y1="310.5" x2="1548.7" y2="310.5" stroke="#000" stroke-width="2.2" />
<line x1="1548.9" y1="344.7" x2="1548.9" y2="300.1" stroke="#000" stroke-width="2.2" />
<line x1="1541.7" y1="344.7" x2="1556.1" y2="344.7" stroke="#000" stroke-width="2.2" />
<line x1="1541.7" y1="300.1" x2="1556.1" y2="300.1" stroke="#000" stroke-width="2.2" />
<line x1="1556.2" y1="336.2" x2="1556.2" y2="293.8" stroke="#000" stroke-width="2.2" />
<line x1="1549.0" y1="336.2" x2="1563.4" y2="336.2" stroke="#000" stroke-width="2.2" />
<line x1="1549.0" y1="293.8" x2="1563.4" y2="293.8" stroke="#000" stroke-width="2.2" />
<line x1="1563.6" y1="335.5" x2="1563.6" y2="288.6" stroke="#000" stroke-width="2.2" />
<line x1="1556.4" y1="335.5" x2="1570.8" y2="335.5" stroke="#000" stroke-width="2.2" />
<line x1="1556.4" y1="288.6" x2="1570.8" y2="288.6" stroke="#000" stroke-width="2.2" />
<line x1="1571.0" y1="336.6" x2="1571.0" y2="293.4" stroke="#000" stroke-width="2.2" />
<line x1="1563.8" y1="336.6" x2="1578.2" y2="336.6" stroke="#000" stroke-width="2.2" />
<line x1="1563.8" y1="293.4" x2="1578.2" y2="293.4" stroke="#000" stroke-width="2.2" />
<line x1="1578.3" y1="340.8" x2="1578.3" y2="298.0" stroke="#000" stroke-width="2.2" />
<line x1="1571.1" y1="340.8" x2="1585.5" y2="340.8" stroke="#000" stroke-width="2.2" />
<line x1="1571.1" y1="298.0" x2="1585.5" y2="298.0" stroke="#000" stroke-width="2.2" />
<line x1="1585.7" y1="340.1" x2="1585.7" y2="307.7" stroke="#000" stroke-width="2.2" />
<line x1="1578.5" y1="340.1" x2="1592.9" y2="340.1" stroke="#000" stroke-width="2.2" />
<line x1="1578.5" y1="307.7" x2="1592.9" y2="307.7" stroke="#000" stroke-width="2.2" />
<line x1="1593.1" y1="351.0" x2="1593.1" y2="302.7" stroke="#000" stroke-width="2.2" />
<line x1="1585.9" y1="351.0" x2="1600.3" y2="351.0" stroke="#000" stroke-width="2.2" />
<line x1="1585.9" y1="302.7" x2="1600.3" y2="302.7" stroke="#000" stroke-width="2.2" />
<line x1="1600.4" y1="328.4" x2="1600.4" y2="292.7" stroke="#000" stroke-width="2.2" />
<line x1="1593.2" y1="328.4" x2="1607.6" y2="328.4" stroke="#000" stroke-width="2.2" />
<line x1="1593.2" y1="292.7" x2="1607.6" y2="292.7" stroke="#000" stroke-width="2.2" />
<line x1="1607.8" y1="328.2" x2="1607.8" y2="287.0" stroke="#000" stroke-width="2.2" />
<line x1="1600.6" y1="328.2" x2="1615.0" y2="328.2" stroke="#000" stroke-width="2.2" />
<line x1="1600.6" y1="287.0" x2="1615.0" y2="287.0" stroke="#000" stroke-width="2.2" />
<line x1="1026.0" y1="339.3" x2="1026.0" y2="314.4" stroke="#000" stroke-width="2.2" />
<line x1="1018.8" y1="339.3" x2="1033.2" y2="339.3" stroke="#000" stroke-width="2.2" />
<line x1="1018.8" y1="314.4" x2="1033.2" y2="314.4" stroke="#000" stroke-width="2.2" />
<line x1="1033.3" y1="325.2" x2="1033.3" y2="287.1" stroke="#000" stroke-width="2.2" />
<line x1="1026.1" y1="325.2" x2="1040.5" y2="325.2" stroke="#000" stroke-width="2.2" />
<line x1="1026.1" y1="287.1" x2="1040.5" y2="287.1" stroke="#000" stroke-width="2.2" />
<line x1="1040.7" y1="335.2" x2="1040.7" y2="297.7" stroke="#000" stroke-width="2.2" />
<line x1="1033.5" y1="335.2" x2="1047.9" y2="335.2" stroke="#000" stroke-width="2.2" />
<line x1="1033.5" y1="297.7" x2="1047.9" y2="297.7" stroke="#000" stroke-width="2.2" />
<line x1="1048.1" y1="325.7" x2="1048.1" y2="295.4" stroke="#000" stroke-width="2.2" />
<line x1="1040.9" y1="325.7" x2="1055.3" y2="325.7" stroke="#000" stroke-width="2.2" />
<line x1="1040.9" y1="295.4" x2="1055.3" y2="295.4" stroke="#000" stroke-width="2.2" />
<line x1="1055.4" y1="338.8" x2="1055.4" y2="303.0" stroke="#000" stroke-width="2.2" />
<line x1="1048.2" y1="338.8" x2="1062.6" y2="338.8" stroke="#000" stroke-width="2.2" />
<line x1="1048.2" y1="303.0" x2="1062.6" y2="303.0" stroke="#000" stroke-width="2.2" />
<line x1="1062.8" y1="321.0" x2="1062.8" y2="285.3" stroke="#000" stroke-width="2.2" />
<line x1="1055.6" y1="321.0" x2="1070.0" y2="321.0" stroke="#000" stroke-width="2.2" />
<line x1="1055.6" y1="285.3" x2="1070.0" y2="285.3" stroke="#000" stroke-width="2.2" />
<line x1="1070.2" y1="345.2" x2="1070.2" y2="305.5" stroke="#000" stroke-width="2.2" />
<line x1="1063.0" y1="345.2" x2="1077.4" y2="345.2" stroke="#000" stroke-width="2.2" />
<line x1="1063.0" y1="305.5" x2="1077.4" y2="305.5" stroke="#000" stroke-width="2.2" />
<line x1="1077.5" y1="335.3" x2="1077.5" y2="294.7" stroke="#000" stroke-width="2.2" />
<line x1="1070.3" y1="335.3" x2="1084.7" y2="335.3" stroke="#000" stroke-width="2.2" />
<line x1="1070.3" y1="294.7" x2="1084.7" y2="294.7" stroke="#000" stroke-width="2.2" />
<line x1="1084.9" y1="323.1" x2="1084.9" y2="292.1" stroke="#000" stroke-width="2.2" />
<line x1="1077.7" y1="323.1" x2="1092.1" y2="323.1" stroke="#000" stroke-width="2.2" />
<line x1="1077.7" y1="292.1" x2="1092.1" y2="292.1" stroke="#000" stroke-width="2.2" />
<line x1="1092.2" y1="350.4" x2="1092.2" y2="309.2" stroke="#000" stroke-width="2.2" />
<line x1="1085.0" y1="350.4" x2="1099.5" y2="350.4" stroke="#000" stroke-width="2.2" />
<line x1="1085.0" y1="309.2" x2="1099.5" y2="309.2" stroke="#000" stroke-width="2.2" />
<line x1="1099.6" y1="339.8" x2="1099.6" y2="299.1" stroke="#000" stroke-width="2.2" />
<line x1="1092.4" y1="339.8" x2="1106.8" y2="339.8" stroke="#000" stroke-width="2.2" />
<line x1="1092.4" y1="299.1" x2="1106.8" y2="299.1" stroke="#000" stroke-width="2.2" />
<line x1="1107.0" y1="321.7" x2="1107.0" y2="287.6" stroke="#000" stroke-width="2.2" />
<line x1="1099.8" y1="321.7" x2="1114.2" y2="321.7" stroke="#000" stroke-width="2.2" />
<line x1="1099.8" y1="287.6" x2="1114.2" y2="287.6" stroke="#000" stroke-width="2.2" />
<line x1="1114.3" y1="342.1" x2="1114.3" y2="302.7" stroke="#000" stroke-width="2.2" />
<line x1="1107.1" y1="342.1" x2="1121.5" y2="342.1" stroke="#000" stroke-width="2.2" />
<line x1="1107.1" y1="302.7" x2="1121.5" y2="302.7" stroke="#000" stroke-width="2.2" />
<line x1="1121.7" y1="329.7" x2="1121.7" y2="297.3" stroke="#000" stroke-width="2.2" />
<line x1="1114.5" y1="329.7" x2="1128.9" y2="329.7" stroke="#000" stroke-width="2.2" />
<line x1="1114.5" y1="297.3" x2="1128.9" y2="297.3" stroke="#000" stroke-width="2.2" />
<line x1="1129.1" y1="324.3" x2="1129.1" y2="293.9" stroke="#000" stroke-width="2.2" />
<line x1="1121.9" y1="324.3" x2="1136.3" y2="324.3" stroke="#000" stroke-width="2.2" />
<line x1="1121.9" y1="293.9" x2="1136.3" y2="293.9" stroke="#000" stroke-width="2.2" />
<line x1="1136.4" y1="340.9" x2="1136.4" y2="312.8" stroke="#000" stroke-width="2.2" />
<line x1="1129.2" y1="340.9" x2="1143.6" y2="340.9" stroke="#000" stroke-width="2.2" />
<line x1="1129.2" y1="312.8" x2="1143.6" y2="312.8" stroke="#000" stroke-width="2.2" />
<line x1="1143.8" y1="336.1" x2="1143.8" y2="296.9" stroke="#000" stroke-width="2.2" />
<line x1="1136.6" y1="336.1" x2="1151.0" y2="336.1" stroke="#000" stroke-width="2.2" />
<line x1="1136.6" y1="296.9" x2="1151.0" y2="296.9" stroke="#000" stroke-width="2.2" />
<line x1="1151.2" y1="319.4" x2="1151.2" y2="292.8" stroke="#000" stroke-width="2.2" />
<line x1="1144.0" y1="319.4" x2="1158.4" y2="319.4" stroke="#000" stroke-width="2.2" />
<line x1="1144.0" y1="292.8" x2="1158.4" y2="292.8" stroke="#000" stroke-width="2.2" />
<line x1="1158.5" y1="336.3" x2="1158.5" y2="311.4" stroke="#000" stroke-width="2.2" />
<line x1="1151.3" y1="336.3" x2="1165.7" y2="336.3" stroke="#000" stroke-width="2.2" />
<line x1="1151.3" y1="311.4" x2="1165.7" y2="311.4" stroke="#000" stroke-width="2.2" />
<line x1="1165.9" y1="332.5" x2="1165.9" y2="294.5" stroke="#000" stroke-width="2.2" />
<line x1="1158.7" y1="332.5" x2="1173.1" y2="332.5" stroke="#000" stroke-width="2.2" />
<line x1="1158.7" y1="294.5" x2="1173.1" y2="294.5" stroke="#000" stroke-width="2.2" />
<line x1="1173.3" y1="339.6" x2="1173.3" y2="302.2" stroke="#000" stroke-width="2.2" />
<line x1="1166.1" y1="339.6" x2="1180.5" y2="339.6" stroke="#000" stroke-width="2.2" />
<line x1="1166.1" y1="302.2" x2="1180.5" y2="302.2" stroke="#000" stroke-width="2.2" />
<line x1="1180.6" y1="341.5" x2="1180.6" y2="309.2" stroke="#000" stroke-width="2.2" />
<line x1="1173.4" y1="341.5" x2="1187.8" y2="341.5" stroke="#000" stroke-width="2.2" />
<line x1="1173.4" y1="309.2" x2="1187.8" y2="309.2" stroke="#000" stroke-width="2.2" />
<line x1="1188.0" y1="315.0" x2="1188.0" y2="276.5" stroke="#000" stroke-width="2.2" />
<line x1="1180.8" y1="315.0" x2="1195.2" y2="315.0" stroke="#000" stroke-width="2.2" />
<line x1="1180.8" y1="276.5" x2="1195.2" y2="276.5" stroke="#000" stroke-width="2.2" />
<line x1="1195.4" y1="309.5" x2="1195.4" y2="284.9" stroke="#000" stroke-width="2.2" />
<line x1="1188.2" y1="309.5" x2="1202.6" y2="309.5" stroke="#000" stroke-width="2.2" />
<line x1="1188.2" y1="284.9" x2="1202.6" y2="284.9" stroke="#000" stroke-width="2.2" />
<line x1="1202.7" y1="305.5" x2="1202.7" y2="277.2" stroke="#000" stroke-width="2.2" />
<line x1="1195.5" y1="305.5" x2="1209.9" y2="305.5" stroke="#000" stroke-width="2.2" />
<line x1="1195.5" y1="277.2" x2="1209.9" y2="277.2" stroke="#000" stroke-width="2.2" />
<line x1="1210.1" y1="302.8" x2="1210.1" y2="273.9" stroke="#000" stroke-width="2.2" />
<line x1="1202.9" y1="302.8" x2="1217.3" y2="302.8" stroke="#000" stroke-width="2.2" />
<line x1="1202.9" y1="273.9" x2="1217.3" y2="273.9" stroke="#000" stroke-width="2.2" />
<line x1="1217.5" y1="298.0" x2="1217.5" y2="266.9" stroke="#000" stroke-width="2.2" />
<line x1="1210.3" y1="298.0" x2="1224.7" y2="298.0" stroke="#000" stroke-width="2.2" />
<line x1="1210.3" y1="266.9" x2="1224.7" y2="266.9" stroke="#000" stroke-width="2.2" />
<line x1="1224.8" y1="301.7" x2="1224.8" y2="275.0" stroke="#000" stroke-width="2.2" />
<line x1="1217.6" y1="301.7" x2="1232.0" y2="301.7" stroke="#000" stroke-width="2.2" />
<line x1="1217.6" y1="275.0" x2="1232.0" y2="275.0" stroke="#000" stroke-width="2.2" />
<line x1="1232.2" y1="286.0" x2="1232.2" y2="261.1" stroke="#000" stroke-width="2.2" />
<line x1="1225.0" y1="286.0" x2="1239.4" y2="286.0" stroke="#000" stroke-width="2.2" />
<line x1="1225.0" y1="261.1" x2="1239.4" y2="261.1" stroke="#000" stroke-width="2.2" />
<line x1="1239.5" y1="281.0" x2="1239.5" y2="251.3" stroke="#000" stroke-width="2.2" />
<line x1="1232.3" y1="281.0" x2="1246.8" y2="281.0" stroke="#000" stroke-width="2.2" />
<line x1="1232.3" y1="251.3" x2="1246.8" y2="251.3" stroke="#000" stroke-width="2.2" />
<line x1="1246.9" y1="283.0" x2="1246.9" y2="243.4" stroke="#000" stroke-width="2.2" />
<line x1="1239.7" y1="283.0" x2="1254.1" y2="283.0" stroke="#000" stroke-width="2.2" />
<line x1="1239.7" y1="243.4" x2="1254.1" y2="243.4" stroke="#000" stroke-width="2.2" />
<line x1="1254.3" y1="295.6" x2="1254.3" y2="254.5" stroke="#000" stroke-width="2.2" />
<line x1="1247.1" y1="295.6" x2="1261.5" y2="295.6" stroke="#000" stroke-width="2.2" />
<line x1="1247.1" y1="254.5" x2="1261.5" y2="254.5" stroke="#000" stroke-width="2.2" />
<line x1="1261.6" y1="290.5" x2="1261.6" y2="253.6" stroke="#000" stroke-width="2.2" />
<line x1="1254.4" y1="290.5" x2="1268.8" y2="290.5" stroke="#000" stroke-width="2.2" />
<line x1="1254.4" y1="253.6" x2="1268.8" y2="253.6" stroke="#000" stroke-width="2.2" />
<line x1="1269.0" y1="292.6" x2="1269.0" y2="260.4" stroke="#000" stroke-width="2.2" />
<line x1="1261.8" y1="292.6" x2="1276.2" y2="292.6" stroke="#000" stroke-width="2.2" />
<line x1="1261.8" y1="260.4" x2="1276.2" y2="260.4" stroke="#000" stroke-width="2.2" />
<line x1="1276.4" y1="292.1" x2="1276.4" y2="263.9" stroke="#000" stroke-width="2.2" />
<line x1="1269.2" y1="292.1" x2="1283.6" y2="292.1" stroke="#000" stroke-width="2.2" />
<line x1="1269.2" y1="263.9" x2="1283.6" y2="263.9" stroke="#000" stroke-width="2.2" />
<line x1="1283.7" y1="289.5" x2="1283.7" y2="248.8" stroke="#000" stroke-width="2.2" />
<line x1="1276.5" y1="289.5" x2="1290.9" y2="289.5" stroke="#000" stroke-width="2.2" />
<line x1="1276.5" y1="248.8" x2="1290.9" y2="248.8" stroke="#000" stroke-width="2.2" />
<line x1="1291.1" y1="282.7" x2="1291.1" y2="249.7" stroke="#000" stroke-width="2.2" />
<line x1="1283.9" y1="282.7" x2="1298.3" y2="282.7" stroke="#000" stroke-width="2.2" />
<line x1="1283.9" y1="249.7" x2="1298.3" y2="249.7" stroke="#000" stroke-width="2.2" />
<line x1="1298.5" y1="291.9" x2="1298.5" y2="255.2" stroke="#000" stroke-width="2.2" />
<line x1="1291.3" y1="291.9" x2="1305.7" y2="291.9" stroke="#000" stroke-width="2.2" />
<line x1="1291.3" y1="255.2" x2="1305.7" y2="255.2" stroke="#000" stroke-width="2.2" />
<line x1="1305.8" y1="267.9" x2="1305.8" y2="243.7" stroke="#000" stroke-width="2.2" />
<line x1="1298.6" y1="267.9" x2="1313.0" y2="267.9" stroke="#000" stroke-width="2.2" />
<line x1="1298.6" y1="243.7" x2="1313.0" y2="243.7" stroke="#000" stroke-width="2.2" />
<line x1="1313.2" y1="282.8" x2="1313.2" y2="255.4" stroke="#000" stroke-width="2.2" />
<line x1="1306.0" y1="282.8" x2="1320.4" y2="282.8" stroke="#000" stroke-width="2.2" />
<line x1="1306.0" y1="255.4" x2="1320.4" y2="255.4" stroke="#000" stroke-width="2.2" />
<line x1="1320.6" y1="292.8" x2="1320.6" y2="254.3" stroke="#000" stroke-width="2.2" />
<line x1="1313.4" y1="292.8" x2="1327.8" y2="292.8" stroke="#000" stroke-width="2.2" />
<line x1="1313.4" y1="254.3" x2="1327.8" y2="254.3" stroke="#000" stroke-width="2.2" />
<line x1="1327.9" y1="283.6" x2="1327.9" y2="245.8" stroke="#000" stroke-width="2.2" />
<line x1="1320.7" y1="283.6" x2="1335.1" y2="283.6" stroke="#000" stroke-width="2.2" />
<line x1="1320.7" y1="245.8" x2="1335.1" y2="245.8" stroke="#000" stroke-width="2.2" />
<line x1="1335.3" y1="296.2" x2="1335.3" y2="256.9" stroke="#000" stroke-width="2.2" />
<line x1="1328.1" y1="296.2" x2="1342.5" y2="296.2" stroke="#000" stroke-width="2.2" />
<line x1="1328.1" y1="256.9" x2="1342.5" y2="256.9" stroke="#000" stroke-width="2.2" />
<line x1="1342.7" y1="290.7" x2="1342.7" y2="256.4" stroke="#000" stroke-width="2.2" />
<line x1="1335.5" y1="290.7" x2="1349.9" y2="290.7" stroke="#000" stroke-width="2.2" />
<line x1="1335.5" y1="256.4" x2="1349.9" y2="256.4" stroke="#000" stroke-width="2.2" />
<line x1="1350.0" y1="278.8" x2="1350.0" y2="247.6" stroke="#000" stroke-width="2.2" />
<line x1="1342.8" y1="278.8" x2="1357.2" y2="278.8" stroke="#000" stroke-width="2.2" />
<line x1="1342.8" y1="247.6" x2="1357.2" y2="247.6" stroke="#000" stroke-width="2.2" />
<line x1="1357.4" y1="287.6" x2="1357.4" y2="253.6" stroke="#000" stroke-width="2.2" />
<line x1="1350.2" y1="287.6" x2="1364.6" y2="287.6" stroke="#000" stroke-width="2.2" />
<line x1="1350.2" y1="253.6" x2="1364.6" y2="253.6" stroke="#000" stroke-width="2.2" />
<line x1="1364.8" y1="291.5" x2="1364.8" y2="252.7" stroke="#000" stroke-width="2.2" />
<line x1="1357.6" y1="291.5" x2="1372.0" y2="291.5" stroke="#000" stroke-width="2.2" />
<line x1="1357.6" y1="252.7" x2="1372.0" y2="252.7" stroke="#000" stroke-width="2.2" />
<line x1="1372.1" y1="288.1" x2="1372.1" y2="259.0" stroke="#000" stroke-width="2.2" />
<line x1="1364.9" y1="288.1" x2="1379.3" y2="288.1" stroke="#000" stroke-width="2.2" />
<line x1="1364.9" y1="259.0" x2="1379.3" y2="259.0" stroke="#000" stroke-width="2.2" />
<line x1="1379.5" y1="299.0" x2="1379.5" y2="265.9" stroke="#000" stroke-width="2.2" />
<line x1="1372.3" y1="299.0" x2="1386.7" y2="299.0" stroke="#000" stroke-width="2.2" />
<line x1="1372.3" y1="265.9" x2="1386.7" y2="265.9" stroke="#000" stroke-width="2.2" />
<line x1="1386.8" y1="301.2" x2="1386.8" y2="272.6" stroke="#000" stroke-width="2.2" />
<line x1="1379.6" y1="301.2" x2="1394.0" y2="301.2" stroke="#000" stroke-width="2.2" />
<line x1="1379.6" y1="272.6" x2="1394.0" y2="272.6" stroke="#000" stroke-width="2.2" />
<line x1="1394.2" y1="304.1" x2="1394.2" y2="266.7" stroke="#000" stroke-width="2.2" />
<line x1="1387.0" y1="304.1" x2="1401.4" y2="304.1" stroke="#000" stroke-width="2.2" />
<line x1="1387.0" y1="266.7" x2="1401.4" y2="266.7" stroke="#000" stroke-width="2.2" />
<line x1="1401.6" y1="282.5" x2="1401.6" y2="258.7" stroke="#000" stroke-width="2.2" />
<line x1="1394.4" y1="282.5" x2="1408.8" y2="282.5" stroke="#000" stroke-width="2.2" />
<line x1="1394.4" y1="258.7" x2="1408.8" y2="258.7" stroke="#000" stroke-width="2.2" />
<line x1="1408.9" y1="279.6" x2="1408.9" y2="243.8" stroke="#000" stroke-width="2.2" />
<line x1="1401.7" y1="279.6" x2="1416.1" y2="279.6" stroke="#000" stroke-width="2.2" />
<line x1="1401.7" y1="243.8" x2="1416.1" y2="243.8" stroke="#000" stroke-width="2.2" />
<line x1="1416.3" y1="293.9" x2="1416.3" y2="253.2" stroke="#000" stroke-width="2.2" />
<line x1="1409.1" y1="293.9" x2="1423.5" y2="293.9" stroke="#000" stroke-width="2.2" />
<line x1="1409.1" y1="253.2" x2="1423.5" y2="253.2" stroke="#000" stroke-width="2.2" />
<line x1="1423.7" y1="278.2" x2="1423.7" y2="254.1" stroke="#000" stroke-width="2.2" />
<line x1="1416.5" y1="278.2" x2="1430.9" y2="278.2" stroke="#000" stroke-width="2.2" />
<line x1="1416.5" y1="254.1" x2="1430.9" y2="254.1" stroke="#000" stroke-width="2.2" />
<line x1="1431.0" y1="287.7" x2="1431.0" y2="253.5" stroke="#000" stroke-width="2.2" />
<line x1="1423.8" y1="287.7" x2="1438.2" y2="287.7" stroke="#000" stroke-width="2.2" />
<line x1="1423.8" y1="253.5" x2="1438.2" y2="253.5" stroke="#000" stroke-width="2.2" />
<line x1="1438.4" y1="292.6" x2="1438.4" y2="257.5" stroke="#000" stroke-width="2.2" />
<line x1="1431.2" y1="292.6" x2="1445.6" y2="292.6" stroke="#000" stroke-width="2.2" />
<line x1="1431.2" y1="257.5" x2="1445.6" y2="257.5" stroke="#000" stroke-width="2.2" />
<line x1="1445.8" y1="293.0" x2="1445.8" y2="254.2" stroke="#000" stroke-width="2.2" />
<line x1="1438.6" y1="293.0" x2="1453.0" y2="293.0" stroke="#000" stroke-width="2.2" />
<line x1="1438.6" y1="254.2" x2="1453.0" y2="254.2" stroke="#000" stroke-width="2.2" />
<line x1="1453.1" y1="296.5" x2="1453.1" y2="262.5" stroke="#000" stroke-width="2.2" />
<line x1="1445.9" y1="296.5" x2="1460.3" y2="296.5" stroke="#000" stroke-width="2.2" />
<line x1="1445.9" y1="262.5" x2="1460.3" y2="262.5" stroke="#000" stroke-width="2.2" />
<line x1="1460.5" y1="280.3" x2="1460.5" y2="252.0" stroke="#000" stroke-width="2.2" />
<line x1="1453.3" y1="280.3" x2="1467.7" y2="280.3" stroke="#000" stroke-width="2.2" />
<line x1="1453.3" y1="252.0" x2="1467.7" y2="252.0" stroke="#000" stroke-width="2.2" />
<line x1="1467.9" y1="271.2" x2="1467.9" y2="240.4" stroke="#000" stroke-width="2.2" />
<line x1="1460.7" y1="271.2" x2="1475.1" y2="271.2" stroke="#000" stroke-width="2.2" />
<line x1="1460.7" y1="240.4" x2="1475.1" y2="240.4" stroke="#000" stroke-width="2.2" />
<line x1="1475.2" y1="286.5" x2="1475.2" y2="245.8" stroke="#000" stroke-width="2.2" />
<line x1="1468.0" y1="286.5" x2="1482.4" y2="286.5" stroke="#000" stroke-width="2.2" />
<line x1="1468.0" y1="245.8" x2="1482.4" y2="245.8" stroke="#000" stroke-width="2.2" />
<line x1="1482.6" y1="289.0" x2="1482.6" y2="249.2" stroke="#000" stroke-width="2.2" />
<line x1="1475.4" y1="289.0" x2="1489.8" y2="289.0" stroke="#000" stroke-width="2.2" />
<line x1="1475.4" y1="249.2" x2="1489.8" y2="249.2" stroke="#000" stroke-width="2.2" />
<line x1="1490.0" y1="286.6" x2="1490.0" y2="260.5" stroke="#000" stroke-width="2.2" />
<line x1="1482.8" y1="286.6" x2="1497.2" y2="286.6" stroke="#000" stroke-width="2.2" />
<line x1="1482.8" y1="260.5" x2="1497.2" y2="260.5" stroke="#000" stroke-width="2.2" />
<line x1="1497.3" y1="278.8" x2="1497.3" y2="253.5" stroke="#000" stroke-width="2.2" />
<line x1="1490.1" y1="278.8" x2="1504.5" y2="278.8" stroke="#000" stroke-width="2.2" />
<line x1="1490.1" y1="253.5" x2="1504.5" y2="253.5" stroke="#000" stroke-width="2.2" />
<line x1="1504.7" y1="286.2" x2="1504.7" y2="260.9" stroke="#000" stroke-width="2.2" />
<line x1="1497.5" y1="286.2" x2="1511.9" y2="286.2" stroke="#000" stroke-width="2.2" />
<line x1="1497.5" y1="260.9" x2="1511.9" y2="260.9" stroke="#000" stroke-width="2.2" />
<line x1="1512.1" y1="282.7" x2="1512.1" y2="258.5" stroke="#000" stroke-width="2.2" />
<line x1="1504.9" y1="282.7" x2="1519.3" y2="282.7" stroke="#000" stroke-width="2.2" />
<line x1="1504.9" y1="258.5" x2="1519.3" y2="258.5" stroke="#000" stroke-width="2.2" />
<line x1="1519.4" y1="279.0" x2="1519.4" y2="247.4" stroke="#000" stroke-width="2.2" />
<line x1="1512.2" y1="279.0" x2="1526.6" y2="279.0" stroke="#000" stroke-width="2.2" />
<line x1="1512.2" y1="247.4" x2="1526.6" y2="247.4" stroke="#000" stroke-width="2.2" />
<line x1="1526.8" y1="288.1" x2="1526.8" y2="261.9" stroke="#000" stroke-width="2.2" />
<line x1="1519.6" y1="288.1" x2="1534.0" y2="288.1" stroke="#000" stroke-width="2.2" />
<line x1="1519.6" y1="261.9" x2="1534.0" y2="261.9" stroke="#000" stroke-width="2.2" />
<line x1="1534.2" y1="290.1" x2="1534.2" y2="251.1" stroke="#000" stroke-width="2.2" />
<line x1="1527.0" y1="290.1" x2="1541.4" y2="290.1" stroke="#000" stroke-width="2.2" />
<line x1="1527.0" y1="251.1" x2="1541.4" y2="251.1" stroke="#000" stroke-width="2.2" />
<line x1="1541.5" y1="297.1" x2="1541.5" y2="261.8" stroke="#000" stroke-width="2.2" />
<line x1="1534.3" y1="297.1" x2="1548.7" y2="297.1" stroke="#000" stroke-width="2.2" />
<line x1="1534.3" y1="261.8" x2="1548.7" y2="261.8" stroke="#000" stroke-width="2.2" />
<line x1="1548.9" y1="289.5" x2="1548.9" y2="263.6" stroke="#000" stroke-width="2.2" />
<line x1="1541.7" y1="289.5" x2="1556.1" y2="289.5" stroke="#000" stroke-width="2.2" />
<line x1="1541.7" y1="263.6" x2="1556.1" y2="263.6" stroke="#000" stroke-width="2.2" />
<line x1="1556.2" y1="303.5" x2="1556.2" y2="270.3" stroke="#000" stroke-width="2.2" />
<line x1="1549.0" y1="303.5" x2="1563.4" y2="303.5" stroke="#000" stroke-width="2.2" />
<line x1="1549.0" y1="270.3" x2="1563.4" y2="270.3" stroke="#000" stroke-width="2.2" />
<line x1="1563.6" y1="297.2" x2="1563.6" y2="267.7" stroke="#000" stroke-width="2.2" />
<line x1="1556.4" y1="297.2" x2="1570.8" y2="297.2" stroke="#000" stroke-width="2.2" />
<line x1="1556.4" y1="267.7" x2="1570.8" y2="267.7" stroke="#000" stroke-width="2.2" />
<line x1="1571.0" y1="301.6" x2="1571.0" y2="269.2" stroke="#000" stroke-width="2.2" />
<line x1="1563.8" y1="301.6" x2="1578.2" y2="301.6" stroke="#000" stroke-width="2.2" />
<line x1="1563.8" y1="269.2" x2="1578.2" y2="269.2" stroke="#000" stroke-width="2.2" />
<line x1="1578.3" y1="308.1" x2="1578.3" y2="280.5" stroke="#000" stroke-width="2.2" />
<line x1="1571.1" y1="308.1" x2="1585.5" y2="308.1" stroke="#000" stroke-width="2.2" />
<line x1="1571.1" y1="280.5" x2="1585.5" y2="280.5" stroke="#000" stroke-width="2.2" />
<line x1="1585.7" y1="286.9" x2="1585.7" y2="260.2" stroke="#000" stroke-width="2.2" />
<line x1="1578.5" y1="286.9" x2="1592.9" y2="286.9" stroke="#000" stroke-width="2.2" />
<line x1="1578.5" y1="260.2" x2="1592.9" y2="260.2" stroke="#000" stroke-width="2.2" />
<line x1="1593.1" y1="301.8" x2="1593.1" y2="274.9" stroke="#000" stroke-width="2.2" />
<line x1="1585.9" y1="301.8" x2="1600.3" y2="301.8" stroke="#000" stroke-width="2.2" />
<line x1="1585.9" y1="274.9" x2="1600.3" y2="274.9" stroke="#000" stroke-width="2.2" />
<line x1="1600.4" y1="312.4" x2="1600.4" y2="282.0" stroke="#000" stroke-width="2.2" />
<line x1="1593.2" y1="312.4" x2="1607.6" y2="312.4" stroke="#000" stroke-width="2.2" />
<line x1="1593.2" y1="282.0" x2="1607.6" y2="282.0" stroke="#000" stroke-width="2.2" />
<line x1="1607.8" y1="331.7" x2="1607.8" y2="295.4" stroke="#000" stroke-width="2.2" />
<line x1="1600.6" y1="331.7" x2="1615.0" y2="331.7" stroke="#000" stroke-width="2.2" />
<line x1="1600.6" y1="295.4" x2="1615.0" y2="295.4" stroke="#000" stroke-width="2.2" />
<line x1="1026.0" y1="324.1" x2="1026.0" y2="297.0" stroke="#000" stroke-width="2.2" />
<line x1="1018.8" y1="324.1" x2="1033.2" y2="324.1" stroke="#000" stroke-width="2.2" />
<line x1="1018.8" y1="297.0" x2="1033.2" y2="297.0" stroke="#000" stroke-width="2.2" />
<line x1="1033.3" y1="329.5" x2="1033.3" y2="291.6" stroke="#000" stroke-width="2.2" />
<line x1="1026.1" y1="329.5" x2="1040.5" y2="329.5" stroke="#000" stroke-width="2.2" />
<line x1="1026.1" y1="291.6" x2="1040.5" y2="291.6" stroke="#000" stroke-width="2.2" />
<line x1="1040.7" y1="337.9" x2="1040.7" y2="301.0" stroke="#000" stroke-width="2.2" />
<line x1="1033.5" y1="337.9" x2="1047.9" y2="337.9" stroke="#000" stroke-width="2.2" />
<line x1="1033.5" y1="301.0" x2="1047.9" y2="301.0" stroke="#000" stroke-width="2.2" />
<line x1="1048.1" y1="328.8" x2="1048.1" y2="295.2" stroke="#000" stroke-width="2.2" />
<line x1="1040.9" y1="328.8" x2="1055.3" y2="328.8" stroke="#000" stroke-width="2.2" />
<line x1="1040.9" y1="295.2" x2="1055.3" y2="295.2" stroke="#000" stroke-width="2.2" />
<line x1="1055.4" y1="338.0" x2="1055.4" y2="309.8" stroke="#000" stroke-width="2.2" />
<line x1="1048.2" y1="338.0" x2="1062.6" y2="338.0" stroke="#000" stroke-width="2.2" />
<line x1="1048.2" y1="309.8" x2="1062.6" y2="309.8" stroke="#000" stroke-width="2.2" />
<line x1="1062.8" y1="341.0" x2="1062.8" y2="300.9" stroke="#000" stroke-width="2.2" />
<line x1="1055.6" y1="341.0" x2="1070.0" y2="341.0" stroke="#000" stroke-width="2.2" />
<line x1="1055.6" y1="300.9" x2="1070.0" y2="300.9" stroke="#000" stroke-width="2.2" />
<line x1="1070.2" y1="353.0" x2="1070.2" y2="312.6" stroke="#000" stroke-width="2.2" />
<line x1="1063.0" y1="353.0" x2="1077.4" y2="353.0" stroke="#000" stroke-width="2.2" />
<line x1="1063.0" y1="312.6" x2="1077.4" y2="312.6" stroke="#000" stroke-width="2.2" />
<line x1="1077.5" y1="342.5" x2="1077.5" y2="308.2" stroke="#000" stroke-width="2.2" />
<line x1="1070.3" y1="342.5" x2="1084.7" y2="342.5" stroke="#000" stroke-width="2.2" />
<line x1="1070.3" y1="308.2" x2="1084.7" y2="308.2" stroke="#000" stroke-width="2.2" />
<line x1="1084.9" y1="327.6" x2="1084.9" y2="293.5" stroke="#000" stroke-width="2.2" />
<line x1="1077.7" y1="327.6" x2="1092.1" y2="327.6" stroke="#000" stroke-width="2.2" />
<line x1="1077.7" y1="293.5" x2="1092.1" y2="293.5" stroke="#000" stroke-width="2.2" />
<line x1="1092.2" y1="326.3" x2="1092.2" y2="297.8" stroke="#000" stroke-width="2.2" />
<line x1="1085.0" y1="326.3" x2="1099.5" y2="326.3" stroke="#000" stroke-width="2.2" />
<line x1="1085.0" y1="297.8" x2="1099.5" y2="297.8" stroke="#000" stroke-width="2.2" />
<line x1="1099.6" y1="335.8" x2="1099.6" y2="312.0" stroke="#000" stroke-width="2.2" />
<line x1="1092.4" y1="335.8" x2="1106.8" y2="335.8" stroke="#000" stroke-width="2.2" />
<line x1="1092.4" y1="312.0" x2="1106.8" y2="312.0" stroke="#000" stroke-width="2.2" />
<line x1="1107.0" y1="335.1" x2="1107.0" y2="303.8" stroke="#000" stroke-width="2.2" />
<line x1="1099.8" y1="335.1" x2="1114.2" y2="335.1" stroke="#000" stroke-width="2.2" />
<line x1="1099.8" y1="303.8" x2="1114.2" y2="303.8" stroke="#000" stroke-width="2.2" />
<line x1="1114.3" y1="329.9" x2="1114.3" y2="294.1" stroke="#000" stroke-width="2.2" />
<line x1="1107.1" y1="329.9" x2="1121.5" y2="329.9" stroke="#000" stroke-width="2.2" />
<line x1="1107.1" y1="294.1" x2="1121.5" y2="294.1" stroke="#000" stroke-width="2.2" />
<line x1="1121.7" y1="340.9" x2="1121.7" y2="315.8" stroke="#000" stroke-width="2.2" />
<line x1="1114.5" y1="340.9" x2="1128.9" y2="340.9" stroke="#000" stroke-width="2.2" />
<line x1="1114.5" y1="315.8" x2="1128.9" y2="315.8" stroke="#000" stroke-width="2.2" />
<line x1="1129.1" y1="338.0" x2="1129.1" y2="297.9" stroke="#000" stroke-width="2.2" />
<line x1="1121.9" y1="338.0" x2="1136.3" y2="338.0" stroke="#000" stroke-width="2.2" />
<line x1="1121.9" y1="297.9" x2="1136.3" y2="297.9" stroke="#000" stroke-width="2.2" />
<line x1="1136.4" y1="338.1" x2="1136.4" y2="309.6" stroke="#000" stroke-width="2.2" />
<line x1="1129.2" y1="338.1" x2="1143.6" y2="338.1" stroke="#000" stroke-width="2.2" />
<line x1="1129.2" y1="309.6" x2="1143.6" y2="309.6" stroke="#000" stroke-width="2.2" />
<line x1="1143.8" y1="332.2" x2="1143.8" y2="303.7" stroke="#000" stroke-width="2.2" />
<line x1="1136.6" y1="332.2" x2="1151.0" y2="332.2" stroke="#000" stroke-width="2.2" />
<line x1="1136.6" y1="303.7" x2="1151.0" y2="303.7" stroke="#000" stroke-width="2.2" />
<line x1="1151.2" y1="319.9" x2="1151.2" y2="295.3" stroke="#000" stroke-width="2.2" />
<line x1="1144.0" y1="319.9" x2="1158.4" y2="319.9" stroke="#000" stroke-width="2.2" />
<line x1="1144.0" y1="295.3" x2="1158.4" y2="295.3" stroke="#000" stroke-width="2.2" />
<line x1="1158.5" y1="328.3" x2="1158.5" y2="283.9" stroke="#000" stroke-width="2.2" />
<line x1="1151.3" y1="328.3" x2="1165.7" y2="328.3" stroke="#000" stroke-width="2.2" />
<line x1="1151.3" y1="283.9" x2="1165.7" y2="283.9" stroke="#000" stroke-width="2.2" />
<line x1="1165.9" y1="347.8" x2="1165.9" y2="308.8" stroke="#000" stroke-width="2.2" />
<line x1="1158.7" y1="347.8" x2="1173.1" y2="347.8" stroke="#000" stroke-width="2.2" />
<line x1="1158.7" y1="308.8" x2="1173.1" y2="308.8" stroke="#000" stroke-width="2.2" />
<line x1="1173.3" y1="356.6" x2="1173.3" y2="314.8" stroke="#000" stroke-width="2.2" />
<line x1="1166.1" y1="356.6" x2="1180.5" y2="356.6" stroke="#000" stroke-width="2.2" />
<line x1="1166.1" y1="314.8" x2="1180.5" y2="314.8" stroke="#000" stroke-width="2.2" />
<line x1="1180.6" y1="352.5" x2="1180.6" y2="316.0" stroke="#000" stroke-width="2.2" />
<line x1="1173.4" y1="352.5" x2="1187.8" y2="352.5" stroke="#000" stroke-width="2.2" />
<line x1="1173.4" y1="316.0" x2="1187.8" y2="316.0" stroke="#000" stroke-width="2.2" />
<line x1="1188.0" y1="319.8" x2="1188.0" y2="295.4" stroke="#000" stroke-width="2.2" />
<line x1="1180.8" y1="319.8" x2="1195.2" y2="319.8" stroke="#000" stroke-width="2.2" />
<line x1="1180.8" y1="295.4" x2="1195.2" y2="295.4" stroke="#000" stroke-width="2.2" />
<line x1="1195.4" y1="306.6" x2="1195.4" y2="276.1" stroke="#000" stroke-width="2.2" />
<line x1="1188.2" y1="306.6" x2="1202.6" y2="306.6" stroke="#000" stroke-width="2.2" />
<line x1="1188.2" y1="276.1" x2="1202.6" y2="276.1" stroke="#000" stroke-width="2.2" />
<line x1="1202.7" y1="298.0" x2="1202.7" y2="264.0" stroke="#000" stroke-width="2.2" />
<line x1="1195.5" y1="298.0" x2="1209.9" y2="298.0" stroke="#000" stroke-width="2.2" />
<line x1="1195.5" y1="264.0" x2="1209.9" y2="264.0" stroke="#000" stroke-width="2.2" />
<line x1="1210.1" y1="286.6" x2="1210.1" y2="260.5" stroke="#000" stroke-width="2.2" />
<line x1="1202.9" y1="286.6" x2="1217.3" y2="286.6" stroke="#000" stroke-width="2.2" />
<line x1="1202.9" y1="260.5" x2="1217.3" y2="260.5" stroke="#000" stroke-width="2.2" />
<line x1="1217.5" y1="293.8" x2="1217.5" y2="250.4" stroke="#000" stroke-width="2.2" />
<line x1="1210.3" y1="293.8" x2="1224.7" y2="293.8" stroke="#000" stroke-width="2.2" />
<line x1="1210.3" y1="250.4" x2="1224.7" y2="250.4" stroke="#000" stroke-width="2.2" />
<line x1="1224.8" y1="264.1" x2="1224.8" y2="232.7" stroke="#000" stroke-width="2.2" />
<line x1="1217.6" y1="264.1" x2="1232.0" y2="264.1" stroke="#000" stroke-width="2.2" />
<line x1="1217.6" y1="232.7" x2="1232.0" y2="232.7" stroke="#000" stroke-width="2.2" />
<line x1="1232.2" y1="266.3" x2="1232.2" y2="239.4" stroke="#000" stroke-width="2.2" />
<line x1="1225.0" y1="266.3" x2="1239.4" y2="266.3" stroke="#000" stroke-width="2.2" />
<line x1="1225.0" y1="239.4" x2="1239.4" y2="239.4" stroke="#000" stroke-width="2.2" />
<line x1="1239.5" y1="276.1" x2="1239.5" y2="235.5" stroke="#000" stroke-width="2.2" />
<line x1="1232.3" y1="276.1" x2="1246.8" y2="276.1" stroke="#000" stroke-width="2.2" />
<line x1="1232.3" y1="235.5" x2="1246.8" y2="235.5" stroke="#000" stroke-width="2.2" />
<line x1="1246.9" y1="261.5" x2="1246.9" y2="235.3" stroke="#000" stroke-width="2.2" />
<line x1="1239.7" y1="261.5" x2="1254.1" y2="261.5" stroke="#000" stroke-width="2.2" />
<line x1="1239.7" y1="235.3" x2="1254.1" y2="235.3" stroke="#000" stroke-width="2.2" />
<line x1="1254.3" y1="292.1" x2="1254.3" y2="249.1" stroke="#000" stroke-width="2.2" />
<line x1="1247.1" y1="292.1" x2="1261.5" y2="292.1" stroke="#000" stroke-width="2.2" />
<line x1="1247.1" y1="249.1" x2="1261.5" y2="249.1" stroke="#000" stroke-width="2.2" />
<line x1="1261.6" y1="263.5" x2="1261.6" y2="230.4" stroke="#000" stroke-width="2.2" />
<line x1="1254.4" y1="263.5" x2="1268.8" y2="263.5" stroke="#000" stroke-width="2.2" />
<line x1="1254.4" y1="230.4" x2="1268.8" y2="230.4" stroke="#000" stroke-width="2.2" />
<line x1="1269.0" y1="274.8" x2="1269.0" y2="239.7" stroke="#000" stroke-width="2.2" />
<line x1="1261.8" y1="274.8" x2="1276.2" y2="274.8" stroke="#000" stroke-width="2.2" />
<line x1="1261.8" y1="239.7" x2="1276.2" y2="239.7" stroke="#000" stroke-width="2.2" />
<line x1="1276.4" y1="278.6" x2="1276.4" y2="247.8" stroke="#000" stroke-width="2.2" />
<line x1="1269.2" y1="278.6" x2="1283.6" y2="278.6" stroke="#000" stroke-width="2.2" />
<line x1="1269.2" y1="247.8" x2="1283.6" y2="247.8" stroke="#000" stroke-width="2.2" />
<line x1="1283.7" y1="269.7" x2="1283.7" y2="236.0" stroke="#000" stroke-width="2.2" />
<line x1="1276.5" y1="269.7" x2="1290.9" y2="269.7" stroke="#000" stroke-width="2.2" />
<line x1="1276.5" y1="236.0" x2="1290.9" y2="236.0" stroke="#000" stroke-width="2.2" />
<line x1="1291.1" y1="275.5" x2="1291.1" y2="247.9" stroke="#000" stroke-width="2.2" />
<line x1="1283.9" y1="275.5" x2="1298.3" y2="275.5" stroke="#000" stroke-width="2.2" />
<line x1="1283.9" y1="247.9" x2="1298.3" y2="247.9" stroke="#000" stroke-width="2.2" />
<line x1="1298.5" y1="281.3" x2="1298.5" y2="256.9" stroke="#000" stroke-width="2.2" />
<line x1="1291.3" y1="281.3" x2="1305.7" y2="281.3" stroke="#000" stroke-width="2.2" />
<line x1="1291.3" y1="256.9" x2="1305.7" y2="256.9" stroke="#000" stroke-width="2.2" />
<line x1="1305.8" y1="266.3" x2="1305.8" y2="224.6" stroke="#000" stroke-width="2.2" />
<line x1="1298.6" y1="266.3" x2="1313.0" y2="266.3" stroke="#000" stroke-width="2.2" />
<line x1="1298.6" y1="224.6" x2="1313.0" y2="224.6" stroke="#000" stroke-width="2.2" />
<line x1="1313.2" y1="286.4" x2="1313.2" y2="257.8" stroke="#000" stroke-width="2.2" />
<line x1="1306.0" y1="286.4" x2="1320.4" y2="286.4" stroke="#000" stroke-width="2.2" />
<line x1="1306.0" y1="257.8" x2="1320.4" y2="257.8" stroke="#000" stroke-width="2.2" />
<line x1="1320.6" y1="283.1" x2="1320.6" y2="243.3" stroke="#000" stroke-width="2.2" />
<line x1="1313.4" y1="283.1" x2="1327.8" y2="283.1" stroke="#000" stroke-width="2.2" />
<line x1="1313.4" y1="243.3" x2="1327.8" y2="243.3" stroke="#000" stroke-width="2.2" />
<line x1="1327.9" y1="266.8" x2="1327.9" y2="238.8" stroke="#000" stroke-width="2.2" />
<line x1="1320.7" y1="266.8" x2="1335.1" y2="266.8" stroke="#000" stroke-width="2.2" />
<line x1="1320.7" y1="238.8" x2="1335.1" y2="238.8" stroke="#000" stroke-width="2.2" />
<line x1="1335.3" y1="285.1" x2="1335.3" y2="241.3" stroke="#000" stroke-width="2.2" />
<line x1="1328.1" y1="285.1" x2="1342.5" y2="285.1" stroke="#000" stroke-width="2.2" />
<line x1="1328.1" y1="241.3" x2="1342.5" y2="241.3" stroke="#000" stroke-width="2.2" />
<line x1="1342.7" y1="284.3" x2="1342.7" y2="242.1" stroke="#000" stroke-width="2.2" />
<line x1="1335.5" y1="284.3" x2="1349.9" y2="284.3" stroke="#000" stroke-width="2.2" />
<line x1="1335.5" y1="242.1" x2="1349.9" y2="242.1" stroke="#000" stroke-width="2.2" />
<line x1="1350.0" y1="276.9" x2="1350.0" y2="237.6" stroke="#000" stroke-width="2.2" />
<line x1="1342.8" y1="276.9" x2="1357.2" y2="276.9" stroke="#000" stroke-width="2.2" />
<line x1="1342.8" y1="237.6" x2="1357.2" y2="237.6" stroke="#000" stroke-width="2.2" />
<line x1="1357.4" y1="272.6" x2="1357.4" y2="233.1" stroke="#000" stroke-width="2.2" />
<line x1="1350.2" y1="272.6" x2="1364.6" y2="272.6" stroke="#000" stroke-width="2.2" />
<line x1="1350.2" y1="233.1" x2="1364.6" y2="233.1" stroke="#000" stroke-width="2.2" />
<line x1="1364.8" y1="281.1" x2="1364.8" y2="245.3" stroke="#000" stroke-width="2.2" />
<line x1="1357.6" y1="281.1" x2="1372.0" y2="281.1" stroke="#000" stroke-width="2.2" />
<line x1="1357.6" y1="245.3" x2="1372.0" y2="245.3" stroke="#000" stroke-width="2.2" />
<line x1="1372.1" y1="281.1" x2="1372.1" y2="242.3" stroke="#000" stroke-width="2.2" />
<line x1="1364.9" y1="281.1" x2="1379.3" y2="281.1" stroke="#000" stroke-width="2.2" />
<line x1="1364.9" y1="242.3" x2="1379.3" y2="242.3" stroke="#000" stroke-width="2.2" />
<line x1="1379.5" y1="264.5" x2="1379.5" y2="238.3" stroke="#000" stroke-width="2.2" />
<line x1="1372.3" y1="264.5" x2="1386.7" y2="264.5" stroke="#000" stroke-width="2.2" />
<line x1="1372.3" y1="238.3" x2="1386.7" y2="238.3" stroke="#000" stroke-width="2.2" />
<line x1="1386.8" y1="278.5" x2="1386.8" y2="244.9" stroke="#000" stroke-width="2.2" />
<line x1="1379.6" y1="278.5" x2="1394.0" y2="278.5" stroke="#000" stroke-width="2.2" />
<line x1="1379.6" y1="244.9" x2="1394.0" y2="244.9" stroke="#000" stroke-width="2.2" />
<line x1="1394.2" y1="294.0" x2="1394.2" y2="253.2" stroke="#000" stroke-width="2.2" />
<line x1="1387.0" y1="294.0" x2="1401.4" y2="294.0" stroke="#000" stroke-width="2.2" />
<line x1="1387.0" y1="253.2" x2="1401.4" y2="253.2" stroke="#000" stroke-width="2.2" />
<line x1="1401.6" y1="269.7" x2="1401.6" y2="241.9" stroke="#000" stroke-width="2.2" />
<line x1="1394.4" y1="269.7" x2="1408.8" y2="269.7" stroke="#000" stroke-width="2.2" />
<line x1="1394.4" y1="241.9" x2="1408.8" y2="241.9" stroke="#000" stroke-width="2.2" />
<line x1="1408.9" y1="266.8" x2="1408.9" y2="224.0" stroke="#000" stroke-width="2.2" />
<line x1="1401.7" y1="266.8" x2="1416.1" y2="266.8" stroke="#000" stroke-width="2.2" />
<line x1="1401.7" y1="224.0" x2="1416.1" y2="224.0" stroke="#000" stroke-width="2.2" />
<line x1="1416.3" y1="268.0" x2="1416.3" y2="225.9" stroke="#000" stroke-width="2.2" />
<line x1="1409.1" y1="268.0" x2="1423.5" y2="268.0" stroke="#000" stroke-width="2.2" />
<line x1="1409.1" y1="225.9" x2="1423.5" y2="225.9" stroke="#000" stroke-width="2.2" />
<line x1="1423.7" y1="274.8" x2="1423.7" y2="242.7" stroke="#000" stroke-width="2.2" />
<line x1="1416.5" y1="274.8" x2="1430.9" y2="274.8" stroke="#000" stroke-width="2.2" />
<line x1="1416.5" y1="242.7" x2="1430.9" y2="242.7" stroke="#000" stroke-width="2.2" />
<line x1="1431.0" y1="283.3" x2="1431.0" y2="252.0" stroke="#000" stroke-width="2.2" />
<line x1="1423.8" y1="283.3" x2="1438.2" y2="283.3" stroke="#000" stroke-width="2.2" />
<line x1="1423.8" y1="252.0" x2="1438.2" y2="252.0" stroke="#000" stroke-width="2.2" />
<line x1="1438.4" y1="267.9" x2="1438.4" y2="234.8" stroke="#000" stroke-width="2.2" />
<line x1="1431.2" y1="267.9" x2="1445.6" y2="267.9" stroke="#000" stroke-width="2.2" />
<line x1="1431.2" y1="234.8" x2="1445.6" y2="234.8" stroke="#000" stroke-width="2.2" />
<line x1="1445.8" y1="282.0" x2="1445.8" y2="250.3" stroke="#000" stroke-width="2.2" />
<line x1="1438.6" y1="282.0" x2="1453.0" y2="282.0" stroke="#000" stroke-width="2.2" />
<line x1="1438.6" y1="250.3" x2="1453.0" y2="250.3" stroke="#000" stroke-width="2.2" />
<line x1="1453.1" y1="275.0" x2="1453.1" y2="230.7" stroke="#000" stroke-width="2.2" />
<line x1="1445.9" y1="275.0" x2="1460.3" y2="275.0" stroke="#000" stroke-width="2.2" />
<line x1="1445.9" y1="230.7" x2="1460.3" y2="230.7" stroke="#000" stroke-width="2.2" />
<line x1="1460.5" y1="283.5" x2="1460.5" y2="251.8" stroke="#000" stroke-width="2.2" />
<line x1="1453.3" y1="283.5" x2="1467.7" y2="283.5" stroke="#000" stroke-width="2.2" />
<line x1="1453.3" y1="251.8" x2="1467.7" y2="251.8" stroke="#000" stroke-width="2.2" />
<line x1="1467.9" y1="276.8" x2="1467.9" y2="252.6" stroke="#000" stroke-width="2.2" />
<line x1="1460.7" y1="276.8" x2="1475.1" y2="276.8" stroke="#000" stroke-width="2.2" />
<line x1="1460.7" y1="252.6" x2="1475.1" y2="252.6" stroke="#000" stroke-width="2.2" />
<line x1="1475.2" y1="281.9" x2="1475.2" y2="256.3" stroke="#000" stroke-width="2.2" />
<line x1="1468.0" y1="281.9" x2="1482.4" y2="281.9" stroke="#000" stroke-width="2.2" />
<line x1="1468.0" y1="256.3" x2="1482.4" y2="256.3" stroke="#000" stroke-width="2.2" />
<line x1="1482.6" y1="278.0" x2="1482.6" y2="239.5" stroke="#000" stroke-width="2.2" />
<line x1="1475.4" y1="278.0" x2="1489.8" y2="278.0" stroke="#000" stroke-width="2.2" />
<line x1="1475.4" y1="239.5" x2="1489.8" y2="239.5" stroke="#000" stroke-width="2.2" />
<line x1="1490.0" y1="276.4" x2="1490.0" y2="232.2" stroke="#000" stroke-width="2.2" />
<line x1="1482.8" y1="276.4" x2="1497.2" y2="276.4" stroke="#000" stroke-width="2.2" />
<line x1="1482.8" y1="232.2" x2="1497.2" y2="232.2" stroke="#000" stroke-width="2.2" />
<line x1="1497.3" y1="277.2" x2="1497.3" y2="243.3" stroke="#000" stroke-width="2.2" />
<line x1="1490.1" y1="277.2" x2="1504.5" y2="277.2" stroke="#000" stroke-width="2.2" />
<line x1="1490.1" y1="243.3" x2="1504.5" y2="243.3" stroke="#000" stroke-width="2.2" />
<line x1="1504.7" y1="257.9" x2="1504.7" y2="224.1" stroke="#000" stroke-width="2.2" />
<line x1="1497.5" y1="257.9" x2="1511.9" y2="257.9" stroke="#000" stroke-width="2.2" />
<line x1="1497.5" y1="224.1" x2="1511.9" y2="224.1" stroke="#000" stroke-width="2.2" />
<line x1="1512.1" y1="285.2" x2="1512.1" y2="250.1" stroke="#000" stroke-width="2.2" />
<line x1="1504.9" y1="285.2" x2="1519.3" y2="285.2" stroke="#000" stroke-width="2.2" />
<line x1="1504.9" y1="250.1" x2="1519.3" y2="250.1" stroke="#000" stroke-width="2.2" />
<line x1="1519.4" y1="269.5" x2="1519.4" y2="230.3" stroke="#000" stroke-width="2.2" />
<line x1="1512.2" y1="269.5" x2="1526.6" y2="269.5" stroke="#000" stroke-width="2.2" />
<line x1="1512.2" y1="230.3" x2="1526.6" y2="230.3" stroke="#000" stroke-width="2.2" />
<line x1="1526.8" y1="267.0" x2="1526.8" y2="238.7" stroke="#000" stroke-width="2.2" />
<line x1="1519.6" y1="267.0" x2="1534.0" y2="267.0" stroke="#000" stroke-width="2.2" />
<line x1="1519.6" y1="238.7" x2="1534.0" y2="238.7" stroke="#000" stroke-width="2.2" />
<line x1="1534.2" y1="291.7" x2="1534.2" y2="255.4" stroke="#000" stroke-width="2.2" />
<line x1="1527.0" y1="291.7" x2="1541.4" y2="291.7" stroke="#000" stroke-width="2.2" />
<line x1="1527.0" y1="255.4" x2="1541.4" y2="255.4" stroke="#000" stroke-width="2.2" />
<line x1="1541.5" y1="276.4" x2="1541.5" y2="241.2" stroke="#000" stroke-width="2.2" />
<line x1="1534.3" y1="276.4" x2="1548.7" y2="276.4" stroke="#000" stroke-width="2.2" />
<line x1="1534.3" y1="241.2" x2="1548.7" y2="241.2" stroke="#000" stroke-width="2.2" />
<line x1="1548.9" y1="290.4" x2="1548.9" y2="253.8" stroke="#000" stroke-width="2.2" />
<line x1="1541.7" y1="290.4" x2="1556.1" y2="290.4" stroke="#000" stroke-width="2.2" />
<line x1="1541.7" y1="253.8" x2="1556.1" y2="253.8" stroke="#000" stroke-width="2.2" />
<line x1="1556.2" y1="269.5" x2="1556.2" y2="242.1" stroke="#000" stroke-width="2.2" />
<line x1="1549.0" y1="269.5" x2="1563.4" y2="269.5" stroke="#000" stroke-width="2.2" />
<line x1="1549.0" y1="242.1" x2="1563.4" y2="242.1" stroke="#000" stroke-width="2.2" />
<line x1="1563.6" y1="287.2" x2="1563.6" y2="260.0" stroke="#000" stroke-width="2.2" />
<line x1="1556.4" y1="287.2" x2="1570.8" y2="287.2" stroke="#000" stroke-width="2.2" />
<line x1="1556.4" y1="260.0" x2="1570.8" y2="260.0" stroke="#000" stroke-width="2.2" />
<line x1="1571.0" y1="265.3" x2="1571.0" y2="234.4" stroke="#000" stroke-width="2.2" />
<line x1="1563.8" y1="265.3" x2="1578.2" y2="265.3" stroke="#000" stroke-width="2.2" />
<line x1="1563.8" y1="234.4" x2="1578.2" y2="234.4" stroke="#000" stroke-width="2.2" />
<line x1="1578.3" y1="274.3" x2="1578.3" y2="231.4" stroke="#000" stroke-width="2.2" />
<line x1="1571.1" y1="274.3" x2="1585.5" y2="274.3" stroke="#000" stroke-width="2.2" />
<line x1="1571.1" y1="231.4" x2="1585.5" y2="231.4" stroke="#000" stroke-width="2.2" />
<line x1="1585.7" y1="277.2" x2="1585.7" y2="246.3" stroke="#000" stroke-width="2.2" />
<line x1="1578.5" y1="277.2" x2="1592.9" y2="277.2" stroke="#000" stroke-width="2.2" />
<line x1="1578.5" y1="246.3" x2="1592.9" y2="246.3" stroke="#000" stroke-width="2.2" />
<line x1="1593.1" y1="279.7" x2="1593.1" y2="243.7" stroke="#000" stroke-width="2.2" />
<line x1="1585.9" y1="279.7" x2="1600.3" y2="279.7" stroke="#000" stroke-width="2.2" />
<line x1="1585.9" y1="243.7" x2="1600.3" y2="243.7" stroke="#000" stroke-width="2.2" />
<line x1="1600.4" y1="293.0" x2="1600.4" y2="263.0" stroke="#000" stroke-width="2.2" />
<line x1="1593.2" y1="293.0" x2="1607.6" y2="293.0" stroke="#000" stroke-width="2.2" />
<line x1="1593.2" y1="263.0" x2="1607.6" y2="263.0" stroke="#000" stroke-width="2.2" />
<line x1="1607.8" y1="279.1" x2="1607.8" y2="253.3" stroke="#000" stroke-width="2.2" />
<line x1="1600.6" y1="279.1" x2="1615.0" y2="279.1" stroke="#000" stroke-width="2.2" />
<line x1="1600.6" y1="253.3" x2="1615.0" y2="253.3" stroke="#000" stroke-width="2.2" />
<path d="M1026.0,327.2 L1031.6,337.2 L1020.4,337.2 Z" fill="#fff" stroke="#000" stroke-width="2" stroke-linejoin="round"/>
<path d="M1033.3,321.2 L1038.9,331.2 L1027.7,331.2 Z" fill="#fff" stroke="#000" stroke-width="2" stroke-linejoin="round"/>
<path d="M1040.7,316.8 L1046.3,326.8 L1035.1,326.8 Z" fill="#fff" stroke="#000" stroke-width="2" stroke-linejoin="round"/>
<path d="M1048.1,322.7 L1053.7,332.7 L1042.5,332.7 Z" fill="#fff" stroke="#000" stroke-width="2" stroke-linejoin="round"/>
<path d="M1055.4,312.4 L1061.0,322.4 L1049.8,322.4 Z" fill="#fff" stroke="#000" stroke-width="2" stroke-linejoin="round"/>
<path d="M1062.8,319.8 L1068.4,329.8 L1057.2,329.8 Z" fill="#fff" stroke="#000" stroke-width="2" stroke-linejoin="round"/>
<path d="M1070.2,324.2 L1075.8,334.2 L1064.6,334.2 Z" fill="#fff" stroke="#000" stroke-width="2" stroke-linejoin="round"/>
<path d="M1077.5,309.4 L1083.1,319.4 L1071.9,319.4 Z" fill="#fff" stroke="#000" stroke-width="2" stroke-linejoin="round"/>
<path d="M1084.9,315.3 L1090.5,325.3 L1079.3,325.3 Z" fill="#fff" stroke="#000" stroke-width="2" stroke-linejoin="round"/>
<path d="M1092.2,325.7 L1097.8,335.7 L1086.7,335.7 Z" fill="#fff" stroke="#000" stroke-width="2" stroke-linejoin="round"/>
<path d="M1099.6,318.3 L1105.2,328.3 L1094.0,328.3 Z" fill="#fff" stroke="#000" stroke-width="2" stroke-linejoin="round"/>
<path d="M1107.0,310.9 L1112.6,320.9 L1101.4,320.9 Z" fill="#fff" stroke="#000" stroke-width="2" stroke-linejoin="round"/>
<path d="M1114.3,321.2 L1119.9,331.2 L1108.7,331.2 Z" fill="#fff" stroke="#000" stroke-width="2" stroke-linejoin="round"/>
<path d="M1121.7,313.8 L1127.3,323.8 L1116.1,323.8 Z" fill="#fff" stroke="#000" stroke-width="2" stroke-linejoin="round"/>
<path d="M1129.1,322.7 L1134.7,332.7 L1123.5,332.7 Z" fill="#fff" stroke="#000" stroke-width="2" stroke-linejoin="round"/>
<path d="M1136.4,305.0 L1142.0,315.0 L1130.8,315.0 Z" fill="#fff" stroke="#000" stroke-width="2" stroke-linejoin="round"/>
<path d="M1143.8,316.8 L1149.4,326.8 L1138.2,326.8 Z" fill="#fff" stroke="#000" stroke-width="2" stroke-linejoin="round"/>
<path d="M1151.2,327.2 L1156.8,337.2 L1145.6,337.2 Z" fill="#fff" stroke="#000" stroke-width="2" stroke-linejoin="round"/>
<path d="M1158.5,318.3 L1164.1,328.3 L1152.9,328.3 Z" fill="#fff" stroke="#000" stroke-width="2" stroke-linejoin="round"/>
<path d="M1165.9,313.8 L1171.5,323.8 L1160.3,323.8 Z" fill="#fff" stroke="#000" stroke-width="2" stroke-linejoin="round"/>
<path d="M1173.3,324.2 L1178.9,334.2 L1167.7,334.2 Z" fill="#fff" stroke="#000" stroke-width="2" stroke-linejoin="round"/>
<path d="M1180.6,312.4 L1186.2,322.4 L1175.0,322.4 Z" fill="#fff" stroke="#000" stroke-width="2" stroke-linejoin="round"/>
<path d="M1188.0,315.3 L1193.6,325.3 L1182.4,325.3 Z" fill="#fff" stroke="#000" stroke-width="2" stroke-linejoin="round"/>
<path d="M1195.4,309.4 L1201.0,319.4 L1189.8,319.4 Z" fill="#fff" stroke="#000" stroke-width="2" stroke-linejoin="round"/>
<path d="M1202.7,306.4 L1208.3,316.4 L1197.1,316.4 Z" fill="#fff" stroke="#000" stroke-width="2" stroke-linejoin="round"/>
<path d="M1210.1,307.9 L1215.7,317.9 L1204.5,317.9 Z" fill="#fff" stroke="#000" stroke-width="2" stroke-linejoin="round"/>
<path d="M1217.5,309.4 L1223.1,319.4 L1211.9,319.4 Z" fill="#fff" stroke="#000" stroke-width="2" stroke-linejoin="round"/>
<path d="M1224.8,307.9 L1230.4,317.9 L1219.2,317.9 Z" fill="#fff" stroke="#000" stroke-width="2" stroke-linejoin="round"/>
<path d="M1232.2,316.8 L1237.8,326.8 L1226.6,326.8 Z" fill="#fff" stroke="#000" stroke-width="2" stroke-linejoin="round"/>
<path d="M1239.5,319.8 L1245.1,329.8 L1234.0,329.8 Z" fill="#fff" stroke="#000" stroke-width="2" stroke-linejoin="round"/>
<path d="M1246.9,312.4 L1252.5,322.4 L1241.3,322.4 Z" fill="#fff" stroke="#000" stroke-width="2" stroke-linejoin="round"/>
<path d="M1254.3,330.1 L1259.9,340.1 L1248.7,340.1 Z" fill="#fff" stroke="#000" stroke-width="2" stroke-linejoin="round"/>
<path d="M1261.6,330.1 L1267.2,340.1 L1256.0,340.1 Z" fill="#fff" stroke="#000" stroke-width="2" stroke-linejoin="round"/>
<path d="M1269.0,312.4 L1274.6,322.4 L1263.4,322.4 Z" fill="#fff" stroke="#000" stroke-width="2" stroke-linejoin="round"/>
<path d="M1276.4,321.2 L1282.0,331.2 L1270.8,331.2 Z" fill="#fff" stroke="#000" stroke-width="2" stroke-linejoin="round"/>
<path d="M1283.7,307.9 L1289.3,317.9 L1278.1,317.9 Z" fill="#fff" stroke="#000" stroke-width="2" stroke-linejoin="round"/>
<path d="M1291.1,313.8 L1296.7,323.8 L1285.5,323.8 Z" fill="#fff" stroke="#000" stroke-width="2" stroke-linejoin="round"/>
<path d="M1298.5,310.9 L1304.1,320.9 L1292.9,320.9 Z" fill="#fff" stroke="#000" stroke-width="2" stroke-linejoin="round"/>
<path d="M1305.8,330.1 L1311.4,340.1 L1300.2,340.1 Z" fill="#fff" stroke="#000" stroke-width="2" stroke-linejoin="round"/>
<path d="M1313.2,309.4 L1318.8,319.4 L1307.6,319.4 Z" fill="#fff" stroke="#000" stroke-width="2" stroke-linejoin="round"/>
<path d="M1320.6,316.8 L1326.2,326.8 L1315.0,326.8 Z" fill="#fff" stroke="#000" stroke-width="2" stroke-linejoin="round"/>
<path d="M1327.9,306.4 L1333.5,316.4 L1322.3,316.4 Z" fill="#fff" stroke="#000" stroke-width="2" stroke-linejoin="round"/>
<path d="M1335.3,305.0 L1340.9,315.0 L1329.7,315.0 Z" fill="#fff" stroke="#000" stroke-width="2" stroke-linejoin="round"/>
<path d="M1342.7,321.2 L1348.3,331.2 L1337.1,331.2 Z" fill="#fff" stroke="#000" stroke-width="2" stroke-linejoin="round"/>
<path d="M1350.0,330.1 L1355.6,340.1 L1344.4,340.1 Z" fill="#fff" stroke="#000" stroke-width="2" stroke-linejoin="round"/>
<path d="M1357.4,318.3 L1363.0,328.3 L1351.8,328.3 Z" fill="#fff" stroke="#000" stroke-width="2" stroke-linejoin="round"/>
<path d="M1364.8,307.9 L1370.4,317.9 L1359.2,317.9 Z" fill="#fff" stroke="#000" stroke-width="2" stroke-linejoin="round"/>
<path d="M1372.1,310.9 L1377.7,320.9 L1366.5,320.9 Z" fill="#fff" stroke="#000" stroke-width="2" stroke-linejoin="round"/>
<path d="M1379.5,328.6 L1385.1,338.6 L1373.9,338.6 Z" fill="#fff" stroke="#000" stroke-width="2" stroke-linejoin="round"/>
<path d="M1386.8,306.4 L1392.4,316.4 L1381.2,316.4 Z" fill="#fff" stroke="#000" stroke-width="2" stroke-linejoin="round"/>
<path d="M1394.2,305.0 L1399.8,315.0 L1388.6,315.0 Z" fill="#fff" stroke="#000" stroke-width="2" stroke-linejoin="round"/>
<path d="M1401.6,325.7 L1407.2,335.7 L1396.0,335.7 Z" fill="#fff" stroke="#000" stroke-width="2" stroke-linejoin="round"/>
<path d="M1408.9,331.6 L1414.5,341.6 L1403.3,341.6 Z" fill="#fff" stroke="#000" stroke-width="2" stroke-linejoin="round"/>
<path d="M1416.3,307.9 L1421.9,317.9 L1410.7,317.9 Z" fill="#fff" stroke="#000" stroke-width="2" stroke-linejoin="round"/>
<path d="M1423.7,313.8 L1429.3,323.8 L1418.1,323.8 Z" fill="#fff" stroke="#000" stroke-width="2" stroke-linejoin="round"/>
<path d="M1431.0,302.0 L1436.6,312.0 L1425.4,312.0 Z" fill="#fff" stroke="#000" stroke-width="2" stroke-linejoin="round"/>
<path d="M1438.4,318.3 L1444.0,328.3 L1432.8,328.3 Z" fill="#fff" stroke="#000" stroke-width="2" stroke-linejoin="round"/>
<path d="M1445.8,302.0 L1451.4,312.0 L1440.2,312.0 Z" fill="#fff" stroke="#000" stroke-width="2" stroke-linejoin="round"/>
<path d="M1453.1,324.2 L1458.7,334.2 L1447.5,334.2 Z" fill="#fff" stroke="#000" stroke-width="2" stroke-linejoin="round"/>
<path d="M1460.5,324.2 L1466.1,334.2 L1454.9,334.2 Z" fill="#fff" stroke="#000" stroke-width="2" stroke-linejoin="round"/>
<path d="M1467.9,303.5 L1473.5,313.5 L1462.3,313.5 Z" fill="#fff" stroke="#000" stroke-width="2" stroke-linejoin="round"/>
<path d="M1475.2,327.2 L1480.8,337.2 L1469.6,337.2 Z" fill="#fff" stroke="#000" stroke-width="2" stroke-linejoin="round"/>
<path d="M1482.6,327.2 L1488.2,337.2 L1477.0,337.2 Z" fill="#fff" stroke="#000" stroke-width="2" stroke-linejoin="round"/>
<path d="M1490.0,328.6 L1495.6,338.6 L1484.4,338.6 Z" fill="#fff" stroke="#000" stroke-width="2" stroke-linejoin="round"/>
<path d="M1497.3,325.7 L1502.9,335.7 L1491.7,335.7 Z" fill="#fff" stroke="#000" stroke-width="2" stroke-linejoin="round"/>
<path d="M1504.7,307.9 L1510.3,317.9 L1499.1,317.9 Z" fill="#fff" stroke="#000" stroke-width="2" stroke-linejoin="round"/>
<path d="M1512.1,319.8 L1517.7,329.8 L1506.5,329.8 Z" fill="#fff" stroke="#000" stroke-width="2" stroke-linejoin="round"/>
<path d="M1519.4,309.4 L1525.0,319.4 L1513.8,319.4 Z" fill="#fff" stroke="#000" stroke-width="2" stroke-linejoin="round"/>
<path d="M1526.8,316.8 L1532.4,326.8 L1521.2,326.8 Z" fill="#fff" stroke="#000" stroke-width="2" stroke-linejoin="round"/>
<path d="M1534.2,324.2 L1539.8,334.2 L1528.6,334.2 Z" fill="#fff" stroke="#000" stroke-width="2" stroke-linejoin="round"/>
<path d="M1541.5,325.7 L1547.1,335.7 L1535.9,335.7 Z" fill="#fff" stroke="#000" stroke-width="2" stroke-linejoin="round"/>
<path d="M1548.9,316.8 L1554.5,326.8 L1543.3,326.8 Z" fill="#fff" stroke="#000" stroke-width="2" stroke-linejoin="round"/>
<path d="M1556.2,309.4 L1561.8,319.4 L1550.6,319.4 Z" fill="#fff" stroke="#000" stroke-width="2" stroke-linejoin="round"/>
<path d="M1563.6,306.4 L1569.2,316.4 L1558.0,316.4 Z" fill="#fff" stroke="#000" stroke-width="2" stroke-linejoin="round"/>
<path d="M1571.0,309.4 L1576.6,319.4 L1565.4,319.4 Z" fill="#fff" stroke="#000" stroke-width="2" stroke-linejoin="round"/>
<path d="M1578.3,313.8 L1583.9,323.8 L1572.7,323.8 Z" fill="#fff" stroke="#000" stroke-width="2" stroke-linejoin="round"/>
<path d="M1585.7,318.3 L1591.3,328.3 L1580.1,328.3 Z" fill="#fff" stroke="#000" stroke-width="2" stroke-linejoin="round"/>
<path d="M1593.1,321.2 L1598.7,331.2 L1587.5,331.2 Z" fill="#fff" stroke="#000" stroke-width="2" stroke-linejoin="round"/>
<path d="M1600.4,305.0 L1606.0,315.0 L1594.8,315.0 Z" fill="#fff" stroke="#000" stroke-width="2" stroke-linejoin="round"/>
<path d="M1607.8,302.0 L1613.4,312.0 L1602.2,312.0 Z" fill="#fff" stroke="#000" stroke-width="2" stroke-linejoin="round"/>
<circle cx="1026.0" cy="326.8" r="5.2" fill="#000" stroke="none" stroke-width="0"/>
<circle cx="1033.3" cy="306.1" r="5.2" fill="#000" stroke="none" stroke-width="0"/>
<circle cx="1040.7" cy="316.5" r="5.2" fill="#000" stroke="none" stroke-width="0"/>
<circle cx="1048.1" cy="310.6" r="5.2" fill="#000" stroke="none" stroke-width="0"/>
<circle cx="1055.4" cy="320.9" r="5.2" fill="#000" stroke="none" stroke-width="0"/>
<circle cx="1062.8" cy="303.2" r="5.2" fill="#000" stroke="none" stroke-width="0"/>
<circle cx="1070.2" cy="325.4" r="5.2" fill="#000" stroke="none" stroke-width="0"/>
<circle cx="1077.5" cy="315.0" r="5.2" fill="#000" stroke="none" stroke-width="0"/>
<circle cx="1084.9" cy="307.6" r="5.2" fill="#000" stroke="none" stroke-width="0"/>
<circle cx="1092.2" cy="329.8" r="5.2" fill="#000" stroke="none" stroke-width="0"/>
<circle cx="1099.6" cy="319.4" r="5.2" fill="#000" stroke="none" stroke-width="0"/>
<circle cx="1107.0" cy="304.6" r="5.2" fill="#000" stroke="none" stroke-width="0"/>
<circle cx="1114.3" cy="322.4" r="5.2" fill="#000" stroke="none" stroke-width="0"/>
<circle cx="1121.7" cy="313.5" r="5.2" fill="#000" stroke="none" stroke-width="0"/>
<circle cx="1129.1" cy="309.1" r="5.2" fill="#000" stroke="none" stroke-width="0"/>
<circle cx="1136.4" cy="326.8" r="5.2" fill="#000" stroke="none" stroke-width="0"/>
<circle cx="1143.8" cy="316.5" r="5.2" fill="#000" stroke="none" stroke-width="0"/>
<circle cx="1151.2" cy="306.1" r="5.2" fill="#000" stroke="none" stroke-width="0"/>
<circle cx="1158.5" cy="323.9" r="5.2" fill="#000" stroke="none" stroke-width="0"/>
<circle cx="1165.9" cy="313.5" r="5.2" fill="#000" stroke="none" stroke-width="0"/>
<circle cx="1173.3" cy="320.9" r="5.2" fill="#000" stroke="none" stroke-width="0"/>
<circle cx="1180.6" cy="325.4" r="5.2" fill="#000" stroke="none" stroke-width="0"/>
<circle cx="1188.0" cy="295.8" r="5.2" fill="#000" stroke="none" stroke-width="0"/>
<circle cx="1195.4" cy="297.2" r="5.2" fill="#000" stroke="none" stroke-width="0"/>
<circle cx="1202.7" cy="291.3" r="5.2" fill="#000" stroke="none" stroke-width="0"/>
<circle cx="1210.1" cy="288.4" r="5.2" fill="#000" stroke="none" stroke-width="0"/>
<circle cx="1217.5" cy="282.4" r="5.2" fill="#000" stroke="none" stroke-width="0"/>
<circle cx="1224.8" cy="288.4" r="5.2" fill="#000" stroke="none" stroke-width="0"/>
<circle cx="1232.2" cy="273.6" r="5.2" fill="#000" stroke="none" stroke-width="0"/>
<circle cx="1239.5" cy="266.2" r="5.2" fill="#000" stroke="none" stroke-width="0"/>
<circle cx="1246.9" cy="263.2" r="5.2" fill="#000" stroke="none" stroke-width="0"/>
<circle cx="1254.3" cy="275.0" r="5.2" fill="#000" stroke="none" stroke-width="0"/>
<circle cx="1261.6" cy="272.1" r="5.2" fill="#000" stroke="none" stroke-width="0"/>
<circle cx="1269.0" cy="276.5" r="5.2" fill="#000" stroke="none" stroke-width="0"/>
<circle cx="1276.4" cy="278.0" r="5.2" fill="#000" stroke="none" stroke-width="0"/>
<circle cx="1283.7" cy="269.1" r="5.2" fill="#000" stroke="none" stroke-width="0"/>
<circle cx="1291.1" cy="266.2" r="5.2" fill="#000" stroke="none" stroke-width="0"/>
<circle cx="1298.5" cy="273.6" r="5.2" fill="#000" stroke="none" stroke-width="0"/>
<circle cx="1305.8" cy="255.8" r="5.2" fill="#000" stroke="none" stroke-width="0"/>
<circle cx="1313.2" cy="269.1" r="5.2" fill="#000" stroke="none" stroke-width="0"/>
<circle cx="1320.6" cy="273.6" r="5.2" fill="#000" stroke="none" stroke-width="0"/>
<circle cx="1327.9" cy="264.7" r="5.2" fill="#000" stroke="none" stroke-width="0"/>
<circle cx="1335.3" cy="276.5" r="5.2" fill="#000" stroke="none" stroke-width="0"/>
<circle cx="1342.7" cy="273.6" r="5.2" fill="#000" stroke="none" stroke-width="0"/>
<circle cx="1350.0" cy="263.2" r="5.2" fill="#000" stroke="none" stroke-width="0"/>
<circle cx="1357.4" cy="270.6" r="5.2" fill="#000" stroke="none" stroke-width="0"/>
<circle cx="1364.8" cy="272.1" r="5.2" fill="#000" stroke="none" stroke-width="0"/>
<circle cx="1372.1" cy="273.6" r="5.2" fill="#000" stroke="none" stroke-width="0"/>
<circle cx="1379.5" cy="282.4" r="5.2" fill="#000" stroke="none" stroke-width="0"/>
<circle cx="1386.8" cy="286.9" r="5.2" fill="#000" stroke="none" stroke-width="0"/>
<circle cx="1394.2" cy="285.4" r="5.2" fill="#000" stroke="none" stroke-width="0"/>
<circle cx="1401.6" cy="270.6" r="5.2" fill="#000" stroke="none" stroke-width="0"/>
<circle cx="1408.9" cy="261.7" r="5.2" fill="#000" stroke="none" stroke-width="0"/>
<circle cx="1416.3" cy="273.6" r="5.2" fill="#000" stroke="none" stroke-width="0"/>
<circle cx="1423.7" cy="266.2" r="5.2" fill="#000" stroke="none" stroke-width="0"/>
<circle cx="1431.0" cy="270.6" r="5.2" fill="#000" stroke="none" stroke-width="0"/>
<circle cx="1438.4" cy="275.0" r="5.2" fill="#000" stroke="none" stroke-width="0"/>
<circle cx="1445.8" cy="273.6" r="5.2" fill="#000" stroke="none" stroke-width="0"/>
<circle cx="1453.1" cy="279.5" r="5.2" fill="#000" stroke="none" stroke-width="0"/>
<circle cx="1460.5" cy="266.2" r="5.2" fill="#000" stroke="none" stroke-width="0"/>
<circle cx="1467.9" cy="255.8" r="5.2" fill="#000" stroke="none" stroke-width="0"/>
<circle cx="1475.2" cy="266.2" r="5.2" fill="#000" stroke="none" stroke-width="0"/>
<circle cx="1482.6" cy="269.1" r="5.2" fill="#000" stroke="none" stroke-width="0"/>
<circle cx="1490.0" cy="273.6" r="5.2" fill="#000" stroke="none" stroke-width="0"/>
<circle cx="1497.3" cy="266.2" r="5.2" fill="#000" stroke="none" stroke-width="0"/>
<circle cx="1504.7" cy="273.6" r="5.2" fill="#000" stroke="none" stroke-width="0"/>
<circle cx="1512.1" cy="270.6" r="5.2" fill="#000" stroke="none" stroke-width="0"/>
<circle cx="1519.4" cy="263.2" r="5.2" fill="#000" stroke="none" stroke-width="0"/>
<circle cx="1526.8" cy="275.0" r="5.2" fill="#000" stroke="none" stroke-width="0"/>
<circle cx="1534.2" cy="270.6" r="5.2" fill="#000" stroke="none" stroke-width="0"/>
<circle cx="1541.5" cy="279.5" r="5.2" fill="#000" stroke="none" stroke-width="0"/>
<circle cx="1548.9" cy="276.5" r="5.2" fill="#000" stroke="none" stroke-width="0"/>
<circle cx="1556.2" cy="286.9" r="5.2" fill="#000" stroke="none" stroke-width="0"/>
<circle cx="1563.6" cy="282.4" r="5.2" fill="#000" stroke="none" stroke-width="0"/>
<circle cx="1571.0" cy="285.4" r="5.2" fill="#000" stroke="none" stroke-width="0"/>
<circle cx="1578.3" cy="294.3" r="5.2" fill="#000" stroke="none" stroke-width="0"/>
<circle cx="1585.7" cy="273.6" r="5.2" fill="#000" stroke="none" stroke-width="0"/>
<circle cx="1593.1" cy="288.4" r="5.2" fill="#000" stroke="none" stroke-width="0"/>
<circle cx="1600.4" cy="297.2" r="5.2" fill="#000" stroke="none" stroke-width="0"/>
<circle cx="1607.8" cy="313.5" r="5.2" fill="#000" stroke="none" stroke-width="0"/>
<circle cx="1026.0" cy="310.6" r="4.9" fill="#fff" stroke="#000" stroke-width="2.0"/>
<circle cx="1033.3" cy="310.6" r="4.9" fill="#fff" stroke="#000" stroke-width="2.0"/>
<circle cx="1040.7" cy="319.4" r="4.9" fill="#fff" stroke="#000" stroke-width="2.0"/>
<circle cx="1048.1" cy="312.0" r="4.9" fill="#fff" stroke="#000" stroke-width="2.0"/>
<circle cx="1055.4" cy="323.9" r="4.9" fill="#fff" stroke="#000" stroke-width="2.0"/>
<circle cx="1062.8" cy="320.9" r="4.9" fill="#fff" stroke="#000" stroke-width="2.0"/>
<circle cx="1070.2" cy="332.8" r="4.9" fill="#fff" stroke="#000" stroke-width="2.0"/>
<circle cx="1077.5" cy="325.4" r="4.9" fill="#fff" stroke="#000" stroke-width="2.0"/>
<circle cx="1084.9" cy="310.6" r="4.9" fill="#fff" stroke="#000" stroke-width="2.0"/>
<circle cx="1092.2" cy="312.0" r="4.9" fill="#fff" stroke="#000" stroke-width="2.0"/>
<circle cx="1099.6" cy="323.9" r="4.9" fill="#fff" stroke="#000" stroke-width="2.0"/>
<circle cx="1107.0" cy="319.4" r="4.9" fill="#fff" stroke="#000" stroke-width="2.0"/>
<circle cx="1114.3" cy="312.0" r="4.9" fill="#fff" stroke="#000" stroke-width="2.0"/>
<circle cx="1121.7" cy="328.3" r="4.9" fill="#fff" stroke="#000" stroke-width="2.0"/>
<circle cx="1129.1" cy="318.0" r="4.9" fill="#fff" stroke="#000" stroke-width="2.0"/>
<circle cx="1136.4" cy="323.9" r="4.9" fill="#fff" stroke="#000" stroke-width="2.0"/>
<circle cx="1143.8" cy="318.0" r="4.9" fill="#fff" stroke="#000" stroke-width="2.0"/>
<circle cx="1151.2" cy="307.6" r="4.9" fill="#fff" stroke="#000" stroke-width="2.0"/>
<circle cx="1158.5" cy="306.1" r="4.9" fill="#fff" stroke="#000" stroke-width="2.0"/>
<circle cx="1165.9" cy="328.3" r="4.9" fill="#fff" stroke="#000" stroke-width="2.0"/>
<circle cx="1173.3" cy="335.7" r="4.9" fill="#fff" stroke="#000" stroke-width="2.0"/>
<circle cx="1180.6" cy="334.2" r="4.9" fill="#fff" stroke="#000" stroke-width="2.0"/>
<circle cx="1188.0" cy="307.6" r="4.9" fill="#fff" stroke="#000" stroke-width="2.0"/>
<circle cx="1195.4" cy="291.3" r="4.9" fill="#fff" stroke="#000" stroke-width="2.0"/>
<circle cx="1202.7" cy="281.0" r="4.9" fill="#fff" stroke="#000" stroke-width="2.0"/>
<circle cx="1210.1" cy="273.6" r="4.9" fill="#fff" stroke="#000" stroke-width="2.0"/>
<circle cx="1217.5" cy="272.1" r="4.9" fill="#fff" stroke="#000" stroke-width="2.0"/>
<circle cx="1224.8" cy="248.4" r="4.9" fill="#fff" stroke="#000" stroke-width="2.0"/>
<circle cx="1232.2" cy="252.8" r="4.9" fill="#fff" stroke="#000" stroke-width="2.0"/>
<circle cx="1239.5" cy="255.8" r="4.9" fill="#fff" stroke="#000" stroke-width="2.0"/>
<circle cx="1246.9" cy="248.4" r="4.9" fill="#fff" stroke="#000" stroke-width="2.0"/>
<circle cx="1254.3" cy="270.6" r="4.9" fill="#fff" stroke="#000" stroke-width="2.0"/>
<circle cx="1261.6" cy="246.9" r="4.9" fill="#fff" stroke="#000" stroke-width="2.0"/>
<circle cx="1269.0" cy="257.3" r="4.9" fill="#fff" stroke="#000" stroke-width="2.0"/>
<circle cx="1276.4" cy="263.2" r="4.9" fill="#fff" stroke="#000" stroke-width="2.0"/>
<circle cx="1283.7" cy="252.8" r="4.9" fill="#fff" stroke="#000" stroke-width="2.0"/>
<circle cx="1291.1" cy="261.7" r="4.9" fill="#fff" stroke="#000" stroke-width="2.0"/>
<circle cx="1298.5" cy="269.1" r="4.9" fill="#fff" stroke="#000" stroke-width="2.0"/>
<circle cx="1305.8" cy="245.4" r="4.9" fill="#fff" stroke="#000" stroke-width="2.0"/>
<circle cx="1313.2" cy="272.1" r="4.9" fill="#fff" stroke="#000" stroke-width="2.0"/>
<circle cx="1320.6" cy="263.2" r="4.9" fill="#fff" stroke="#000" stroke-width="2.0"/>
<circle cx="1327.9" cy="252.8" r="4.9" fill="#fff" stroke="#000" stroke-width="2.0"/>
<circle cx="1335.3" cy="263.2" r="4.9" fill="#fff" stroke="#000" stroke-width="2.0"/>
<circle cx="1342.7" cy="263.2" r="4.9" fill="#fff" stroke="#000" stroke-width="2.0"/>
<circle cx="1350.0" cy="257.3" r="4.9" fill="#fff" stroke="#000" stroke-width="2.0"/>
<circle cx="1357.4" cy="252.8" r="4.9" fill="#fff" stroke="#000" stroke-width="2.0"/>
<circle cx="1364.8" cy="263.2" r="4.9" fill="#fff" stroke="#000" stroke-width="2.0"/>
<circle cx="1372.1" cy="261.7" r="4.9" fill="#fff" stroke="#000" stroke-width="2.0"/>
<circle cx="1379.5" cy="251.4" r="4.9" fill="#fff" stroke="#000" stroke-width="2.0"/>
<circle cx="1386.8" cy="261.7" r="4.9" fill="#fff" stroke="#000" stroke-width="2.0"/>
<circle cx="1394.2" cy="273.6" r="4.9" fill="#fff" stroke="#000" stroke-width="2.0"/>
<circle cx="1401.6" cy="255.8" r="4.9" fill="#fff" stroke="#000" stroke-width="2.0"/>
<circle cx="1408.9" cy="245.4" r="4.9" fill="#fff" stroke="#000" stroke-width="2.0"/>
<circle cx="1416.3" cy="246.9" r="4.9" fill="#fff" stroke="#000" stroke-width="2.0"/>
<circle cx="1423.7" cy="258.8" r="4.9" fill="#fff" stroke="#000" stroke-width="2.0"/>
<circle cx="1431.0" cy="267.6" r="4.9" fill="#fff" stroke="#000" stroke-width="2.0"/>
<circle cx="1438.4" cy="251.4" r="4.9" fill="#fff" stroke="#000" stroke-width="2.0"/>
<circle cx="1445.8" cy="266.2" r="4.9" fill="#fff" stroke="#000" stroke-width="2.0"/>
<circle cx="1453.1" cy="252.8" r="4.9" fill="#fff" stroke="#000" stroke-width="2.0"/>
<circle cx="1460.5" cy="267.6" r="4.9" fill="#fff" stroke="#000" stroke-width="2.0"/>
<circle cx="1467.9" cy="264.7" r="4.9" fill="#fff" stroke="#000" stroke-width="2.0"/>
<circle cx="1475.2" cy="269.1" r="4.9" fill="#fff" stroke="#000" stroke-width="2.0"/>
<circle cx="1482.6" cy="258.8" r="4.9" fill="#fff" stroke="#000" stroke-width="2.0"/>
<circle cx="1490.0" cy="254.3" r="4.9" fill="#fff" stroke="#000" stroke-width="2.0"/>
<circle cx="1497.3" cy="260.2" r="4.9" fill="#fff" stroke="#000" stroke-width="2.0"/>
<circle cx="1504.7" cy="241.0" r="4.9" fill="#fff" stroke="#000" stroke-width="2.0"/>
<circle cx="1512.1" cy="267.6" r="4.9" fill="#fff" stroke="#000" stroke-width="2.0"/>
<circle cx="1519.4" cy="249.9" r="4.9" fill="#fff" stroke="#000" stroke-width="2.0"/>
<circle cx="1526.8" cy="252.8" r="4.9" fill="#fff" stroke="#000" stroke-width="2.0"/>
<circle cx="1534.2" cy="273.6" r="4.9" fill="#fff" stroke="#000" stroke-width="2.0"/>
<circle cx="1541.5" cy="258.8" r="4.9" fill="#fff" stroke="#000" stroke-width="2.0"/>
<circle cx="1548.9" cy="272.1" r="4.9" fill="#fff" stroke="#000" stroke-width="2.0"/>
<circle cx="1556.2" cy="255.8" r="4.9" fill="#fff" stroke="#000" stroke-width="2.0"/>
<circle cx="1563.6" cy="273.6" r="4.9" fill="#fff" stroke="#000" stroke-width="2.0"/>
<circle cx="1571.0" cy="249.9" r="4.9" fill="#fff" stroke="#000" stroke-width="2.0"/>
<circle cx="1578.3" cy="252.8" r="4.9" fill="#fff" stroke="#000" stroke-width="2.0"/>
<circle cx="1585.7" cy="261.7" r="4.9" fill="#fff" stroke="#000" stroke-width="2.0"/>
<circle cx="1593.1" cy="261.7" r="4.9" fill="#fff" stroke="#000" stroke-width="2.0"/>
<circle cx="1600.4" cy="278.0" r="4.9" fill="#fff" stroke="#000" stroke-width="2.0"/>
<circle cx="1607.8" cy="266.2" r="4.9" fill="#fff" stroke="#000" stroke-width="2.0"/>
<text x="40.6" y="631.4" font-size="50" font-family="'Liberation Sans', Arial, sans-serif" stroke="#000" stroke-width="1.70" >C</text>
<line x1="159.6" y1="720.6" x2="159.6" y2="1080.9" stroke="#000" stroke-width="4" />
<line x1="150.0" y1="722.7" x2="159.6" y2="722.7" stroke="#000" stroke-width="4" />
<text x="0" y="0" transform="translate(131.8 731.3) scale(0.9 1)" font-size="29.5" font-family="'Liberation Sans', Arial, sans-serif" text-anchor="end" stroke="#000" stroke-width="1.00" >100</text>
<line x1="150.0" y1="793.9" x2="159.6" y2="793.9" stroke="#000" stroke-width="4" />
<text x="0" y="0" transform="translate(131.8 802.5) scale(0.9 1)" font-size="29.5" font-family="'Liberation Sans', Arial, sans-serif" text-anchor="end" stroke="#000" stroke-width="1.00" >80</text>
<line x1="150.0" y1="865.2" x2="159.6" y2="865.2" stroke="#000" stroke-width="4" />
<text x="0" y="0" transform="translate(131.8 873.8) scale(0.9 1)" font-size="29.5" font-family="'Liberation Sans', Arial, sans-serif" text-anchor="end" stroke="#000" stroke-width="1.00" >60</text>
<line x1="150.0" y1="936.4" x2="159.6" y2="936.4" stroke="#000" stroke-width="4" />
<text x="0" y="0" transform="translate(131.8 945.0) scale(0.9 1)" font-size="29.5" font-family="'Liberation Sans', Arial, sans-serif" text-anchor="end" stroke="#000" stroke-width="1.00" >40</text>
<line x1="150.0" y1="1007.7" x2="159.6" y2="1007.7" stroke="#000" stroke-width="4" />
<text x="0" y="0" transform="translate(131.8 1016.3) scale(0.9 1)" font-size="29.5" font-family="'Liberation Sans', Arial, sans-serif" text-anchor="end" stroke="#000" stroke-width="1.00" >20</text>
<line x1="150.0" y1="1078.9" x2="159.6" y2="1078.9" stroke="#000" stroke-width="4" />
<text x="0" y="0" transform="translate(131.8 1087.5) scale(0.9 1)" font-size="29.5" font-family="'Liberation Sans', Arial, sans-serif" text-anchor="end" stroke="#000" stroke-width="1.00" >0</text>
<line x1="150.0" y1="1078.9" x2="709.9" y2="1078.9" stroke="#000" stroke-width="4" />
<line x1="159.6" y1="1078.9" x2="159.6" y2="1088.3" stroke="#000" stroke-width="4" />
<text x="0" y="0" transform="translate(159.6 1118.0) scale(0.9 1)" font-size="29" font-family="'Liberation Sans', Arial, sans-serif" text-anchor="middle" stroke="#000" stroke-width="0.99" ></text>
<line x1="294.0" y1="1078.9" x2="294.0" y2="1088.3" stroke="#000" stroke-width="4" />
<text x="0" y="0" transform="translate(294.0 1118.0) scale(0.9 1)" font-size="29" font-family="'Liberation Sans', Arial, sans-serif" text-anchor="middle" stroke="#000" stroke-width="0.99" ></text>
<line x1="428.4" y1="1078.9" x2="428.4" y2="1088.3" stroke="#000" stroke-width="4" />
<text x="0" y="0" transform="translate(428.4 1118.0) scale(0.9 1)" font-size="29" font-family="'Liberation Sans', Arial, sans-serif" text-anchor="middle" stroke="#000" stroke-width="0.99" ></text>
<line x1="562.8" y1="1078.9" x2="562.8" y2="1088.3" stroke="#000" stroke-width="4" />
<text x="0" y="0" transform="translate(562.8 1118.0) scale(0.9 1)" font-size="29" font-family="'Liberation Sans', Arial, sans-serif" text-anchor="middle" stroke="#000" stroke-width="0.99" ></text>
<line x1="697.2" y1="1078.9" x2="697.2" y2="1088.3" stroke="#000" stroke-width="4" />
<text x="0" y="0" transform="translate(697.2 1118.0) scale(0.9 1)" font-size="29" font-family="'Liberation Sans', Arial, sans-serif" text-anchor="middle" stroke="#000" stroke-width="0.99" ></text>
<text x="0" y="0" transform="translate(156.6 1118.0) scale(0.9 1)" font-size="29" font-family="'Liberation Sans', Arial, sans-serif" text-anchor="middle" stroke="#000" stroke-width="0.99" >0.1</text>
<text x="0" y="0" transform="translate(290.6 1118.0) scale(0.9 1)" font-size="29" font-family="'Liberation Sans', Arial, sans-serif" text-anchor="middle" stroke="#000" stroke-width="0.99" >1</text>
<text x="0" y="0" transform="translate(427.4 1118.0) scale(0.9 1)" font-size="29" font-family="'Liberation Sans', Arial, sans-serif" text-anchor="middle" stroke="#000" stroke-width="0.99" >15</text>
<text x="0" y="0" transform="translate(562.8 1118.0) scale(0.9 1)" font-size="29" font-family="'Liberation Sans', Arial, sans-serif" text-anchor="middle" stroke="#000" stroke-width="0.99" >50</text>
<text x="0" y="0" transform="translate(697.2 1118.0) scale(0.9 1)" font-size="29" font-family="'Liberation Sans', Arial, sans-serif" text-anchor="middle" stroke="#000" stroke-width="0.99" >100</text>
<text x="63.0" y="899.6" font-size="36" font-family="'Liberation Sans', Arial, sans-serif" text-anchor="middle" textLength="248.0" lengthAdjust="spacingAndGlyphs" transform="rotate(-90 63.0 899.6)" stroke="#000" stroke-width="1.22" >Potentiation (%)</text>
<text x="318.5" y="1159.7" font-size="35" font-family="'Liberation Sans', Arial, sans-serif" textLength="240.2" lengthAdjust="spacingAndGlyphs" stroke="#000" stroke-width="1.19" >SR58611A (µM )</text>
<path d="M159.1,1065.1 L163.6,1065.5 L168.1,1065.8 L172.7,1066.0 L177.2,1066.1 L181.7,1066.0 L186.2,1065.9 L190.7,1065.6 L195.3,1065.3 L199.8,1064.8 L204.3,1064.2 L208.8,1063.6 L213.3,1062.8 L217.9,1062.0 L222.4,1061.0 L226.9,1060.0 L231.4,1058.9 L235.9,1057.7 L240.5,1056.4 L245.0,1055.0 L249.5,1053.6 L254.0,1052.0 L258.5,1050.4 L263.1,1048.8 L267.6,1047.0 L272.1,1045.2 L276.6,1043.3 L281.1,1041.4 L285.7,1039.4 L290.2,1037.3 L294.7,1035.1 L299.2,1033.0 L303.7,1030.7 L308.3,1028.4 L312.8,1026.1 L317.3,1023.7 L321.8,1021.2 L326.3,1018.7 L330.9,1016.2 L335.4,1013.6 L339.9,1011.0 L344.4,1008.3 L348.9,1005.6 L353.5,1002.9 L358.0,1000.1 L362.5,997.3 L367.0,994.5 L371.5,991.6 L376.1,988.8 L380.6,985.9 L385.1,982.9 L389.6,980.0 L394.1,977.0 L398.7,974.0 L403.2,971.0 L407.7,967.9 L412.2,964.9 L416.7,961.8 L421.3,958.7 L425.8,955.7 L430.3,952.6 L434.8,949.5 L439.4,946.4 L443.9,943.3 L448.4,940.2 L452.9,937.0 L457.4,933.9 L462.0,930.8 L466.5,927.7 L471.0,924.6 L475.5,921.5 L480.0,918.5 L484.6,915.4 L489.1,912.3 L493.6,909.3 L498.1,906.3 L502.6,903.2 L507.2,900.2 L511.7,897.3 L516.2,894.3 L520.7,891.4 L525.2,888.5 L529.8,885.6 L534.3,882.8 L538.8,880.0 L543.3,877.2 L547.8,874.5 L552.4,871.8 L556.9,869.1 L561.4,866.5 L565.9,864.0 L570.4,861.5 L575.0,859.0 L579.5,856.6 L584.0,854.2 L588.5,851.9 L593.0,849.7 L597.6,847.6 L602.1,845.5 L606.6,843.4 L611.1,841.5 L615.6,839.6 L620.2,837.8 L624.7,836.1 L629.2,834.5 L633.7,833.0 L638.2,831.5 L642.8,830.2 L647.3,829.0 L651.8,827.8 L656.3,826.8 L660.8,826.0 L665.4,825.2 L669.9,824.5 L674.4,824.0 L678.9,823.7 L683.4,823.4 L688.0,823.4 L692.5,823.4 L697.0,823.7" fill="none" stroke="#000" stroke-width="2.2" stroke-linejoin="round" />
<line x1="159.6" y1="1042.9" x2="169.6" y2="1042.9" stroke="#000" stroke-width="2.2" />
<line x1="294.2" y1="1055.9" x2="294.2" y2="1004.6" stroke="#000" stroke-width="2.4" />
<line x1="286.7" y1="1055.9" x2="301.7" y2="1055.9" stroke="#000" stroke-width="2.4" />
<line x1="286.7" y1="1004.6" x2="301.7" y2="1004.6" stroke="#000" stroke-width="2.4" />
<line x1="427.6" y1="996.7" x2="427.6" y2="933.7" stroke="#000" stroke-width="2.4" />
<line x1="420.1" y1="996.7" x2="435.1" y2="996.7" stroke="#000" stroke-width="2.4" />
<line x1="420.1" y1="933.7" x2="435.1" y2="933.7" stroke="#000" stroke-width="2.4" />
<line x1="561.9" y1="892.6" x2="561.9" y2="827.8" stroke="#000" stroke-width="2.4" />
<line x1="554.4" y1="892.6" x2="569.4" y2="892.6" stroke="#000" stroke-width="2.4" />
<line x1="554.4" y1="827.8" x2="569.4" y2="827.8" stroke="#000" stroke-width="2.4" />
<line x1="696.8" y1="848.3" x2="696.8" y2="801.5" stroke="#000" stroke-width="2.4" />
<line x1="689.3" y1="848.3" x2="704.3" y2="848.3" stroke="#000" stroke-width="2.4" />
<line x1="689.3" y1="801.5" x2="704.3" y2="801.5" stroke="#000" stroke-width="2.4" />
<circle cx="159.1" cy="1064.9" r="8.0" fill="#000" stroke="none" stroke-width="0"/>
<circle cx="294.2" cy="1029.9" r="8.0" fill="#000" stroke="none" stroke-width="0"/>
<circle cx="427.6" cy="965.4" r="8.0" fill="#000" stroke="none" stroke-width="0"/>
<circle cx="561.9" cy="859.7" r="8.0" fill="#000" stroke="none" stroke-width="0"/>
<circle cx="696.8" cy="825.6" r="8.0" fill="#000" stroke="none" stroke-width="0"/>
<text x="175.6" y="1043.5" font-size="26" font-family="'Liberation Sans', Arial, sans-serif" stroke="#000" stroke-width="0.88" >(</text>
<text x="201.3" y="1043.5" font-size="26" font-family="'Liberation Sans', Arial, sans-serif" text-anchor="middle" stroke="#000" stroke-width="0.88" >7</text>
<text x="227.0" y="1043.5" font-size="26" font-family="'Liberation Sans', Arial, sans-serif" text-anchor="end" stroke="#000" stroke-width="0.88" >)</text>
<text x="266.2" y="974.0" font-size="26" font-family="'Liberation Sans', Arial, sans-serif" stroke="#000" stroke-width="0.88" >(</text>
<text x="291.1" y="974.0" font-size="26" font-family="'Liberation Sans', Arial, sans-serif" text-anchor="middle" stroke="#000" stroke-width="0.88" >7</text>
<text x="316.0" y="974.0" font-size="26" font-family="'Liberation Sans', Arial, sans-serif" text-anchor="end" stroke="#000" stroke-width="0.88" >)</text>
<text x="399.0" y="912.3" font-size="26" font-family="'Liberation Sans', Arial, sans-serif" stroke="#000" stroke-width="0.88" >(</text>
<text x="424.6" y="912.3" font-size="26" font-family="'Liberation Sans', Arial, sans-serif" text-anchor="middle" stroke="#000" stroke-width="0.88" >8</text>
<text x="450.2" y="912.3" font-size="26" font-family="'Liberation Sans', Arial, sans-serif" text-anchor="end" stroke="#000" stroke-width="0.88" >)</text>
<text x="532.0" y="817.5" font-size="26" font-family="'Liberation Sans', Arial, sans-serif" stroke="#000" stroke-width="0.88" >(</text>
<text x="556.9" y="817.5" font-size="26" font-family="'Liberation Sans', Arial, sans-serif" text-anchor="middle" stroke="#000" stroke-width="0.88" >8</text>
<text x="581.7" y="817.5" font-size="26" font-family="'Liberation Sans', Arial, sans-serif" text-anchor="end" stroke="#000" stroke-width="0.88" >)</text>
<text x="668.0" y="774.8" font-size="26" font-family="'Liberation Sans', Arial, sans-serif" stroke="#000" stroke-width="0.88" >(</text>
<text x="693.2" y="774.8" font-size="26" font-family="'Liberation Sans', Arial, sans-serif" text-anchor="middle" stroke="#000" stroke-width="0.88" >8</text>
<text x="718.4" y="774.8" font-size="26" font-family="'Liberation Sans', Arial, sans-serif" text-anchor="end" stroke="#000" stroke-width="0.88" >)</text>
<text x="490.5" y="1051.9" font-size="32" font-family="'Liberation Sans', Arial, sans-serif" textLength="43.5" lengthAdjust="spacingAndGlyphs" stroke="#000" stroke-width="1.09" >EC</text>
<text x="532.6" y="1058.2" font-size="21.5" font-family="'Liberation Sans', Arial, sans-serif" textLength="23.6" lengthAdjust="spacingAndGlyphs" stroke="#000" stroke-width="0.73" >50</text>
<text x="563.0" y="1051.9" font-size="32" font-family="'Liberation Sans', Arial, sans-serif" textLength="135.5" lengthAdjust="spacingAndGlyphs" stroke="#000" stroke-width="1.09" >= 23.1 µM</text>
<text x="893.6" y="630.5" font-size="49" font-family="'Liberation Sans', Arial, sans-serif" stroke="#000" stroke-width="1.67" >D</text>
<line x1="1021.5" y1="704.5" x2="1021.5" y2="1079.0" stroke="#000" stroke-width="4" />
<line x1="1013.6" y1="706.6" x2="1021.5" y2="706.6" stroke="#000" stroke-width="4" />
<text x="997.3" y="713.8" font-size="24" font-family="'Liberation Sans', Arial, sans-serif" text-anchor="end" stroke="#000" stroke-width="0.82" >250</text>
<line x1="1013.6" y1="780.7" x2="1021.5" y2="780.7" stroke="#000" stroke-width="4" />
<text x="997.3" y="787.9" font-size="24" font-family="'Liberation Sans', Arial, sans-serif" text-anchor="end" stroke="#000" stroke-width="0.82" >200</text>
<line x1="1013.6" y1="854.8" x2="1021.5" y2="854.8" stroke="#000" stroke-width="4" />
<text x="997.3" y="862.0" font-size="24" font-family="'Liberation Sans', Arial, sans-serif" text-anchor="end" stroke="#000" stroke-width="0.82" >150</text>
<line x1="1013.6" y1="928.8" x2="1021.5" y2="928.8" stroke="#000" stroke-width="4" />
<text x="997.3" y="936.0" font-size="24" font-family="'Liberation Sans', Arial, sans-serif" text-anchor="end" stroke="#000" stroke-width="0.82" >100</text>
<line x1="1013.6" y1="1002.9" x2="1021.5" y2="1002.9" stroke="#000" stroke-width="4" />
<text x="997.3" y="1010.1" font-size="24" font-family="'Liberation Sans', Arial, sans-serif" text-anchor="end" stroke="#000" stroke-width="0.82" >50</text>
<line x1="1013.6" y1="1077.0" x2="1021.5" y2="1077.0" stroke="#000" stroke-width="4" />
<text x="997.3" y="1084.2" font-size="24" font-family="'Liberation Sans', Arial, sans-serif" text-anchor="end" stroke="#000" stroke-width="0.82" >0</text>
<line x1="1013.6" y1="1077.0" x2="1627.7" y2="1077.0" stroke="#000" stroke-width="4" />
<line x1="1021.5" y1="1077.0" x2="1021.5" y2="1084.8" stroke="#000" stroke-width="4" />
<text x="1021.5" y="1123.3" font-size="24" font-family="'Liberation Sans', Arial, sans-serif" text-anchor="middle" stroke="#000" stroke-width="0.82" >0</text>
<line x1="1172.6" y1="1077.0" x2="1172.6" y2="1084.8" stroke="#000" stroke-width="4" />
<text x="1172.6" y="1123.3" font-size="24" font-family="'Liberation Sans', Arial, sans-serif" text-anchor="middle" stroke="#000" stroke-width="0.82" >10</text>
<line x1="1323.7" y1="1077.0" x2="1323.7" y2="1084.8" stroke="#000" stroke-width="4" />
<text x="1323.7" y="1123.3" font-size="24" font-family="'Liberation Sans', Arial, sans-serif" text-anchor="middle" stroke="#000" stroke-width="0.82" >20</text>
<line x1="1474.8" y1="1077.0" x2="1474.8" y2="1084.8" stroke="#000" stroke-width="4" />
<text x="1474.8" y="1123.3" font-size="24" font-family="'Liberation Sans', Arial, sans-serif" text-anchor="middle" stroke="#000" stroke-width="0.82" >30</text>
<line x1="1625.9" y1="1077.0" x2="1625.9" y2="1084.8" stroke="#000" stroke-width="4" />
<text x="1625.9" y="1123.3" font-size="24" font-family="'Liberation Sans', Arial, sans-serif" text-anchor="middle" stroke="#000" stroke-width="0.82" >40</text>
<text x="1319.5" y="1161.3" font-size="41.5" font-family="'Liberation Sans', Arial, sans-serif" text-anchor="middle" textLength="191.0" lengthAdjust="spacingAndGlyphs" stroke="#000" stroke-width="1.41" >Time (min)</text>
<text x="884.0" y="896.2" font-size="36" font-family="'Liberation Sans', Arial, sans-serif" text-anchor="middle" textLength="281.5" lengthAdjust="spacingAndGlyphs" transform="rotate(-90 884.0 896.2)" stroke="#000" stroke-width="1.22" >eEPSC Amplitude</text>
<text x="923.0" y="895.6" font-size="36" font-family="'Liberation Sans', Arial, sans-serif" text-anchor="middle" textLength="207.5" lengthAdjust="spacingAndGlyphs" transform="rotate(-90 923.0 895.6)" stroke="#000" stroke-width="1.22" >(% of control)</text>
<line x1="1046.2" y1="698.5" x2="1046.2" y2="754.1" stroke="#777" stroke-width="1.3" />
<path d="M1038.8,712.3 L1039.2,712.3 L1039.7,712.3 L1040.2,713.0 L1040.9,712.5 L1041.5,713.0 L1042.0,713.3 L1042.5,712.5 L1042.9,712.7 L1043.3,712.5 L1043.7,711.7 L1044.1,711.7 L1044.5,711.7 L1044.9,711.2 L1045.2,711.0" fill="none" stroke="#444" stroke-width="1.3" stroke-linejoin="round" />
<path d="M1045.2,711.0 L1045.5,710.2" fill="none" stroke="#9a9a9a" stroke-width="1.105" stroke-linejoin="round" />
<path d="M1045.5,710.2 L1045.8,710.0 L1046.1,709.7 L1046.5,710.0 L1046.9,710.6 L1047.4,710.8 L1047.8,711.5 L1048.3,711.8 L1048.8,712.6 L1049.3,712.4 L1049.8,712.6 L1050.4,712.8 L1051.0,712.6 L1051.6,712.1 L1052.2,711.7 L1052.7,711.8 L1053.1,711.7 L1053.5,711.5 L1053.8,711.8 L1054.1,711.4" fill="none" stroke="#444" stroke-width="1.3" stroke-linejoin="round" />
<path d="M1054.1,711.4 L1054.4,712.5 L1054.8,713.7 L1055.2,715.0 L1055.6,717.7 L1056.0,720.7 L1056.5,723.6 L1057.0,727.5 L1057.5,731.6 L1058.1,735.1 L1058.8,740.1 L1059.6,744.6 L1060.3,749.8 L1061.0,754.8 L1061.7,758.6 L1062.3,762.4 L1062.9,766.3 L1063.4,770.4 L1064.0,773.4 L1064.5,776.5 L1065.1,779.5 L1065.7,782.0" fill="none" stroke="#9a9a9a" stroke-width="1.105" stroke-linejoin="round" />
<path d="M1065.7,782.0 L1066.2,783.4" fill="none" stroke="#444" stroke-width="1.3" stroke-linejoin="round" />
<path d="M1066.2,783.4 L1066.8,784.9" fill="none" stroke="#9a9a9a" stroke-width="1.105" stroke-linejoin="round" />
<path d="M1066.8,784.9 L1067.4,786.2 L1068.0,786.7 L1068.5,787.8 L1069.0,787.8 L1069.5,788.1 L1070.1,788.2 L1070.6,787.0 L1071.0,787.0 L1071.5,786.6 L1071.9,785.9 L1072.3,785.8 L1072.7,786.1 L1073.1,785.6" fill="none" stroke="#444" stroke-width="1.3" stroke-linejoin="round" />
<path d="M1073.1,785.6 L1073.5,784.3" fill="none" stroke="#9a9a9a" stroke-width="1.105" stroke-linejoin="round" />
<path d="M1073.5,784.3 L1074.0,783.8 L1074.6,782.7" fill="none" stroke="#444" stroke-width="1.3" stroke-linejoin="round" />
<path d="M1074.6,782.7 L1075.2,780.5" fill="none" stroke="#9a9a9a" stroke-width="1.105" stroke-linejoin="round" />
<path d="M1075.2,780.5 L1075.8,779.0" fill="none" stroke="#444" stroke-width="1.3" stroke-linejoin="round" />
<path d="M1075.8,779.0 L1076.5,776.6" fill="none" stroke="#9a9a9a" stroke-width="1.105" stroke-linejoin="round" />
<path d="M1076.5,776.6 L1077.3,774.7 L1078.2,772.7" fill="none" stroke="#444" stroke-width="1.3" stroke-linejoin="round" />
<path d="M1078.2,772.7 L1079.2,770.2" fill="none" stroke="#9a9a9a" stroke-width="1.105" stroke-linejoin="round" />
<path d="M1079.2,770.2 L1080.3,767.5" fill="none" stroke="#444" stroke-width="1.3" stroke-linejoin="round" />
<path d="M1080.3,767.5 L1081.4,764.0" fill="none" stroke="#9a9a9a" stroke-width="1.105" stroke-linejoin="round" />
<path d="M1081.4,764.0 L1082.6,761.2 L1083.8,758.8 L1085.0,756.1 L1086.1,753.8 L1087.2,751.7 L1088.3,750.4 L1089.5,748.3 L1090.7,746.2 L1092.0,745.2 L1093.4,743.3 L1095.0,741.9 L1096.5,740.3 L1098.2,739.2 L1099.9,737.8 L1101.6,736.5 L1103.3,735.8 L1105.1,734.4 L1106.8,734.1 L1108.7,732.7 L1110.6,732.4 L1112.6,731.5 L1114.7,730.4 L1117.0,729.6 L1119.3,728.3 L1121.7,727.7 L1124.1,726.6 L1126.4,725.6 L1128.7,725.4 L1131.0,724.2 L1133.2,723.5 L1135.5,723.2 L1137.8,722.2 L1140.1,721.8 L1142.4,720.9 L1144.7,720.9 L1147.0,720.0 L1149.3,719.4 L1151.6,719.7 L1153.9,718.6 L1156.2,718.8 L1158.5,718.5 L1160.8,717.8 L1163.0,717.0 L1165.3,716.7 L1167.6,716.6 L1170.1,716.5 L1172.7,716.6 L1175.4,716.7 L1177.8,716.2 L1179.9,716.0 L1181.4,716.2" fill="none" stroke="#444" stroke-width="1.3" stroke-linejoin="round" />
<path d="M1038.8,712.0 L1039.2,712.1 L1039.7,712.6 L1040.2,712.9 L1040.9,712.6 L1041.5,713.0 L1042.0,713.2 L1042.5,713.1 L1042.9,712.6 L1043.3,712.7 L1043.7,711.8 L1044.1,711.9 L1044.5,711.7 L1044.9,711.5 L1045.2,710.8 L1045.5,710.2 L1045.8,709.8 L1046.1,710.0 L1046.5,709.7 L1046.9,710.4 L1047.4,710.4 L1047.8,711.5 L1048.3,711.7 L1048.8,712.0 L1049.3,712.4 L1049.8,712.7 L1050.4,712.7 L1051.0,712.3 L1051.6,711.9 L1052.2,712.0 L1052.7,712.4 L1053.1,711.9 L1053.5,712.1" fill="none" stroke="#444" stroke-width="1.3" stroke-linejoin="round" />
<path d="M1053.5,712.1 L1053.8,711.2 L1054.1,712.0" fill="none" stroke="#9a9a9a" stroke-width="1.105" stroke-linejoin="round" />
<path d="M1054.1,712.0 L1054.4,712.5" fill="none" stroke="#444" stroke-width="1.3" stroke-linejoin="round" />
<path d="M1054.4,712.5 L1054.8,713.4 L1055.2,715.3 L1055.6,717.8 L1056.0,721.0 L1056.5,723.7 L1057.0,727.7 L1057.5,731.3 L1058.1,735.2 L1058.9,740.0 L1059.6,744.7 L1060.4,749.1 L1061.1,754.3 L1061.7,758.8 L1062.2,763.4 L1062.6,768.1 L1063.0,772.3 L1063.3,777.2 L1063.6,781.1 L1064.0,785.3 L1064.4,788.1 L1064.8,791.6 L1065.3,794.3 L1065.7,796.7 L1066.1,799.2 L1066.5,800.6 L1066.9,803.0 L1067.2,804.7 L1067.5,806.2 L1067.8,807.2" fill="none" stroke="#9a9a9a" stroke-width="1.105" stroke-linejoin="round" />
<path d="M1067.8,807.2 L1068.1,807.9 L1068.5,808.8 L1068.9,809.6 L1069.2,809.7 L1069.6,809.7 L1070.0,809.8 L1070.6,809.3 L1071.3,808.4 L1072.2,806.5 L1073.3,805.0 L1074.5,802.2 L1075.8,799.9" fill="none" stroke="#444" stroke-width="1.3" stroke-linejoin="round" />
<path d="M1075.8,799.9 L1077.0,796.7" fill="none" stroke="#9a9a9a" stroke-width="1.105" stroke-linejoin="round" />
<path d="M1077.0,796.7 L1078.2,795.0 L1079.3,792.3 L1080.5,790.3 L1081.6,787.9 L1082.7,785.5" fill="none" stroke="#444" stroke-width="1.3" stroke-linejoin="round" />
<path d="M1082.7,785.5 L1083.9,782.6" fill="none" stroke="#9a9a9a" stroke-width="1.105" stroke-linejoin="round" />
<path d="M1083.9,782.6 L1085.0,780.7 L1086.1,778.6 L1087.2,777.1 L1088.3,774.9 L1089.5,773.1 L1090.7,771.3 L1092.0,769.5 L1093.4,768.3 L1095.0,766.5 L1096.5,764.1 L1098.2,762.6 L1099.9,760.5 L1101.6,758.8 L1103.3,757.0 L1105.1,755.6 L1106.8,753.6 L1108.7,752.1 L1110.6,750.7 L1112.6,749.0 L1114.7,747.7 L1117.0,746.6 L1119.3,744.5 L1121.7,743.2 L1124.1,742.4 L1126.4,740.5 L1128.7,739.5 L1131.0,738.7 L1133.2,737.4 L1135.5,735.9 L1137.8,734.7 L1140.1,733.8 L1142.4,732.8 L1144.7,732.3 L1147.0,731.5 L1149.3,730.4 L1151.6,729.6 L1153.9,728.8 L1156.2,728.0 L1158.5,727.3 L1160.8,726.7 L1163.0,725.3 L1165.3,724.9 L1167.6,724.2 L1170.1,723.8 L1172.7,723.1 L1175.4,722.3 L1177.8,722.1 L1179.9,721.3 L1181.4,720.8" fill="none" stroke="#444" stroke-width="1.3" stroke-linejoin="round" />
<text x="1112.0" y="722.3" font-size="18.5" font-family="'Liberation Sans', Arial, sans-serif" stroke="#000" stroke-width="0.63" >1</text>
<text x="1092.5" y="799.0" font-size="18.5" font-family="'Liberation Sans', Arial, sans-serif" stroke="#000" stroke-width="0.63" >2</text>
<text x="1155.3" y="764.7" font-size="19" font-family="'Liberation Sans', Arial, sans-serif" textLength="54.2" lengthAdjust="spacingAndGlyphs" stroke="#000" stroke-width="0.65" >20 ms</text>
<line x1="1157.4" y1="773.4" x2="1214.4" y2="773.4" stroke="#000" stroke-width="3.0" />
<line x1="1214.6" y1="775.6" x2="1214.6" y2="813.2" stroke="#000" stroke-width="3.0" />
<text x="1224.1" y="803.5" font-size="19" font-family="'Liberation Sans', Arial, sans-serif" textLength="52.9" lengthAdjust="spacingAndGlyphs" stroke="#000" stroke-width="0.65" >50 pA</text>
<rect x="1169.6" y="981.9" width="197.5" height="6.8" fill="#000"/>
<text x="1162.9" y="1013.6" font-size="25" font-family="'Liberation Sans', Arial, sans-serif" textLength="199.3" lengthAdjust="spacingAndGlyphs" stroke="#000" stroke-width="0.85" >SR58611A (15 µM)</text>
<rect x="1021.5" y="1022.8" width="599.0" height="6.8" fill="#000"/>
<text x="1170.4" y="1055.3" font-size="24" font-family="'Liberation Sans', Arial, sans-serif" textLength="276.7" lengthAdjust="spacingAndGlyphs" stroke="#000" stroke-width="0.82" >PTX  + AP-5 + Anisomycin</text>
<path d="M1093.4,891.0 L1093.4,879.7 L1166.4,879.7 L1166.4,891.0" fill="none" stroke="#000" stroke-width="1.8" stroke-linejoin="round" />
<text x="1127.8" y="871.9" font-size="18" font-family="'Liberation Serif', 'Times New Roman', serif" text-anchor="middle" stroke="#000" stroke-width="0.61" >1</text>
<path d="M1249.2,846.7 L1249.2,836.2 L1324.1,836.2 L1324.1,846.7" fill="none" stroke="#000" stroke-width="1.8" stroke-linejoin="round" />
<text x="1285.0" y="826.9" font-size="18" font-family="'Liberation Serif', 'Times New Roman', serif" text-anchor="middle" stroke="#000" stroke-width="0.61" >2</text>
<line x1="1206.0" y1="935.0" x2="1631.0" y2="935.0" stroke="#000" stroke-width="3.4" stroke-dasharray="13.5 5.1"/>
<line x1="1029.1" y1="944.4" x2="1029.1" y2="910.6" stroke="#000" stroke-width="2.4" />
<line x1="1021.9" y1="944.4" x2="1036.3" y2="944.4" stroke="#000" stroke-width="2.4" />
<line x1="1021.9" y1="910.6" x2="1036.3" y2="910.6" stroke="#000" stroke-width="2.4" />
<line x1="1036.6" y1="960.8" x2="1036.6" y2="925.9" stroke="#000" stroke-width="2.4" />
<line x1="1029.4" y1="960.8" x2="1043.8" y2="960.8" stroke="#000" stroke-width="2.4" />
<line x1="1029.4" y1="925.9" x2="1043.8" y2="925.9" stroke="#000" stroke-width="2.4" />
<line x1="1044.2" y1="953.3" x2="1044.2" y2="915.1" stroke="#000" stroke-width="2.4" />
<line x1="1037.0" y1="953.3" x2="1051.4" y2="953.3" stroke="#000" stroke-width="2.4" />
<line x1="1037.0" y1="915.1" x2="1051.4" y2="915.1" stroke="#000" stroke-width="2.4" />
<line x1="1051.7" y1="960.9" x2="1051.7" y2="932.3" stroke="#000" stroke-width="2.4" />
<line x1="1044.5" y1="960.9" x2="1058.9" y2="960.9" stroke="#000" stroke-width="2.4" />
<line x1="1044.5" y1="932.3" x2="1058.9" y2="932.3" stroke="#000" stroke-width="2.4" />
<line x1="1059.3" y1="957.6" x2="1059.3" y2="922.3" stroke="#000" stroke-width="2.4" />
<line x1="1052.1" y1="957.6" x2="1066.5" y2="957.6" stroke="#000" stroke-width="2.4" />
<line x1="1052.1" y1="922.3" x2="1066.5" y2="922.3" stroke="#000" stroke-width="2.4" />
<line x1="1066.8" y1="943.1" x2="1066.8" y2="903.6" stroke="#000" stroke-width="2.4" />
<line x1="1059.6" y1="943.1" x2="1074.0" y2="943.1" stroke="#000" stroke-width="2.4" />
<line x1="1059.6" y1="903.6" x2="1074.0" y2="903.6" stroke="#000" stroke-width="2.4" />
<line x1="1074.4" y1="952.5" x2="1074.4" y2="912.6" stroke="#000" stroke-width="2.4" />
<line x1="1067.2" y1="952.5" x2="1081.6" y2="952.5" stroke="#000" stroke-width="2.4" />
<line x1="1067.2" y1="912.6" x2="1081.6" y2="912.6" stroke="#000" stroke-width="2.4" />
<line x1="1081.9" y1="951.8" x2="1081.9" y2="924.8" stroke="#000" stroke-width="2.4" />
<line x1="1074.7" y1="951.8" x2="1089.1" y2="951.8" stroke="#000" stroke-width="2.4" />
<line x1="1074.7" y1="924.8" x2="1089.1" y2="924.8" stroke="#000" stroke-width="2.4" />
<line x1="1089.5" y1="949.4" x2="1089.5" y2="914.2" stroke="#000" stroke-width="2.4" />
<line x1="1082.3" y1="949.4" x2="1096.7" y2="949.4" stroke="#000" stroke-width="2.4" />
<line x1="1082.3" y1="914.2" x2="1096.7" y2="914.2" stroke="#000" stroke-width="2.4" />
<line x1="1097.0" y1="944.1" x2="1097.0" y2="909.4" stroke="#000" stroke-width="2.4" />
<line x1="1089.8" y1="944.1" x2="1104.2" y2="944.1" stroke="#000" stroke-width="2.4" />
<line x1="1089.8" y1="909.4" x2="1104.2" y2="909.4" stroke="#000" stroke-width="2.4" />
<line x1="1104.6" y1="947.2" x2="1104.6" y2="914.6" stroke="#000" stroke-width="2.4" />
<line x1="1097.4" y1="947.2" x2="1111.8" y2="947.2" stroke="#000" stroke-width="2.4" />
<line x1="1097.4" y1="914.6" x2="1111.8" y2="914.6" stroke="#000" stroke-width="2.4" />
<line x1="1112.2" y1="957.1" x2="1112.2" y2="916.3" stroke="#000" stroke-width="2.4" />
<line x1="1105.0" y1="957.1" x2="1119.4" y2="957.1" stroke="#000" stroke-width="2.4" />
<line x1="1105.0" y1="916.3" x2="1119.4" y2="916.3" stroke="#000" stroke-width="2.4" />
<line x1="1119.7" y1="965.7" x2="1119.7" y2="932.6" stroke="#000" stroke-width="2.4" />
<line x1="1112.5" y1="965.7" x2="1126.9" y2="965.7" stroke="#000" stroke-width="2.4" />
<line x1="1112.5" y1="932.6" x2="1126.9" y2="932.6" stroke="#000" stroke-width="2.4" />
<line x1="1127.3" y1="955.0" x2="1127.3" y2="923.4" stroke="#000" stroke-width="2.4" />
<line x1="1120.1" y1="955.0" x2="1134.5" y2="955.0" stroke="#000" stroke-width="2.4" />
<line x1="1120.1" y1="923.4" x2="1134.5" y2="923.4" stroke="#000" stroke-width="2.4" />
<line x1="1134.8" y1="957.8" x2="1134.8" y2="917.3" stroke="#000" stroke-width="2.4" />
<line x1="1127.6" y1="957.8" x2="1142.0" y2="957.8" stroke="#000" stroke-width="2.4" />
<line x1="1127.6" y1="917.3" x2="1142.0" y2="917.3" stroke="#000" stroke-width="2.4" />
<line x1="1142.4" y1="928.4" x2="1142.4" y2="893.4" stroke="#000" stroke-width="2.4" />
<line x1="1135.2" y1="928.4" x2="1149.6" y2="928.4" stroke="#000" stroke-width="2.4" />
<line x1="1135.2" y1="893.4" x2="1149.6" y2="893.4" stroke="#000" stroke-width="2.4" />
<line x1="1149.9" y1="944.6" x2="1149.9" y2="915.5" stroke="#000" stroke-width="2.4" />
<line x1="1142.7" y1="944.6" x2="1157.1" y2="944.6" stroke="#000" stroke-width="2.4" />
<line x1="1142.7" y1="915.5" x2="1157.1" y2="915.5" stroke="#000" stroke-width="2.4" />
<line x1="1157.5" y1="930.4" x2="1157.5" y2="901.2" stroke="#000" stroke-width="2.4" />
<line x1="1150.3" y1="930.4" x2="1164.7" y2="930.4" stroke="#000" stroke-width="2.4" />
<line x1="1150.3" y1="901.2" x2="1164.7" y2="901.2" stroke="#000" stroke-width="2.4" />
<line x1="1165.0" y1="936.2" x2="1165.0" y2="903.7" stroke="#000" stroke-width="2.4" />
<line x1="1157.8" y1="936.2" x2="1172.2" y2="936.2" stroke="#000" stroke-width="2.4" />
<line x1="1157.8" y1="903.7" x2="1172.2" y2="903.7" stroke="#000" stroke-width="2.4" />
<line x1="1172.6" y1="949.9" x2="1172.6" y2="925.3" stroke="#000" stroke-width="2.4" />
<line x1="1165.4" y1="949.9" x2="1179.8" y2="949.9" stroke="#000" stroke-width="2.4" />
<line x1="1165.4" y1="925.3" x2="1179.8" y2="925.3" stroke="#000" stroke-width="2.4" />
<line x1="1180.2" y1="948.2" x2="1180.2" y2="913.7" stroke="#000" stroke-width="2.4" />
<line x1="1173.0" y1="948.2" x2="1187.4" y2="948.2" stroke="#000" stroke-width="2.4" />
<line x1="1173.0" y1="913.7" x2="1187.4" y2="913.7" stroke="#000" stroke-width="2.4" />
<line x1="1187.7" y1="934.2" x2="1187.7" y2="897.4" stroke="#000" stroke-width="2.4" />
<line x1="1180.5" y1="934.2" x2="1194.9" y2="934.2" stroke="#000" stroke-width="2.4" />
<line x1="1180.5" y1="897.4" x2="1194.9" y2="897.4" stroke="#000" stroke-width="2.4" />
<line x1="1195.3" y1="946.6" x2="1195.3" y2="915.3" stroke="#000" stroke-width="2.4" />
<line x1="1188.1" y1="946.6" x2="1202.5" y2="946.6" stroke="#000" stroke-width="2.4" />
<line x1="1188.1" y1="915.3" x2="1202.5" y2="915.3" stroke="#000" stroke-width="2.4" />
<line x1="1202.8" y1="941.8" x2="1202.8" y2="903.1" stroke="#000" stroke-width="2.4" />
<line x1="1195.6" y1="941.8" x2="1210.0" y2="941.8" stroke="#000" stroke-width="2.4" />
<line x1="1195.6" y1="903.1" x2="1210.0" y2="903.1" stroke="#000" stroke-width="2.4" />
<line x1="1210.4" y1="924.3" x2="1210.4" y2="884.1" stroke="#000" stroke-width="2.4" />
<line x1="1203.2" y1="924.3" x2="1217.6" y2="924.3" stroke="#000" stroke-width="2.4" />
<line x1="1203.2" y1="884.1" x2="1217.6" y2="884.1" stroke="#000" stroke-width="2.4" />
<line x1="1217.9" y1="905.2" x2="1217.9" y2="871.6" stroke="#000" stroke-width="2.4" />
<line x1="1210.7" y1="905.2" x2="1225.1" y2="905.2" stroke="#000" stroke-width="2.4" />
<line x1="1210.7" y1="871.6" x2="1225.1" y2="871.6" stroke="#000" stroke-width="2.4" />
<line x1="1225.5" y1="905.4" x2="1225.5" y2="869.6" stroke="#000" stroke-width="2.4" />
<line x1="1218.3" y1="905.4" x2="1232.7" y2="905.4" stroke="#000" stroke-width="2.4" />
<line x1="1218.3" y1="869.6" x2="1232.7" y2="869.6" stroke="#000" stroke-width="2.4" />
<line x1="1233.0" y1="895.4" x2="1233.0" y2="869.6" stroke="#000" stroke-width="2.4" />
<line x1="1225.8" y1="895.4" x2="1240.2" y2="895.4" stroke="#000" stroke-width="2.4" />
<line x1="1225.8" y1="869.6" x2="1240.2" y2="869.6" stroke="#000" stroke-width="2.4" />
<line x1="1240.6" y1="897.3" x2="1240.6" y2="872.6" stroke="#000" stroke-width="2.4" />
<line x1="1233.4" y1="897.3" x2="1247.8" y2="897.3" stroke="#000" stroke-width="2.4" />
<line x1="1233.4" y1="872.6" x2="1247.8" y2="872.6" stroke="#000" stroke-width="2.4" />
<line x1="1248.2" y1="912.2" x2="1248.2" y2="871.1" stroke="#000" stroke-width="2.4" />
<line x1="1241.0" y1="912.2" x2="1255.4" y2="912.2" stroke="#000" stroke-width="2.4" />
<line x1="1241.0" y1="871.1" x2="1255.4" y2="871.1" stroke="#000" stroke-width="2.4" />
<line x1="1255.7" y1="888.6" x2="1255.7" y2="859.8" stroke="#000" stroke-width="2.4" />
<line x1="1248.5" y1="888.6" x2="1262.9" y2="888.6" stroke="#000" stroke-width="2.4" />
<line x1="1248.5" y1="859.8" x2="1262.9" y2="859.8" stroke="#000" stroke-width="2.4" />
<line x1="1263.3" y1="906.3" x2="1263.3" y2="878.8" stroke="#000" stroke-width="2.4" />
<line x1="1256.1" y1="906.3" x2="1270.5" y2="906.3" stroke="#000" stroke-width="2.4" />
<line x1="1256.1" y1="878.8" x2="1270.5" y2="878.8" stroke="#000" stroke-width="2.4" />
<line x1="1270.8" y1="899.8" x2="1270.8" y2="860.1" stroke="#000" stroke-width="2.4" />
<line x1="1263.6" y1="899.8" x2="1278.0" y2="899.8" stroke="#000" stroke-width="2.4" />
<line x1="1263.6" y1="860.1" x2="1278.0" y2="860.1" stroke="#000" stroke-width="2.4" />
<line x1="1278.4" y1="900.2" x2="1278.4" y2="863.2" stroke="#000" stroke-width="2.4" />
<line x1="1271.2" y1="900.2" x2="1285.6" y2="900.2" stroke="#000" stroke-width="2.4" />
<line x1="1271.2" y1="863.2" x2="1285.6" y2="863.2" stroke="#000" stroke-width="2.4" />
<line x1="1285.9" y1="896.3" x2="1285.9" y2="870.4" stroke="#000" stroke-width="2.4" />
<line x1="1278.7" y1="896.3" x2="1293.1" y2="896.3" stroke="#000" stroke-width="2.4" />
<line x1="1278.7" y1="870.4" x2="1293.1" y2="870.4" stroke="#000" stroke-width="2.4" />
<line x1="1293.5" y1="899.7" x2="1293.5" y2="870.3" stroke="#000" stroke-width="2.4" />
<line x1="1286.3" y1="899.7" x2="1300.7" y2="899.7" stroke="#000" stroke-width="2.4" />
<line x1="1286.3" y1="870.3" x2="1300.7" y2="870.3" stroke="#000" stroke-width="2.4" />
<line x1="1301.0" y1="884.8" x2="1301.0" y2="856.8" stroke="#000" stroke-width="2.4" />
<line x1="1293.8" y1="884.8" x2="1308.2" y2="884.8" stroke="#000" stroke-width="2.4" />
<line x1="1293.8" y1="856.8" x2="1308.2" y2="856.8" stroke="#000" stroke-width="2.4" />
<line x1="1308.6" y1="896.0" x2="1308.6" y2="867.4" stroke="#000" stroke-width="2.4" />
<line x1="1301.4" y1="896.0" x2="1315.8" y2="896.0" stroke="#000" stroke-width="2.4" />
<line x1="1301.4" y1="867.4" x2="1315.8" y2="867.4" stroke="#000" stroke-width="2.4" />
<line x1="1316.1" y1="887.7" x2="1316.1" y2="863.9" stroke="#000" stroke-width="2.4" />
<line x1="1308.9" y1="887.7" x2="1323.3" y2="887.7" stroke="#000" stroke-width="2.4" />
<line x1="1308.9" y1="863.9" x2="1323.3" y2="863.9" stroke="#000" stroke-width="2.4" />
<line x1="1323.7" y1="897.4" x2="1323.7" y2="864.3" stroke="#000" stroke-width="2.4" />
<line x1="1316.5" y1="897.4" x2="1330.9" y2="897.4" stroke="#000" stroke-width="2.4" />
<line x1="1316.5" y1="864.3" x2="1330.9" y2="864.3" stroke="#000" stroke-width="2.4" />
<line x1="1331.3" y1="899.4" x2="1331.3" y2="870.3" stroke="#000" stroke-width="2.4" />
<line x1="1324.1" y1="899.4" x2="1338.5" y2="899.4" stroke="#000" stroke-width="2.4" />
<line x1="1324.1" y1="870.3" x2="1338.5" y2="870.3" stroke="#000" stroke-width="2.4" />
<line x1="1338.8" y1="892.6" x2="1338.8" y2="861.9" stroke="#000" stroke-width="2.4" />
<line x1="1331.6" y1="892.6" x2="1346.0" y2="892.6" stroke="#000" stroke-width="2.4" />
<line x1="1331.6" y1="861.9" x2="1346.0" y2="861.9" stroke="#000" stroke-width="2.4" />
<line x1="1346.4" y1="903.5" x2="1346.4" y2="876.5" stroke="#000" stroke-width="2.4" />
<line x1="1339.2" y1="903.5" x2="1353.6" y2="903.5" stroke="#000" stroke-width="2.4" />
<line x1="1339.2" y1="876.5" x2="1353.6" y2="876.5" stroke="#000" stroke-width="2.4" />
<line x1="1353.9" y1="893.5" x2="1353.9" y2="867.9" stroke="#000" stroke-width="2.4" />
<line x1="1346.7" y1="893.5" x2="1361.1" y2="893.5" stroke="#000" stroke-width="2.4" />
<line x1="1346.7" y1="867.9" x2="1361.1" y2="867.9" stroke="#000" stroke-width="2.4" />
<line x1="1361.5" y1="885.1" x2="1361.5" y2="860.8" stroke="#000" stroke-width="2.4" />
<line x1="1354.3" y1="885.1" x2="1368.7" y2="885.1" stroke="#000" stroke-width="2.4" />
<line x1="1354.3" y1="860.8" x2="1368.7" y2="860.8" stroke="#000" stroke-width="2.4" />
<line x1="1369.0" y1="904.4" x2="1369.0" y2="865.2" stroke="#000" stroke-width="2.4" />
<line x1="1361.8" y1="904.4" x2="1376.2" y2="904.4" stroke="#000" stroke-width="2.4" />
<line x1="1361.8" y1="865.2" x2="1376.2" y2="865.2" stroke="#000" stroke-width="2.4" />
<line x1="1376.6" y1="899.9" x2="1376.6" y2="862.9" stroke="#000" stroke-width="2.4" />
<line x1="1369.4" y1="899.9" x2="1383.8" y2="899.9" stroke="#000" stroke-width="2.4" />
<line x1="1369.4" y1="862.9" x2="1383.8" y2="862.9" stroke="#000" stroke-width="2.4" />
<line x1="1384.1" y1="911.0" x2="1384.1" y2="877.3" stroke="#000" stroke-width="2.4" />
<line x1="1376.9" y1="911.0" x2="1391.3" y2="911.0" stroke="#000" stroke-width="2.4" />
<line x1="1376.9" y1="877.3" x2="1391.3" y2="877.3" stroke="#000" stroke-width="2.4" />
<line x1="1391.7" y1="902.1" x2="1391.7" y2="876.2" stroke="#000" stroke-width="2.4" />
<line x1="1384.5" y1="902.1" x2="1398.9" y2="902.1" stroke="#000" stroke-width="2.4" />
<line x1="1384.5" y1="876.2" x2="1398.9" y2="876.2" stroke="#000" stroke-width="2.4" />
<line x1="1399.2" y1="898.0" x2="1399.2" y2="871.7" stroke="#000" stroke-width="2.4" />
<line x1="1392.0" y1="898.0" x2="1406.5" y2="898.0" stroke="#000" stroke-width="2.4" />
<line x1="1392.0" y1="871.7" x2="1406.5" y2="871.7" stroke="#000" stroke-width="2.4" />
<line x1="1406.8" y1="884.3" x2="1406.8" y2="858.4" stroke="#000" stroke-width="2.4" />
<line x1="1399.6" y1="884.3" x2="1414.0" y2="884.3" stroke="#000" stroke-width="2.4" />
<line x1="1399.6" y1="858.4" x2="1414.0" y2="858.4" stroke="#000" stroke-width="2.4" />
<line x1="1414.4" y1="908.1" x2="1414.4" y2="878.8" stroke="#000" stroke-width="2.4" />
<line x1="1407.2" y1="908.1" x2="1421.6" y2="908.1" stroke="#000" stroke-width="2.4" />
<line x1="1407.2" y1="878.8" x2="1421.6" y2="878.8" stroke="#000" stroke-width="2.4" />
<line x1="1421.9" y1="893.8" x2="1421.9" y2="869.1" stroke="#000" stroke-width="2.4" />
<line x1="1414.7" y1="893.8" x2="1429.1" y2="893.8" stroke="#000" stroke-width="2.4" />
<line x1="1414.7" y1="869.1" x2="1429.1" y2="869.1" stroke="#000" stroke-width="2.4" />
<line x1="1429.5" y1="907.7" x2="1429.5" y2="879.1" stroke="#000" stroke-width="2.4" />
<line x1="1422.3" y1="907.7" x2="1436.7" y2="907.7" stroke="#000" stroke-width="2.4" />
<line x1="1422.3" y1="879.1" x2="1436.7" y2="879.1" stroke="#000" stroke-width="2.4" />
<line x1="1437.0" y1="908.7" x2="1437.0" y2="881.4" stroke="#000" stroke-width="2.4" />
<line x1="1429.8" y1="908.7" x2="1444.2" y2="908.7" stroke="#000" stroke-width="2.4" />
<line x1="1429.8" y1="881.4" x2="1444.2" y2="881.4" stroke="#000" stroke-width="2.4" />
<line x1="1444.6" y1="899.3" x2="1444.6" y2="872.2" stroke="#000" stroke-width="2.4" />
<line x1="1437.4" y1="899.3" x2="1451.8" y2="899.3" stroke="#000" stroke-width="2.4" />
<line x1="1437.4" y1="872.2" x2="1451.8" y2="872.2" stroke="#000" stroke-width="2.4" />
<line x1="1452.1" y1="910.2" x2="1452.1" y2="874.9" stroke="#000" stroke-width="2.4" />
<line x1="1444.9" y1="910.2" x2="1459.3" y2="910.2" stroke="#000" stroke-width="2.4" />
<line x1="1444.9" y1="874.9" x2="1459.3" y2="874.9" stroke="#000" stroke-width="2.4" />
<line x1="1459.7" y1="909.4" x2="1459.7" y2="877.5" stroke="#000" stroke-width="2.4" />
<line x1="1452.5" y1="909.4" x2="1466.9" y2="909.4" stroke="#000" stroke-width="2.4" />
<line x1="1452.5" y1="877.5" x2="1466.9" y2="877.5" stroke="#000" stroke-width="2.4" />
<line x1="1467.2" y1="901.8" x2="1467.2" y2="869.7" stroke="#000" stroke-width="2.4" />
<line x1="1460.0" y1="901.8" x2="1474.4" y2="901.8" stroke="#000" stroke-width="2.4" />
<line x1="1460.0" y1="869.7" x2="1474.4" y2="869.7" stroke="#000" stroke-width="2.4" />
<line x1="1474.8" y1="915.1" x2="1474.8" y2="885.1" stroke="#000" stroke-width="2.4" />
<line x1="1467.6" y1="915.1" x2="1482.0" y2="915.1" stroke="#000" stroke-width="2.4" />
<line x1="1467.6" y1="885.1" x2="1482.0" y2="885.1" stroke="#000" stroke-width="2.4" />
<line x1="1482.4" y1="893.9" x2="1482.4" y2="860.6" stroke="#000" stroke-width="2.4" />
<line x1="1475.2" y1="893.9" x2="1489.6" y2="893.9" stroke="#000" stroke-width="2.4" />
<line x1="1475.2" y1="860.6" x2="1489.6" y2="860.6" stroke="#000" stroke-width="2.4" />
<line x1="1489.9" y1="908.9" x2="1489.9" y2="871.2" stroke="#000" stroke-width="2.4" />
<line x1="1482.7" y1="908.9" x2="1497.1" y2="908.9" stroke="#000" stroke-width="2.4" />
<line x1="1482.7" y1="871.2" x2="1497.1" y2="871.2" stroke="#000" stroke-width="2.4" />
<line x1="1497.5" y1="910.5" x2="1497.5" y2="881.4" stroke="#000" stroke-width="2.4" />
<line x1="1490.3" y1="910.5" x2="1504.7" y2="910.5" stroke="#000" stroke-width="2.4" />
<line x1="1490.3" y1="881.4" x2="1504.7" y2="881.4" stroke="#000" stroke-width="2.4" />
<line x1="1505.0" y1="885.5" x2="1505.0" y2="860.5" stroke="#000" stroke-width="2.4" />
<line x1="1497.8" y1="885.5" x2="1512.2" y2="885.5" stroke="#000" stroke-width="2.4" />
<line x1="1497.8" y1="860.5" x2="1512.2" y2="860.5" stroke="#000" stroke-width="2.4" />
<line x1="1512.6" y1="901.0" x2="1512.6" y2="868.7" stroke="#000" stroke-width="2.4" />
<line x1="1505.4" y1="901.0" x2="1519.8" y2="901.0" stroke="#000" stroke-width="2.4" />
<line x1="1505.4" y1="868.7" x2="1519.8" y2="868.7" stroke="#000" stroke-width="2.4" />
<line x1="1520.1" y1="896.7" x2="1520.1" y2="866.2" stroke="#000" stroke-width="2.4" />
<line x1="1512.9" y1="896.7" x2="1527.3" y2="896.7" stroke="#000" stroke-width="2.4" />
<line x1="1512.9" y1="866.2" x2="1527.3" y2="866.2" stroke="#000" stroke-width="2.4" />
<line x1="1527.7" y1="913.0" x2="1527.7" y2="875.4" stroke="#000" stroke-width="2.4" />
<line x1="1520.5" y1="913.0" x2="1534.9" y2="913.0" stroke="#000" stroke-width="2.4" />
<line x1="1520.5" y1="875.4" x2="1534.9" y2="875.4" stroke="#000" stroke-width="2.4" />
<line x1="1535.2" y1="902.0" x2="1535.2" y2="876.3" stroke="#000" stroke-width="2.4" />
<line x1="1528.0" y1="902.0" x2="1542.4" y2="902.0" stroke="#000" stroke-width="2.4" />
<line x1="1528.0" y1="876.3" x2="1542.4" y2="876.3" stroke="#000" stroke-width="2.4" />
<line x1="1542.8" y1="903.6" x2="1542.8" y2="864.3" stroke="#000" stroke-width="2.4" />
<line x1="1535.6" y1="903.6" x2="1550.0" y2="903.6" stroke="#000" stroke-width="2.4" />
<line x1="1535.6" y1="864.3" x2="1550.0" y2="864.3" stroke="#000" stroke-width="2.4" />
<line x1="1550.3" y1="883.3" x2="1550.3" y2="859.4" stroke="#000" stroke-width="2.4" />
<line x1="1543.1" y1="883.3" x2="1557.5" y2="883.3" stroke="#000" stroke-width="2.4" />
<line x1="1543.1" y1="859.4" x2="1557.5" y2="859.4" stroke="#000" stroke-width="2.4" />
<line x1="1557.9" y1="910.8" x2="1557.9" y2="877.5" stroke="#000" stroke-width="2.4" />
<line x1="1550.7" y1="910.8" x2="1565.1" y2="910.8" stroke="#000" stroke-width="2.4" />
<line x1="1550.7" y1="877.5" x2="1565.1" y2="877.5" stroke="#000" stroke-width="2.4" />
<line x1="1565.5" y1="898.1" x2="1565.5" y2="866.5" stroke="#000" stroke-width="2.4" />
<line x1="1558.3" y1="898.1" x2="1572.7" y2="898.1" stroke="#000" stroke-width="2.4" />
<line x1="1558.3" y1="866.5" x2="1572.7" y2="866.5" stroke="#000" stroke-width="2.4" />
<line x1="1573.0" y1="892.8" x2="1573.0" y2="863.5" stroke="#000" stroke-width="2.4" />
<line x1="1565.8" y1="892.8" x2="1580.2" y2="892.8" stroke="#000" stroke-width="2.4" />
<line x1="1565.8" y1="863.5" x2="1580.2" y2="863.5" stroke="#000" stroke-width="2.4" />
<line x1="1580.6" y1="910.5" x2="1580.6" y2="871.0" stroke="#000" stroke-width="2.4" />
<line x1="1573.4" y1="910.5" x2="1587.8" y2="910.5" stroke="#000" stroke-width="2.4" />
<line x1="1573.4" y1="871.0" x2="1587.8" y2="871.0" stroke="#000" stroke-width="2.4" />
<line x1="1588.1" y1="914.9" x2="1588.1" y2="878.7" stroke="#000" stroke-width="2.4" />
<line x1="1580.9" y1="914.9" x2="1595.3" y2="914.9" stroke="#000" stroke-width="2.4" />
<line x1="1580.9" y1="878.7" x2="1595.3" y2="878.7" stroke="#000" stroke-width="2.4" />
<line x1="1595.7" y1="886.3" x2="1595.7" y2="859.7" stroke="#000" stroke-width="2.4" />
<line x1="1588.5" y1="886.3" x2="1602.9" y2="886.3" stroke="#000" stroke-width="2.4" />
<line x1="1588.5" y1="859.7" x2="1602.9" y2="859.7" stroke="#000" stroke-width="2.4" />
<line x1="1603.2" y1="901.1" x2="1603.2" y2="868.6" stroke="#000" stroke-width="2.4" />
<line x1="1596.0" y1="901.1" x2="1610.4" y2="901.1" stroke="#000" stroke-width="2.4" />
<line x1="1596.0" y1="868.6" x2="1610.4" y2="868.6" stroke="#000" stroke-width="2.4" />
<line x1="1610.8" y1="899.6" x2="1610.8" y2="865.0" stroke="#000" stroke-width="2.4" />
<line x1="1603.6" y1="899.6" x2="1618.0" y2="899.6" stroke="#000" stroke-width="2.4" />
<line x1="1603.6" y1="865.0" x2="1618.0" y2="865.0" stroke="#000" stroke-width="2.4" />
<line x1="1618.3" y1="891.9" x2="1618.3" y2="867.6" stroke="#000" stroke-width="2.4" />
<line x1="1611.1" y1="891.9" x2="1625.5" y2="891.9" stroke="#000" stroke-width="2.4" />
<line x1="1611.1" y1="867.6" x2="1625.5" y2="867.6" stroke="#000" stroke-width="2.4" />
<line x1="1625.9" y1="901.8" x2="1625.9" y2="876.5" stroke="#000" stroke-width="2.4" />
<line x1="1618.7" y1="901.8" x2="1633.1" y2="901.8" stroke="#000" stroke-width="2.4" />
<line x1="1618.7" y1="876.5" x2="1633.1" y2="876.5" stroke="#000" stroke-width="2.4" />
<circle cx="1029.1" cy="927.5" r="4.6" fill="#000" stroke="none" stroke-width="0"/>
<circle cx="1036.6" cy="943.4" r="4.6" fill="#000" stroke="none" stroke-width="0"/>
<circle cx="1044.2" cy="934.2" r="4.6" fill="#000" stroke="none" stroke-width="0"/>
<circle cx="1051.7" cy="946.6" r="4.6" fill="#000" stroke="none" stroke-width="0"/>
<circle cx="1059.3" cy="940.0" r="4.6" fill="#000" stroke="none" stroke-width="0"/>
<circle cx="1066.8" cy="923.4" r="4.6" fill="#000" stroke="none" stroke-width="0"/>
<circle cx="1074.4" cy="932.5" r="4.6" fill="#000" stroke="none" stroke-width="0"/>
<circle cx="1081.9" cy="938.3" r="4.6" fill="#000" stroke="none" stroke-width="0"/>
<circle cx="1089.5" cy="931.8" r="4.6" fill="#000" stroke="none" stroke-width="0"/>
<circle cx="1097.0" cy="926.8" r="4.6" fill="#000" stroke="none" stroke-width="0"/>
<circle cx="1104.6" cy="930.9" r="4.6" fill="#000" stroke="none" stroke-width="0"/>
<circle cx="1112.2" cy="936.7" r="4.6" fill="#000" stroke="none" stroke-width="0"/>
<circle cx="1119.7" cy="949.1" r="4.6" fill="#000" stroke="none" stroke-width="0"/>
<circle cx="1127.3" cy="939.2" r="4.6" fill="#000" stroke="none" stroke-width="0"/>
<circle cx="1134.8" cy="937.6" r="4.6" fill="#000" stroke="none" stroke-width="0"/>
<circle cx="1142.4" cy="910.9" r="4.6" fill="#000" stroke="none" stroke-width="0"/>
<circle cx="1149.9" cy="930.0" r="4.6" fill="#000" stroke="none" stroke-width="0"/>
<circle cx="1157.5" cy="915.8" r="4.6" fill="#000" stroke="none" stroke-width="0"/>
<circle cx="1165.0" cy="920.0" r="4.6" fill="#000" stroke="none" stroke-width="0"/>
<circle cx="1172.6" cy="937.6" r="4.6" fill="#000" stroke="none" stroke-width="0"/>
<circle cx="1180.2" cy="930.9" r="4.6" fill="#000" stroke="none" stroke-width="0"/>
<circle cx="1187.7" cy="915.8" r="4.6" fill="#000" stroke="none" stroke-width="0"/>
<circle cx="1195.3" cy="930.9" r="4.6" fill="#000" stroke="none" stroke-width="0"/>
<circle cx="1202.8" cy="922.5" r="4.6" fill="#000" stroke="none" stroke-width="0"/>
<circle cx="1210.4" cy="904.2" r="4.6" fill="#000" stroke="none" stroke-width="0"/>
<circle cx="1217.9" cy="888.4" r="4.6" fill="#000" stroke="none" stroke-width="0"/>
<circle cx="1225.5" cy="887.5" r="4.6" fill="#000" stroke="none" stroke-width="0"/>
<circle cx="1233.0" cy="882.5" r="4.6" fill="#000" stroke="none" stroke-width="0"/>
<circle cx="1240.6" cy="885.0" r="4.6" fill="#000" stroke="none" stroke-width="0"/>
<circle cx="1248.2" cy="891.7" r="4.6" fill="#000" stroke="none" stroke-width="0"/>
<circle cx="1255.7" cy="874.2" r="4.6" fill="#000" stroke="none" stroke-width="0"/>
<circle cx="1263.3" cy="892.5" r="4.6" fill="#000" stroke="none" stroke-width="0"/>
<circle cx="1270.8" cy="879.9" r="4.6" fill="#000" stroke="none" stroke-width="0"/>
<circle cx="1278.4" cy="881.7" r="4.6" fill="#000" stroke="none" stroke-width="0"/>
<circle cx="1285.9" cy="883.4" r="4.6" fill="#000" stroke="none" stroke-width="0"/>
<circle cx="1293.5" cy="885.0" r="4.6" fill="#000" stroke="none" stroke-width="0"/>
<circle cx="1301.0" cy="870.8" r="4.6" fill="#000" stroke="none" stroke-width="0"/>
<circle cx="1308.6" cy="881.7" r="4.6" fill="#000" stroke="none" stroke-width="0"/>
<circle cx="1316.1" cy="875.8" r="4.6" fill="#000" stroke="none" stroke-width="0"/>
<circle cx="1323.7" cy="880.8" r="4.6" fill="#000" stroke="none" stroke-width="0"/>
<circle cx="1331.3" cy="884.8" r="4.6" fill="#000" stroke="none" stroke-width="0"/>
<circle cx="1338.8" cy="877.3" r="4.6" fill="#000" stroke="none" stroke-width="0"/>
<circle cx="1346.4" cy="890.0" r="4.6" fill="#000" stroke="none" stroke-width="0"/>
<circle cx="1353.9" cy="880.7" r="4.6" fill="#000" stroke="none" stroke-width="0"/>
<circle cx="1361.5" cy="873.0" r="4.6" fill="#000" stroke="none" stroke-width="0"/>
<circle cx="1369.0" cy="884.8" r="4.6" fill="#000" stroke="none" stroke-width="0"/>
<circle cx="1376.6" cy="881.4" r="4.6" fill="#000" stroke="none" stroke-width="0"/>
<circle cx="1384.1" cy="894.2" r="4.6" fill="#000" stroke="none" stroke-width="0"/>
<circle cx="1391.7" cy="889.1" r="4.6" fill="#000" stroke="none" stroke-width="0"/>
<circle cx="1399.2" cy="884.8" r="4.6" fill="#000" stroke="none" stroke-width="0"/>
<circle cx="1406.8" cy="871.4" r="4.6" fill="#000" stroke="none" stroke-width="0"/>
<circle cx="1414.4" cy="893.4" r="4.6" fill="#000" stroke="none" stroke-width="0"/>
<circle cx="1421.9" cy="881.4" r="4.6" fill="#000" stroke="none" stroke-width="0"/>
<circle cx="1429.5" cy="893.4" r="4.6" fill="#000" stroke="none" stroke-width="0"/>
<circle cx="1437.0" cy="895.1" r="4.6" fill="#000" stroke="none" stroke-width="0"/>
<circle cx="1444.6" cy="885.7" r="4.6" fill="#000" stroke="none" stroke-width="0"/>
<circle cx="1452.1" cy="892.5" r="4.6" fill="#000" stroke="none" stroke-width="0"/>
<circle cx="1459.7" cy="893.4" r="4.6" fill="#000" stroke="none" stroke-width="0"/>
<circle cx="1467.2" cy="885.7" r="4.6" fill="#000" stroke="none" stroke-width="0"/>
<circle cx="1474.8" cy="900.1" r="4.6" fill="#000" stroke="none" stroke-width="0"/>
<circle cx="1482.4" cy="877.3" r="4.6" fill="#000" stroke="none" stroke-width="0"/>
<circle cx="1489.9" cy="890.0" r="4.6" fill="#000" stroke="none" stroke-width="0"/>
<circle cx="1497.5" cy="895.9" r="4.6" fill="#000" stroke="none" stroke-width="0"/>
<circle cx="1505.0" cy="873.0" r="4.6" fill="#000" stroke="none" stroke-width="0"/>
<circle cx="1512.6" cy="884.8" r="4.6" fill="#000" stroke="none" stroke-width="0"/>
<circle cx="1520.1" cy="881.4" r="4.6" fill="#000" stroke="none" stroke-width="0"/>
<circle cx="1527.7" cy="894.2" r="4.6" fill="#000" stroke="none" stroke-width="0"/>
<circle cx="1535.2" cy="889.1" r="4.6" fill="#000" stroke="none" stroke-width="0"/>
<circle cx="1542.8" cy="883.9" r="4.6" fill="#000" stroke="none" stroke-width="0"/>
<circle cx="1550.3" cy="871.4" r="4.6" fill="#000" stroke="none" stroke-width="0"/>
<circle cx="1557.9" cy="894.2" r="4.6" fill="#000" stroke="none" stroke-width="0"/>
<circle cx="1565.5" cy="882.3" r="4.6" fill="#000" stroke="none" stroke-width="0"/>
<circle cx="1573.0" cy="878.2" r="4.6" fill="#000" stroke="none" stroke-width="0"/>
<circle cx="1580.6" cy="890.8" r="4.6" fill="#000" stroke="none" stroke-width="0"/>
<circle cx="1588.1" cy="896.8" r="4.6" fill="#000" stroke="none" stroke-width="0"/>
<circle cx="1595.7" cy="873.0" r="4.6" fill="#000" stroke="none" stroke-width="0"/>
<circle cx="1603.2" cy="884.8" r="4.6" fill="#000" stroke="none" stroke-width="0"/>
<circle cx="1610.8" cy="882.3" r="4.6" fill="#000" stroke="none" stroke-width="0"/>
<circle cx="1618.3" cy="879.8" r="4.6" fill="#000" stroke="none" stroke-width="0"/>
<circle cx="1625.9" cy="889.1" r="4.6" fill="#000" stroke="none" stroke-width="0"/>
</svg></body></html>
